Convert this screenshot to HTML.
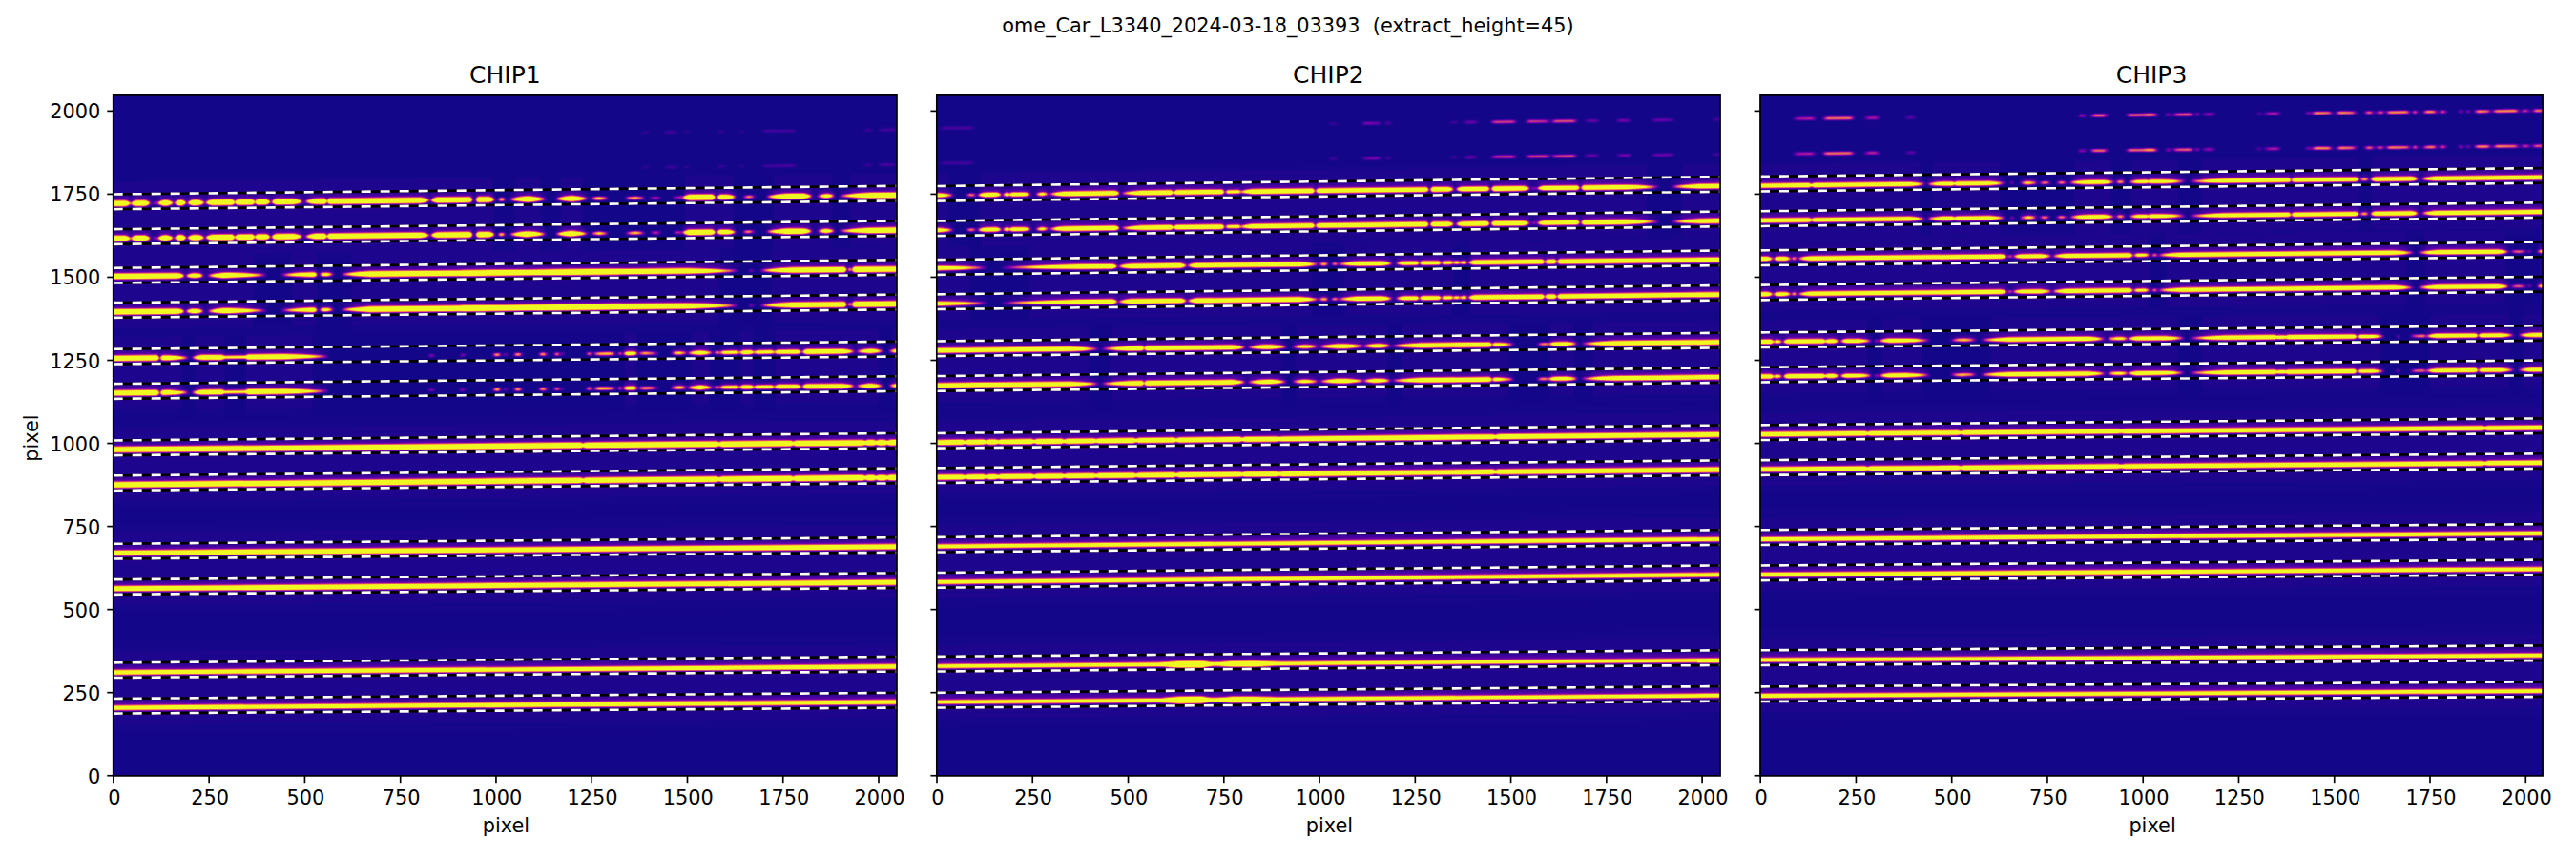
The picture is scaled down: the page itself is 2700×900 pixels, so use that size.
<!DOCTYPE html>
<html lang="en"><head><meta charset="utf-8"><title>ome_Car_L3340_2024-03-18_03393</title>
<style>html,body{margin:0;padding:0;background:#fff}body{width:2700px;height:900px;overflow:hidden}svg{display:block}text{font-family:"DejaVu Sans","Liberation Sans",sans-serif;fill:#000}.t{font-size:20.83px}.h{font-size:25px}.sp{fill:none;stroke:#000;stroke-width:1.67}.tk{stroke:#000;stroke-width:1.67}.dk{stroke:#000;stroke-width:2.6;fill:none}.dw{stroke:#fff;stroke-width:2.6;fill:none;stroke-dasharray:10 10}.i polygon{fill:#fff}</style></head><body>
<svg width="2700" height="900" viewBox="0 0 2700 900">
<defs>
<filter id="cm" filterUnits="userSpaceOnUse" x="0" y="0" width="2700" height="900" color-interpolation-filters="sRGB"><feGaussianBlur stdDeviation="1 1.25"/><feComponentTransfer><feFuncR type="table" tableValues=".075 .086 .106 .115 .132 .141 .156 .164 .179 .186 .200 .207 .221 .228 .241 .248 .261 .268 .281 .287 .300 .306 .319 .325 .338 .344 .356 .363 .375 .381 .393 .399 .412 .418 .430 .442 .448 .460 .466 .477 .483 .495 .501 .512 .518 .529 .535 .546 .552 .563 .568 .579 .584 .595 .600 .611 .616 .626 .631 .641 .646 .656 .660 .670 .675 .684 .688 .697 .702 .711 .715 .723 .728 .736 .740 .748 .752 .760 .764 .772 .776 .783 .787 .795 .798 .805 .809 .816 .820 .827 .830 .837 .840 .847 .850 .857 .860 .866 .869 .875 .878 .884 .887 .893 .896 .902 .905 .910 .913 .918 .921 .926 .928 .933 .936 .940 .943 .947 .949 .953 .957 .959 .963 .965 .969 .970 .973 .975 .978 .979 .982 .983 .985 .986 .988 .989 .991 .991 .993 .993 .994 .994 .994 .995 .994 .994 .994 .993 .993 .992 .990 .990 .988 .987 .984 .983 .980 .978 .974 .973 .968 .966 .962 .959 .954 .952 .947 .944 .940 .940 .940 .940 .940 .940 .940 .940 .940 .940 .940 .940 .940 .940 .940 .940 .940 .940 .940 .940 .940 .940 .940 .940 .940 .940 .940 .940 .940 .940 .940 .940 .940 .940 .940 .940 .940 .940 .940 .940 .940 .940 .940 .940 .940 .940 .940 .940 .940 .940 .940 .940 .940 .940 .940 .940 .940 .940 .940 .940 .940 .940 .940 .940 .940 .940 .940 .940 .940 .940 .940 .940 .940 .940 .940 .940 .940 .940 .940 .940 .940 .940 .940 .940 .940 .940 .940 .940"/><feFuncG type="table" tableValues=".027 .026 .024 .024 .022 .022 .021 .020 .019 .019 .018 .017 .016 .016 .015 .014 .013 .013 .011 .011 .010 .009 .008 .007 .006 .005 .004 .003 .002 .002 .001 .001 .001 .001 .001 .002 .002 .004 .005 .007 .008 .012 .014 .019 .022 .028 .031 .039 .043 .052 .056 .064 .069 .077 .082 .090 .095 .103 .108 .116 .121 .130 .134 .143 .147 .156 .161 .170 .174 .183 .187 .196 .201 .209 .214 .223 .227 .236 .240 .249 .254 .263 .267 .276 .280 .289 .293 .302 .307 .316 .320 .329 .334 .343 .347 .356 .361 .370 .374 .383 .388 .397 .402 .411 .416 .425 .430 .439 .444 .454 .458 .468 .473 .483 .488 .498 .503 .513 .518 .528 .538 .543 .554 .559 .570 .575 .586 .591 .602 .608 .619 .624 .635 .641 .652 .658 .670 .675 .687 .693 .705 .711 .723 .729 .741 .747 .759 .765 .778 .784 .797 .803 .816 .822 .835 .842 .855 .861 .875 .881 .895 .901 .915 .921 .935 .942 .955 .962 .975 .975 .975 .975 .975 .975 .975 .975 .975 .975 .975 .975 .975 .975 .975 .975 .975 .975 .975 .975 .975 .975 .975 .975 .975 .975 .975 .975 .975 .975 .975 .975 .975 .975 .975 .975 .975 .975 .975 .975 .975 .975 .975 .975 .975 .975 .975 .975 .975 .975 .975 .975 .975 .975 .975 .975 .975 .975 .975 .975 .975 .975 .975 .975 .975 .975 .975 .975 .975 .975 .975 .975 .975 .975 .975 .975 .975 .975 .975 .975 .975 .975 .975 .975 .975 .975 .975 .975"/><feFuncB type="table" tableValues=".538 .543 .551 .555 .563 .567 .574 .577 .584 .587 .593 .596 .602 .605 .610 .613 .618 .620 .625 .627 .632 .634 .638 .640 .643 .645 .648 .649 .652 .653 .655 .656 .658 .658 .659 .660 .660 .660 .660 .660 .659 .658 .657 .655 .654 .652 .650 .647 .645 .642 .639 .635 .633 .628 .625 .620 .617 .611 .608 .602 .599 .592 .589 .582 .579 .572 .568 .561 .557 .550 .546 .539 .535 .528 .524 .517 .513 .506 .502 .495 .491 .484 .480 .473 .470 .462 .459 .452 .448 .441 .438 .431 .427 .421 .417 .410 .407 .400 .397 .390 .387 .380 .376 .370 .366 .360 .356 .350 .346 .340 .336 .329 .326 .319 .316 .309 .306 .299 .296 .289 .282 .279 .272 .269 .262 .258 .252 .248 .241 .238 .231 .228 .221 .218 .211 .208 .202 .198 .192 .189 .183 .180 .174 .172 .166 .164 .159 .157 .153 .151 .148 .147 .144 .144 .143 .142 .142 .143 .144 .145 .147 .148 .151 .152 .153 .153 .150 .147 .131 .131 .131 .131 .131 .131 .131 .131 .131 .131 .131 .131 .131 .131 .131 .131 .131 .131 .131 .131 .131 .131 .131 .131 .131 .131 .131 .131 .131 .131 .131 .131 .131 .131 .131 .131 .131 .131 .131 .131 .131 .131 .131 .131 .131 .131 .131 .131 .131 .131 .131 .131 .131 .131 .131 .131 .131 .131 .131 .131 .131 .131 .131 .131 .131 .131 .131 .131 .131 .131 .131 .131 .131 .131 .131 .131 .131 .131 .131 .131 .131 .131 .131 .131 .131 .131 .131 .131"/></feComponentTransfer></filter>
<filter id="cm2" filterUnits="userSpaceOnUse" x="0" y="0" width="2700" height="900" color-interpolation-filters="sRGB"><feGaussianBlur stdDeviation="0.9 0.85"/><feComponentTransfer><feFuncR type="table" tableValues=".075 .086 .106 .115 .132 .141 .156 .164 .179 .186 .200 .207 .221 .228 .241 .248 .261 .268 .281 .287 .300 .306 .319 .325 .338 .344 .356 .363 .375 .381 .393 .399 .412 .418 .430 .442 .448 .460 .466 .477 .483 .495 .501 .512 .518 .529 .535 .546 .552 .563 .568 .579 .584 .595 .600 .611 .616 .626 .631 .641 .646 .656 .660 .670 .675 .684 .688 .697 .702 .711 .715 .723 .728 .736 .740 .748 .752 .760 .764 .772 .776 .783 .787 .795 .798 .805 .809 .816 .820 .827 .830 .837 .840 .847 .850 .857 .860 .866 .869 .875 .878 .884 .887 .893 .896 .902 .905 .910 .913 .918 .921 .926 .928 .933 .936 .940 .943 .947 .949 .953 .957 .959 .963 .965 .969 .970 .973 .975 .978 .979 .982 .983 .985 .986 .988 .989 .991 .991 .993 .993 .994 .994 .994 .995 .994 .994 .994 .993 .993 .992 .990 .990 .988 .987 .984 .983 .980 .978 .974 .973 .968 .966 .962 .959 .954 .952 .947 .944 .940 .940 .940 .940 .940 .940 .940 .940 .940 .940 .940 .940 .940 .940 .940 .940 .940 .940 .940 .940 .940 .940 .940 .940 .940 .940 .940 .940 .940 .940 .940 .940 .940 .940 .940 .940 .940 .940 .940 .940 .940 .940 .940 .940 .940 .940 .940 .940 .940 .940 .940 .940 .940 .940 .940 .940 .940 .940 .940 .940 .940 .940 .940 .940 .940 .940 .940 .940 .940 .940 .940 .940 .940 .940 .940 .940 .940 .940 .940 .940 .940 .940 .940 .940 .940 .940 .940 .940"/><feFuncG type="table" tableValues=".027 .026 .024 .024 .022 .022 .021 .020 .019 .019 .018 .017 .016 .016 .015 .014 .013 .013 .011 .011 .010 .009 .008 .007 .006 .005 .004 .003 .002 .002 .001 .001 .001 .001 .001 .002 .002 .004 .005 .007 .008 .012 .014 .019 .022 .028 .031 .039 .043 .052 .056 .064 .069 .077 .082 .090 .095 .103 .108 .116 .121 .130 .134 .143 .147 .156 .161 .170 .174 .183 .187 .196 .201 .209 .214 .223 .227 .236 .240 .249 .254 .263 .267 .276 .280 .289 .293 .302 .307 .316 .320 .329 .334 .343 .347 .356 .361 .370 .374 .383 .388 .397 .402 .411 .416 .425 .430 .439 .444 .454 .458 .468 .473 .483 .488 .498 .503 .513 .518 .528 .538 .543 .554 .559 .570 .575 .586 .591 .602 .608 .619 .624 .635 .641 .652 .658 .670 .675 .687 .693 .705 .711 .723 .729 .741 .747 .759 .765 .778 .784 .797 .803 .816 .822 .835 .842 .855 .861 .875 .881 .895 .901 .915 .921 .935 .942 .955 .962 .975 .975 .975 .975 .975 .975 .975 .975 .975 .975 .975 .975 .975 .975 .975 .975 .975 .975 .975 .975 .975 .975 .975 .975 .975 .975 .975 .975 .975 .975 .975 .975 .975 .975 .975 .975 .975 .975 .975 .975 .975 .975 .975 .975 .975 .975 .975 .975 .975 .975 .975 .975 .975 .975 .975 .975 .975 .975 .975 .975 .975 .975 .975 .975 .975 .975 .975 .975 .975 .975 .975 .975 .975 .975 .975 .975 .975 .975 .975 .975 .975 .975 .975 .975 .975 .975 .975 .975"/><feFuncB type="table" tableValues=".538 .543 .551 .555 .563 .567 .574 .577 .584 .587 .593 .596 .602 .605 .610 .613 .618 .620 .625 .627 .632 .634 .638 .640 .643 .645 .648 .649 .652 .653 .655 .656 .658 .658 .659 .660 .660 .660 .660 .660 .659 .658 .657 .655 .654 .652 .650 .647 .645 .642 .639 .635 .633 .628 .625 .620 .617 .611 .608 .602 .599 .592 .589 .582 .579 .572 .568 .561 .557 .550 .546 .539 .535 .528 .524 .517 .513 .506 .502 .495 .491 .484 .480 .473 .470 .462 .459 .452 .448 .441 .438 .431 .427 .421 .417 .410 .407 .400 .397 .390 .387 .380 .376 .370 .366 .360 .356 .350 .346 .340 .336 .329 .326 .319 .316 .309 .306 .299 .296 .289 .282 .279 .272 .269 .262 .258 .252 .248 .241 .238 .231 .228 .221 .218 .211 .208 .202 .198 .192 .189 .183 .180 .174 .172 .166 .164 .159 .157 .153 .151 .148 .147 .144 .144 .143 .142 .142 .143 .144 .145 .147 .148 .151 .152 .153 .153 .150 .147 .131 .131 .131 .131 .131 .131 .131 .131 .131 .131 .131 .131 .131 .131 .131 .131 .131 .131 .131 .131 .131 .131 .131 .131 .131 .131 .131 .131 .131 .131 .131 .131 .131 .131 .131 .131 .131 .131 .131 .131 .131 .131 .131 .131 .131 .131 .131 .131 .131 .131 .131 .131 .131 .131 .131 .131 .131 .131 .131 .131 .131 .131 .131 .131 .131 .131 .131 .131 .131 .131 .131 .131 .131 .131 .131 .131 .131 .131 .131 .131 .131 .131 .131 .131 .131 .131 .131 .131"/></feComponentTransfer></filter>
<clipPath id="c0"><rect x="118.7" y="99.85" width="821.3" height="713.05"/></clipPath>
<clipPath id="c1"><rect x="981.8" y="99.85" width="821.25" height="713.05"/></clipPath>
<clipPath id="c2"><rect x="1844.97" y="99.85" width="820.13" height="713.05"/></clipPath>
</defs>
<rect width="2700" height="900" fill="#fff"/>
<g clip-path="url(#c0)">
<g class="i" filter="url(#cm)">
<rect x="98.7" y="79.85" width="861.3" height="753.05" fill="#000"/>
<g opacity="0.009">
<polygon points="116.3,201.78 516.4,197.51 516.4,217.51 116.3,221.78"/>
<polygon points="540.5,197.26 565.7,196.99 565.7,216.99 540.5,217.26"/>
<polygon points="588.4,196.75 610,196.52 610,216.52 588.4,216.75"/>
<polygon points="718,195.37 768.1,194.83 768.1,214.83 718,215.37"/>
<polygon points="810.8,194.38 872.2,193.72 872.2,213.72 810.8,214.38"/>
<polygon points="891.6,193.52 946.7,192.93 946.7,212.93 891.6,213.52"/>
<polygon points="116.3,238.43 516.4,234.19 516.4,254.19 116.3,258.43"/>
<polygon points="540.5,233.93 565.7,233.67 565.7,253.67 540.5,253.93"/>
<polygon points="588.4,233.42 610,233.2 610,253.2 588.4,253.42"/>
<polygon points="718,232.05 768.1,231.52 768.1,251.52 718,252.05"/>
<polygon points="810.8,231.07 872.2,230.42 872.2,250.42 810.8,251.07"/>
<polygon points="891.6,230.21 946.7,229.63 946.7,249.63 891.6,250.21"/>
<polygon points="116.3,278.12 264.9,276.75 264.9,296.75 116.3,298.12"/>
<polygon points="305.8,276.37 331.5,276.13 331.5,296.13 305.8,296.37"/>
<polygon points="368.7,275.79 754,272.22 754,292.22 368.7,295.79"/>
<polygon points="809.4,271.71 946.7,270.44 946.7,290.44 809.4,291.71"/>
<polygon points="116.3,315.42 264.9,313.89 264.9,333.89 116.3,335.42"/>
<polygon points="305.8,313.46 331.5,313.2 331.5,333.2 305.8,333.46"/>
<polygon points="368.7,312.81 754,308.82 754,328.82 368.7,332.81"/>
<polygon points="809.4,308.25 946.7,306.83 946.7,326.83 809.4,328.25"/>
<polygon points="116.3,364.02 190.3,363.31 190.3,383.31 116.3,384.02"/>
<polygon points="205.1,363.17 234.8,362.88 234.8,382.88 205.1,383.17"/>
<polygon points="257.7,362.66 327,362 327,382 257.7,382.66"/>
<polygon points="654.9,358.84 666.7,358.73 666.7,378.73 654.9,378.84"/>
<polygon points="725.1,358.17 742.6,358 742.6,378 725.1,378.17"/>
<polygon points="776.2,357.68 789.3,357.55 789.3,377.55 776.2,377.68"/>
<polygon points="812.9,357.32 921.1,356.28 921.1,376.28 812.9,377.32"/>
<polygon points="935.8,356.14 953.3,355.97 953.3,375.97 935.8,376.14"/>
<polygon points="116.3,400.42 190.3,399.71 190.3,419.71 116.3,420.42"/>
<polygon points="205.1,399.57 234.8,399.28 234.8,419.28 205.1,419.57"/>
<polygon points="257.7,399.06 327,398.4 327,418.4 257.7,419.06"/>
<polygon points="654.9,395.24 666.7,395.13 666.7,415.13 654.9,415.24"/>
<polygon points="725.1,394.57 742.6,394.4 742.6,414.4 725.1,414.57"/>
<polygon points="776.2,394.08 789.3,393.95 789.3,413.95 776.2,414.08"/>
<polygon points="812.9,393.72 921.1,392.68 921.1,412.68 812.9,413.72"/>
<polygon points="935.8,392.54 953.3,392.37 953.3,412.37 935.8,412.54"/>
<polygon points="103.7,459.84 955,452.06 955,472.06 103.7,479.84"/>
<polygon points="103.7,496.64 955,488.76 955,508.76 103.7,516.64"/>
<polygon points="103.7,568.12 955,561.28 955,581.28 103.7,588.12"/>
<polygon points="103.7,605.52 955,598.48 955,618.48 103.7,625.52"/>
<polygon points="103.7,693.21 955,686.79 955,706.79 103.7,713.21"/>
<polygon points="103.7,730.31 955,723.99 955,743.99 103.7,750.31"/>
</g>
<g opacity="0.008">
<polygon points="116.3,191.78 516.4,187.51 516.4,225.51 116.3,229.78"/>
<polygon points="540.5,187.26 565.7,186.99 565.7,224.99 540.5,225.26"/>
<polygon points="588.4,186.75 610,186.52 610,224.52 588.4,224.75"/>
<polygon points="718,185.37 768.1,184.83 768.1,222.83 718,223.37"/>
<polygon points="810.8,184.38 872.2,183.72 872.2,221.72 810.8,222.38"/>
<polygon points="891.6,183.52 946.7,182.93 946.7,220.93 891.6,221.52"/>
<polygon points="116.3,228.43 516.4,224.19 516.4,262.19 116.3,266.43"/>
<polygon points="540.5,223.93 565.7,223.67 565.7,261.67 540.5,261.93"/>
<polygon points="588.4,223.42 610,223.2 610,261.2 588.4,261.42"/>
<polygon points="718,222.05 768.1,221.52 768.1,259.52 718,260.05"/>
<polygon points="810.8,221.07 872.2,220.42 872.2,258.42 810.8,259.07"/>
<polygon points="891.6,220.21 946.7,219.63 946.7,257.63 891.6,258.21"/>
<polygon points="116.3,268.12 264.9,266.75 264.9,304.75 116.3,306.12"/>
<polygon points="305.8,266.37 331.5,266.13 331.5,304.13 305.8,304.37"/>
<polygon points="368.7,265.79 754,262.22 754,300.22 368.7,303.79"/>
<polygon points="809.4,261.71 946.7,260.44 946.7,298.44 809.4,299.71"/>
<polygon points="116.3,305.42 264.9,303.89 264.9,341.89 116.3,343.42"/>
<polygon points="305.8,303.46 331.5,303.2 331.5,341.2 305.8,341.46"/>
<polygon points="368.7,302.81 754,298.82 754,336.82 368.7,340.81"/>
<polygon points="809.4,298.25 946.7,296.83 946.7,334.83 809.4,336.25"/>
<polygon points="116.3,354.02 190.3,353.31 190.3,391.31 116.3,392.02"/>
<polygon points="205.1,353.17 234.8,352.88 234.8,390.88 205.1,391.17"/>
<polygon points="257.7,352.66 327,352 327,390 257.7,390.66"/>
<polygon points="654.9,348.84 666.7,348.73 666.7,386.73 654.9,386.84"/>
<polygon points="725.1,348.17 742.6,348 742.6,386 725.1,386.17"/>
<polygon points="776.2,347.68 789.3,347.55 789.3,385.55 776.2,385.68"/>
<polygon points="812.9,347.32 921.1,346.28 921.1,384.28 812.9,385.32"/>
<polygon points="935.8,346.14 953.3,345.97 953.3,383.97 935.8,384.14"/>
<polygon points="116.3,390.42 190.3,389.71 190.3,427.71 116.3,428.42"/>
<polygon points="205.1,389.57 234.8,389.28 234.8,427.28 205.1,427.57"/>
<polygon points="257.7,389.06 327,388.4 327,426.4 257.7,427.06"/>
<polygon points="654.9,385.24 666.7,385.13 666.7,423.13 654.9,423.24"/>
<polygon points="725.1,384.57 742.6,384.4 742.6,422.4 725.1,422.57"/>
<polygon points="776.2,384.08 789.3,383.95 789.3,421.95 776.2,422.08"/>
<polygon points="812.9,383.72 921.1,382.68 921.1,420.68 812.9,421.72"/>
<polygon points="935.8,382.54 953.3,382.37 953.3,420.37 935.8,420.54"/>
<polygon points="103.7,449.84 955,442.06 955,480.06 103.7,487.84"/>
<polygon points="103.7,486.64 955,478.76 955,516.76 103.7,524.64"/>
<polygon points="103.7,558.12 955,551.28 955,589.28 103.7,596.12"/>
<polygon points="103.7,595.52 955,588.48 955,626.48 103.7,633.52"/>
<polygon points="103.7,683.21 955,676.79 955,714.79 103.7,721.21"/>
<polygon points="103.7,720.31 955,713.99 955,751.99 103.7,758.31"/>
</g>
<g opacity="0.004">
<polygon points="116.3,181.28 516.4,177.01 516.4,235.01 116.3,239.28"/>
<polygon points="540.5,176.76 565.7,176.49 565.7,234.49 540.5,234.76"/>
<polygon points="588.4,176.25 610,176.02 610,234.02 588.4,234.25"/>
<polygon points="718,174.87 768.1,174.33 768.1,232.33 718,232.87"/>
<polygon points="810.8,173.88 872.2,173.22 872.2,231.22 810.8,231.88"/>
<polygon points="891.6,173.02 946.7,172.43 946.7,230.43 891.6,231.02"/>
<polygon points="116.3,217.93 516.4,213.69 516.4,271.69 116.3,275.93"/>
<polygon points="540.5,213.43 565.7,213.17 565.7,271.17 540.5,271.43"/>
<polygon points="588.4,212.92 610,212.7 610,270.7 588.4,270.92"/>
<polygon points="718,211.55 768.1,211.02 768.1,269.02 718,269.55"/>
<polygon points="810.8,210.57 872.2,209.92 872.2,267.92 810.8,268.57"/>
<polygon points="891.6,209.71 946.7,209.13 946.7,267.13 891.6,267.71"/>
<polygon points="116.3,257.62 264.9,256.25 264.9,314.25 116.3,315.62"/>
<polygon points="305.8,255.87 331.5,255.63 331.5,313.63 305.8,313.87"/>
<polygon points="368.7,255.29 754,251.72 754,309.72 368.7,313.29"/>
<polygon points="809.4,251.21 946.7,249.94 946.7,307.94 809.4,309.21"/>
<polygon points="116.3,294.92 264.9,293.39 264.9,351.39 116.3,352.92"/>
<polygon points="305.8,292.96 331.5,292.7 331.5,350.7 305.8,350.96"/>
<polygon points="368.7,292.31 754,288.32 754,346.32 368.7,350.31"/>
<polygon points="809.4,287.75 946.7,286.33 946.7,344.33 809.4,345.75"/>
<polygon points="116.3,343.52 190.3,342.81 190.3,400.81 116.3,401.52"/>
<polygon points="205.1,342.67 234.8,342.38 234.8,400.38 205.1,400.67"/>
<polygon points="257.7,342.16 327,341.5 327,399.5 257.7,400.16"/>
<polygon points="654.9,338.34 666.7,338.23 666.7,396.23 654.9,396.34"/>
<polygon points="725.1,337.67 742.6,337.5 742.6,395.5 725.1,395.67"/>
<polygon points="776.2,337.18 789.3,337.05 789.3,395.05 776.2,395.18"/>
<polygon points="812.9,336.82 921.1,335.78 921.1,393.78 812.9,394.82"/>
<polygon points="935.8,335.64 953.3,335.47 953.3,393.47 935.8,393.64"/>
<polygon points="116.3,379.92 190.3,379.21 190.3,437.21 116.3,437.92"/>
<polygon points="205.1,379.07 234.8,378.78 234.8,436.78 205.1,437.07"/>
<polygon points="257.7,378.56 327,377.9 327,435.9 257.7,436.56"/>
<polygon points="654.9,374.74 666.7,374.63 666.7,432.63 654.9,432.74"/>
<polygon points="725.1,374.07 742.6,373.9 742.6,431.9 725.1,432.07"/>
<polygon points="776.2,373.58 789.3,373.45 789.3,431.45 776.2,431.58"/>
<polygon points="812.9,373.22 921.1,372.18 921.1,430.18 812.9,431.22"/>
<polygon points="935.8,372.04 953.3,371.87 953.3,429.87 935.8,430.04"/>
<polygon points="103.7,439.34 955,431.56 955,489.56 103.7,497.34"/>
<polygon points="103.7,476.14 955,468.26 955,526.26 103.7,534.14"/>
<polygon points="103.7,547.62 955,540.78 955,598.78 103.7,605.62"/>
<polygon points="103.7,585.02 955,577.98 955,635.98 103.7,643.02"/>
<polygon points="103.7,672.71 955,666.29 955,724.29 103.7,730.71"/>
<polygon points="103.7,709.81 955,703.49 955,761.49 103.7,767.81"/>
</g>
<g opacity="0.055">
<polygon points="116.3,207.28 116.3,207.28 131.6,207.11 134.7,207.84 137.9,209.05 134.7,210.32 131.6,211.11 116.3,211.28 116.3,211.28"/>
<polygon points="136.8,209.06 139.4,207.79 141.9,207 151.9,206.9 155.1,207.62 158.2,208.83 155.1,210.1 151.9,210.9 141.9,211 139.4,210.27"/>
<polygon points="164.3,208.76 168.1,207.48 171.8,206.68 175,206.65 178.8,207.37 182.5,208.57 178.8,209.85 175,210.65 171.8,210.68 168.1,209.97"/>
<polygon points="182.5,208.57 185.1,207.3 187.6,206.52 190.7,206.48 193.2,207.21 195.7,208.43 193.2,209.7 190.7,210.48 187.6,210.52 185.1,209.79"/>
<polygon points="196,208.43 199.1,207.15 202.2,206.36 207.5,206.3 211.3,207.02 215,208.22 211.3,209.51 207.5,210.3 202.2,210.36 199.1,209.64"/>
<polygon points="214.6,208.23 218.4,206.95 222.2,206.15 243.8,205.92 245,206.66 246.3,207.89 245,209.15 243.8,209.92 222.2,210.15 218.4,209.43"/>
<polygon points="246.3,207.89 247.5,206.64 248.8,205.86 264.7,205.69 266,206.44 267.2,207.67 266,208.92 264.7,209.69 248.8,209.86 247.5,209.12"/>
<polygon points="267.2,207.67 268.5,206.41 269.7,205.64 278.8,205.54 281.3,206.28 283.8,207.49 281.3,208.76 278.8,209.54 269.7,209.64 268.5,208.9"/>
<polygon points="284.2,207.49 286.7,206.22 289.2,205.43 308.1,205.23 313.1,205.94 318.2,207.12 313.1,208.42 308.1,209.23 289.2,209.43 286.7,208.7"/>
<polygon points="318.6,207.12 324.9,205.81 331.2,204.99 340.6,204.89 341.6,205.63 342.6,206.86 341.6,208.12 340.6,208.89 331.2,208.99 324.9,208.3"/>
<polygon points="342.8,206.86 343.8,205.61 344.8,204.84 441.2,203.81 446.3,204.52 451.3,205.71 446.3,207 441.2,207.81 344.8,208.84 343.8,208.09"/>
<polygon points="450.7,205.71 454.4,204.43 458.2,203.63 492.8,203.26 494.1,204.01 495.3,205.24 494.1,206.49 492.8,207.26 458.2,207.63 454.4,206.92"/>
<polygon points="498.7,205.2 499.9,203.95 501.2,203.17 512.7,203.05 515.9,203.78 519,204.99 515.9,206.26 512.7,207.05 501.2,207.17 499.9,206.43"/>
<polygon points="532.6,204.84 542.1,203.5 551.5,202.64 554.7,202.61 564.1,203.26 573.5,204.4 564.1,205.75 554.7,206.61 551.5,206.64 542.1,205.98"/>
<polygon points="581.1,204.32 589.9,202.99 598.7,202.14 599.7,202.13 608.5,202.79 617.3,203.94 608.5,205.27 599.7,206.13 598.7,206.14 589.9,205.47"/>
<polygon points="714.8,202.9 718.6,201.62 722.4,200.82 746.5,200.56 748.4,201.3 750.3,202.52 748.4,203.78 746.5,204.56 722.4,204.82 718.6,204.1"/>
<polygon points="751.1,202.91 753,201.77 754.9,201.07 762.2,200.99 767.2,201.62 772.3,202.69 767.2,203.86 762.2,204.59 754.9,204.67 753,204.01"/>
<polygon points="801.4,201.98 812.7,200.61 824,199.74 841.9,199.55 846.9,200.25 851.9,201.44 846.9,202.73 841.9,203.55 824,203.74 812.7,203.1"/>
<polygon points="856.1,202.39 860.5,201.42 864.9,200.8 867,200.78 871.4,201.3 875.8,202.18 871.4,203.16 867,203.78 864.9,203.8 860.5,203.28"/>
<polygon points="876.9,201.17 894.5,199.74 912.1,198.8 946.7,198.43 946.7,198.43 946.7,202.43 946.7,202.43 912.1,202.8 894.5,202.23"/>
<polygon points="116.3,243.93 116.3,243.93 131.6,243.76 134.7,244.49 137.9,245.7 134.7,246.97 131.6,247.76 116.3,247.93 116.3,247.93"/>
<polygon points="136.8,245.71 139.4,244.44 141.9,243.65 151.9,243.55 155.1,244.27 158.2,245.48 155.1,246.76 151.9,247.55 141.9,247.65 139.4,246.92"/>
<polygon points="164.3,245.42 168.1,244.13 171.8,243.34 175,243.3 178.8,244.02 182.5,245.22 178.8,246.51 175,247.3 171.8,247.34 168.1,246.62"/>
<polygon points="182.5,245.22 185.1,243.95 187.6,243.17 190.7,243.14 193.2,243.87 195.7,245.08 193.2,246.35 190.7,247.14 187.6,247.17 185.1,246.44"/>
<polygon points="196,245.08 199.1,243.81 202.2,243.02 207.5,242.96 211.3,243.68 215,244.88 211.3,246.16 207.5,246.96 202.2,247.02 199.1,246.29"/>
<polygon points="214.6,244.88 218.4,243.6 222.2,242.8 243.8,242.58 245,243.32 246.3,244.55 245,245.8 243.8,246.58 222.2,246.8 218.4,246.09"/>
<polygon points="246.3,244.55 247.5,243.29 248.8,242.52 264.7,242.35 266,243.1 267.2,244.33 266,245.58 264.7,246.35 248.8,246.52 247.5,245.78"/>
<polygon points="267.2,244.33 268.5,243.07 269.7,242.3 278.8,242.2 281.3,242.94 283.8,244.15 281.3,245.42 278.8,246.2 269.7,246.3 268.5,245.56"/>
<polygon points="284.2,244.15 286.7,242.88 289.2,242.09 308.1,241.89 313.1,242.6 318.2,243.79 313.1,245.08 308.1,245.89 289.2,246.09 286.7,245.36"/>
<polygon points="318.6,243.78 324.9,242.47 331.2,241.65 340.6,241.55 341.6,242.3 342.6,243.53 341.6,244.78 340.6,245.55 331.2,245.65 324.9,244.96"/>
<polygon points="342.8,243.53 343.8,242.27 344.8,241.5 441.2,240.48 446.3,241.19 451.3,242.38 446.3,243.67 441.2,244.48 344.8,245.5 343.8,244.76"/>
<polygon points="450.7,242.38 454.4,241.1 458.2,240.3 492.8,239.94 494.1,240.68 495.3,241.91 494.1,243.17 492.8,243.94 458.2,244.3 454.4,243.59"/>
<polygon points="498.7,241.87 499.9,240.62 501.2,239.85 512.7,239.73 515.9,240.45 519,241.66 515.9,242.93 512.7,243.73 501.2,243.85 499.9,243.1"/>
<polygon points="532.6,241.52 542.1,240.17 551.5,239.32 554.7,239.28 564.1,239.94 573.5,241.08 564.1,242.42 554.7,243.28 551.5,243.32 542.1,242.66"/>
<polygon points="581.1,241 589.9,239.67 598.7,238.82 599.7,238.8 608.5,239.47 617.3,240.62 608.5,241.95 599.7,242.8 598.7,242.82 589.9,242.15"/>
<polygon points="714.8,239.59 718.6,238.3 722.4,237.51 746.5,237.25 748.4,237.99 750.3,239.21 748.4,240.47 746.5,241.25 722.4,241.51 718.6,240.79"/>
<polygon points="751.1,239.6 753,238.46 754.9,237.76 762.2,237.68 767.2,238.31 772.3,239.38 767.2,240.55 762.2,241.28 754.9,241.36 753,240.7"/>
<polygon points="801.4,238.67 812.7,237.31 824,236.43 841.9,236.24 846.9,236.94 851.9,238.13 846.9,239.43 841.9,240.24 824,240.43 812.7,239.79"/>
<polygon points="856.1,239.09 860.5,238.11 864.9,237.5 867,237.47 871.4,237.99 875.8,238.88 871.4,239.86 867,240.47 864.9,240.5 860.5,239.97"/>
<polygon points="876.9,237.87 894.5,236.44 912.1,235.5 946.7,235.13 946.7,235.13 946.7,239.13 946.7,239.13 912.1,239.5 894.5,238.92"/>
<polygon points="116.3,283.62 116.3,283.62 186.5,282.97 190.3,283.7 194.1,284.9 190.3,286.18 186.5,286.97 116.3,287.62 116.3,287.62"/>
<polygon points="194.3,285.5 198.1,284.41 201.8,283.73 206.4,283.69 210.2,284.3 214,285.32 210.2,286.41 206.4,287.09 201.8,287.13 198.1,286.52"/>
<polygon points="216.1,284.9 224.9,283.64 233.7,282.84 240,282.78 261.4,283.3 282.7,284.28 261.4,285.66 240,286.58 233.7,286.64 224.9,286"/>
<polygon points="292.2,284.59 308.5,283.39 324.9,282.59 329.7,282.55 331.2,283.18 332.7,284.22 331.2,285.29 329.7,285.95 324.9,285.99 308.5,285.5"/>
<polygon points="334.7,284.8 336.6,283.91 338.5,283.37 342.7,283.33 346.5,283.82 350.3,284.66 346.5,285.56 342.7,286.13 338.5,286.17 336.6,285.65"/>
<polygon points="355.1,283.41 371.4,282.02 387.8,281.11 650,278.68 650,278.68 650,282.68 650,282.68 387.8,285.11 371.4,284.5"/>
<polygon points="483.4,280.23 483.4,280.23 720.3,278.03 749.2,278.52 778.1,279.5 749.2,281.01 720.3,282.03 483.4,284.23 483.4,284.23"/>
<polygon points="793.6,279.35 812.5,277.94 831.4,277.01 885.3,276.51 886.3,277.26 887.3,278.49 886.3,279.74 885.3,280.51 831.4,281.01 812.5,280.42"/>
<polygon points="888.7,279.87 889.6,279.06 890.5,278.56 890.6,278.56 891.6,279.04 892.5,279.84 891.6,280.66 890.6,281.16 890.5,281.16 889.6,280.67"/>
<polygon points="892.8,278.44 894.1,277.18 895.3,276.41 946.7,275.94 946.7,275.94 946.7,279.94 946.7,279.94 895.3,280.41 894.1,279.67"/>
<polygon points="116.3,320.92 116.3,320.92 186.5,320.2 190.3,320.92 194.1,322.12 190.3,323.4 186.5,324.2 116.3,324.92 116.3,324.92"/>
<polygon points="194.3,322.72 198.1,321.62 201.8,320.94 206.4,320.89 210.2,321.5 214,322.51 210.2,323.61 206.4,324.29 201.8,324.34 198.1,323.73"/>
<polygon points="216.1,322.09 224.9,320.82 233.7,320.01 240,319.94 261.4,320.44 282.7,321.4 261.4,322.8 240,323.74 233.7,323.81 224.9,323.18"/>
<polygon points="292.2,321.7 308.5,320.48 324.9,319.67 329.7,319.62 331.2,320.24 332.7,321.28 331.2,322.36 329.7,323.02 324.9,323.07 308.5,322.59"/>
<polygon points="334.7,321.86 336.6,320.98 338.5,320.43 342.7,320.38 346.5,320.87 350.3,321.7 346.5,322.61 342.7,323.18 338.5,323.23 336.6,322.71"/>
<polygon points="355.1,320.45 371.4,319.04 387.8,318.12 650,315.4 650,315.4 650,319.4 650,319.4 387.8,322.12 371.4,321.53"/>
<polygon points="483.4,317.13 483.4,317.13 720.3,314.67 749.2,315.13 778.1,316.08 749.2,317.62 720.3,318.67 483.4,321.13 483.4,321.13"/>
<polygon points="793.6,315.91 812.5,314.48 831.4,313.52 885.3,312.97 886.3,313.71 887.3,314.95 886.3,316.2 885.3,316.97 831.4,317.52 812.5,316.96"/>
<polygon points="888.7,316.33 889.6,315.51 890.5,315.01 890.6,315.01 891.6,315.49 892.5,316.29 891.6,317.11 890.6,317.61 890.5,317.61 889.6,317.13"/>
<polygon points="892.8,314.89 894.1,313.63 895.3,312.86 946.7,312.33 946.7,312.33 946.7,316.33 946.7,316.33 895.3,316.86 894.1,316.12"/>
<polygon points="116.3,369.52 116.3,369.52 164.9,369.06 165.9,369.8 166.9,371.04 165.9,372.29 164.9,373.06 116.3,373.52 116.3,373.52"/>
<polygon points="167.9,371.23 169,370.04 170,369.31 177.1,369.24 188.4,369.85 199.7,370.92 188.4,372.21 177.1,373.04 170,373.11 169,372.4"/>
<polygon points="200.4,370.91 206,369.68 211.7,368.91 232.6,368.7 234.5,369.41 236.4,370.57 234.5,371.77 232.6,372.5 211.7,372.71 206,372.04"/>
<polygon points="234.6,371.79 235.1,370.97 235.6,370.48 257,370.27 257.5,370.76 258,371.56 257.5,372.37 257,372.87 235.6,373.08 235.1,372.59"/>
<polygon points="256.1,370.18 258,368.92 259.9,368.14 297.6,367.78 322.8,368.29 347.9,369.29 322.8,370.78 297.6,371.78 259.9,372.14 258,371.4"/>
<polygon points="652.9,367.36 655.3,366.41 657.7,365.82 663.9,365.76 666.3,366.3 668.7,367.21 666.3,368.16 663.9,368.76 657.7,368.82 655.3,368.27"/>
<polygon points="702.5,367.28 706.9,366.43 711.4,365.9 712.1,365.89 716.6,366.34 721,367.11 716.6,367.96 712.1,368.49 711.4,368.5 706.9,368.05"/>
<polygon points="719.3,366.32 726.2,365.2 733.2,364.49 734.4,364.48 741.4,365.05 748.4,366.04 741.4,367.17 734.4,367.88 733.2,367.89 726.2,367.31"/>
<polygon points="753.8,366.59 756.2,365.7 758.6,365.14 771.5,365.02 773.9,365.53 776.3,366.37 773.9,367.27 771.5,367.82 758.6,367.94 756.2,367.44"/>
<polygon points="774.2,365.99 776.6,364.98 779,364.35 786.5,364.28 788.9,364.86 791.3,365.83 788.9,366.85 786.5,367.48 779,367.55 776.6,366.97"/>
<polygon points="789.1,366.15 791.5,365.23 793.9,364.65 808.2,364.52 810.6,365.04 813,365.92 810.6,366.84 808.2,367.42 793.9,367.55 791.5,367.03"/>
<polygon points="810.9,365.54 813.3,364.49 815.7,363.85 835.8,363.65 838.2,364.25 840.6,365.26 838.2,366.3 835.8,366.95 815.7,367.15 813.3,366.54"/>
<polygon points="840.4,364.86 842.8,363.69 845.2,362.96 882.8,362.6 890,363.23 897.2,364.31 890,365.53 882.8,366.3 845.2,366.66 842.8,365.98"/>
<polygon points="896.5,364.52 903.7,363.36 910.9,362.63 912.7,362.61 919.9,363.21 927.1,364.22 919.9,365.38 912.7,366.11 910.9,366.13 903.7,365.54"/>
<polygon points="930.9,364.29 936.8,363.18 942.6,362.48 953.3,362.37 953.3,362.37 953.3,365.77 953.3,365.77 942.6,365.88 936.8,365.29"/>
<polygon points="116.3,405.92 116.3,405.92 164.9,405.46 165.9,406.2 166.9,407.44 165.9,408.69 164.9,409.46 116.3,409.92 116.3,409.92"/>
<polygon points="167.9,407.63 169,406.44 170,405.71 177.1,405.64 188.4,406.25 199.7,407.32 188.4,408.61 177.1,409.44 170,409.51 169,408.8"/>
<polygon points="200.4,407.31 206,406.08 211.7,405.31 232.6,405.1 234.5,405.81 236.4,406.97 234.5,408.17 232.6,408.9 211.7,409.11 206,408.44"/>
<polygon points="234.6,408.19 235.1,407.37 235.6,406.88 257,406.67 257.5,407.16 258,407.96 257.5,408.77 257,409.27 235.6,409.48 235.1,408.99"/>
<polygon points="256.1,406.58 258,405.32 259.9,404.54 297.6,404.18 322.8,404.69 347.9,405.69 322.8,407.18 297.6,408.18 259.9,408.54 258,407.8"/>
<polygon points="652.9,403.76 655.3,402.81 657.7,402.22 663.9,402.16 666.3,402.7 668.7,403.61 666.3,404.56 663.9,405.16 657.7,405.22 655.3,404.67"/>
<polygon points="702.5,403.68 706.9,402.83 711.4,402.3 712.1,402.29 716.6,402.74 721,403.51 716.6,404.36 712.1,404.89 711.4,404.9 706.9,404.45"/>
<polygon points="719.3,402.72 726.2,401.6 733.2,400.89 734.4,400.88 741.4,401.45 748.4,402.44 741.4,403.57 734.4,404.28 733.2,404.29 726.2,403.71"/>
<polygon points="753.8,402.99 756.2,402.1 758.6,401.54 771.5,401.42 773.9,401.93 776.3,402.77 773.9,403.67 771.5,404.22 758.6,404.34 756.2,403.84"/>
<polygon points="774.2,402.39 776.6,401.38 779,400.75 786.5,400.68 788.9,401.26 791.3,402.23 788.9,403.25 786.5,403.88 779,403.95 776.6,403.37"/>
<polygon points="789.1,402.55 791.5,401.63 793.9,401.05 808.2,400.92 810.6,401.44 813,402.32 810.6,403.24 808.2,403.82 793.9,403.95 791.5,403.43"/>
<polygon points="810.9,401.94 813.3,400.89 815.7,400.25 835.8,400.05 838.2,400.65 840.6,401.66 838.2,402.7 835.8,403.35 815.7,403.55 813.3,402.94"/>
<polygon points="840.4,401.26 842.8,400.09 845.2,399.36 882.8,399 890,399.63 897.2,400.71 890,401.93 882.8,402.7 845.2,403.06 842.8,402.38"/>
<polygon points="896.5,400.92 903.7,399.76 910.9,399.03 912.7,399.01 919.9,399.61 927.1,400.62 919.9,401.78 912.7,402.51 910.9,402.53 903.7,401.94"/>
<polygon points="930.9,400.69 936.8,399.58 942.6,398.88 953.3,398.77 953.3,398.77 953.3,402.17 953.3,402.17 942.6,402.28 936.8,401.69"/>
<polygon points="103.7,465.34 103.7,465.34 608.6,460.73 611,461.46 613.4,462.68 611,463.95 608.6,464.73 103.7,469.34 103.7,469.34"/>
<polygon points="609.2,462.72 611.6,461.46 613.9,460.68 751.1,459.42 753.5,460.16 755.9,461.38 753.5,462.65 751.1,463.42 613.9,464.68 611.6,463.94"/>
<polygon points="751.7,461.42 754.1,460.16 756.5,459.38 828.7,458.72 831.1,459.45 833.5,460.67 831.1,461.94 828.7,462.72 756.5,463.38 754.1,462.64"/>
<polygon points="829.3,460.71 831.7,459.45 834.1,458.67 904.2,458.03 906.6,458.76 909,459.98 906.6,461.25 904.2,462.03 834.1,462.67 831.7,461.93"/>
<polygon points="904.8,460.02 907.1,458.76 909.5,457.98 915.7,457.92 918.1,458.66 920.5,459.88 918.1,461.14 915.7,461.92 909.5,461.98 907.1,461.24"/>
<polygon points="916.3,459.92 918.7,458.65 921.1,457.87 927.2,457.82 929.6,458.55 932,459.77 929.6,461.04 927.2,461.82 921.1,461.87 918.7,461.14"/>
<polygon points="927.8,459.81 930.2,458.55 932.6,457.77 955,457.56 955,457.56 955,461.56 955,461.56 932.6,461.77 930.2,461.03"/>
<polygon points="103.7,502.14 103.7,502.14 608.6,497.47 611,498.2 613.4,499.42 611,500.69 608.6,501.47 103.7,506.14 103.7,506.14"/>
<polygon points="609.2,499.46 611.6,498.2 613.9,497.42 751.1,496.15 753.5,496.88 755.9,498.1 753.5,499.37 751.1,500.15 613.9,501.42 611.6,500.68"/>
<polygon points="751.7,498.14 754.1,496.88 756.5,496.1 828.7,495.43 831.1,496.17 833.5,497.39 831.1,498.65 828.7,499.43 756.5,500.1 754.1,499.36"/>
<polygon points="829.3,497.42 831.7,496.16 834.1,495.38 904.2,494.73 906.6,495.47 909,496.69 906.6,497.95 904.2,498.73 834.1,499.38 831.7,498.64"/>
<polygon points="904.8,496.73 907.1,495.46 909.5,494.68 915.7,494.62 918.1,495.36 920.5,496.58 918.1,497.84 915.7,498.62 909.5,498.68 907.1,497.95"/>
<polygon points="916.3,496.62 918.7,495.36 921.1,494.58 927.2,494.52 929.6,495.25 932,496.47 929.6,497.74 927.2,498.52 921.1,498.58 918.7,497.84"/>
<polygon points="927.8,496.51 930.2,495.25 932.6,494.47 955,494.26 955,494.26 955,498.26 955,498.26 932.6,498.47 930.2,497.73"/>
<polygon points="103.7,573.62 103.7,573.62 955,566.78 955,566.78 955,570.78 955,570.78 103.7,577.62 103.7,577.62"/>
<polygon points="103.7,611.02 103.7,611.02 955,603.98 955,603.98 955,607.98 955,607.98 103.7,615.02 103.7,615.02"/>
<polygon points="103.7,698.71 103.7,698.71 955,692.29 955,692.29 955,696.29 955,696.29 103.7,702.71 103.7,702.71"/>
<polygon points="103.7,735.81 103.7,735.81 955,729.49 955,729.49 955,733.49 955,733.49 103.7,739.81 103.7,739.81"/>
</g>
<g opacity="0.02">
<polygon points="116.3,203.78 116.3,203.78 131.6,203.61 134.7,205.09 137.9,207.55 134.7,210.06 131.6,211.61 116.3,211.78 116.3,211.78"/>
<polygon points="136.8,207.56 139.4,205.05 141.9,203.5 151.9,203.4 155.1,204.88 158.2,207.33 155.1,209.85 151.9,211.4 141.9,211.5 139.4,210.01"/>
<polygon points="164.3,207.26 168.1,204.74 171.8,203.18 175,203.15 178.8,204.63 182.5,207.07 178.8,209.59 175,211.15 171.8,211.18 168.1,209.71"/>
<polygon points="182.5,207.07 185.1,204.56 187.6,203.02 190.7,202.98 193.2,204.47 195.7,206.93 193.2,209.44 190.7,210.98 187.6,211.02 185.1,209.53"/>
<polygon points="196,206.93 199.1,204.41 202.2,202.86 207.5,202.8 211.3,204.28 215,206.72 211.3,209.25 207.5,210.8 202.2,210.86 199.1,209.38"/>
<polygon points="214.6,206.73 218.4,204.2 222.2,202.65 243.8,202.42 245,203.92 246.3,206.39 245,208.89 243.8,210.42 222.2,210.65 218.4,209.17"/>
<polygon points="246.3,206.39 247.5,203.89 248.8,202.36 264.7,202.19 266,203.7 267.2,206.17 266,208.67 264.7,210.19 248.8,210.36 247.5,208.86"/>
<polygon points="267.2,206.17 268.5,203.67 269.7,202.14 278.8,202.04 281.3,203.53 283.8,205.99 281.3,208.5 278.8,210.04 269.7,210.14 268.5,208.64"/>
<polygon points="284.2,205.99 286.7,203.48 289.2,201.93 308.1,201.73 313.1,203.19 318.2,205.62 313.1,208.16 308.1,209.73 289.2,209.93 286.7,208.44"/>
<polygon points="318.6,205.62 324.9,203.07 331.2,201.49 340.6,201.39 341.6,202.89 342.6,205.36 341.6,207.86 340.6,209.39 331.2,209.49 324.9,208.04"/>
<polygon points="342.8,205.36 343.8,202.87 344.8,201.34 441.2,200.31 446.3,201.78 451.3,204.21 446.3,206.74 441.2,208.31 344.8,209.34 343.8,207.84"/>
<polygon points="450.7,204.21 454.4,201.69 458.2,200.13 492.8,199.76 494.1,201.27 495.3,203.74 494.1,206.24 492.8,207.76 458.2,208.13 454.4,206.66"/>
<polygon points="498.7,203.7 499.9,201.2 501.2,199.67 512.7,199.55 515.9,201.03 519,203.49 515.9,206 512.7,207.55 501.2,207.67 499.9,206.17"/>
<polygon points="532.6,203.34 542.1,200.76 551.5,199.14 554.7,199.11 564.1,200.52 573.5,202.9 564.1,205.49 554.7,207.11 551.5,207.14 542.1,205.72"/>
<polygon points="581.1,202.82 589.9,200.25 598.7,198.64 599.7,198.63 608.5,200.05 617.3,202.44 608.5,205.02 599.7,206.63 598.7,206.64 589.9,205.21"/>
<polygon points="714.8,201.4 718.6,198.87 722.4,197.32 746.5,197.06 748.4,198.56 750.3,201.02 748.4,203.53 746.5,205.06 722.4,205.32 718.6,203.84"/>
<polygon points="751.1,201.56 753,199.31 754.9,197.92 762.2,197.84 767.2,199.15 772.3,201.34 767.2,203.63 762.2,205.04 754.9,205.12 753,203.78"/>
<polygon points="801.4,200.48 812.7,197.87 824,196.24 841.9,196.05 846.9,197.51 851.9,199.94 846.9,202.48 841.9,204.05 824,204.24 812.7,202.84"/>
<polygon points="856.1,201.27 860.5,199.36 864.9,198.17 867,198.15 871.4,199.24 875.8,201.06 871.4,202.97 867,204.15 864.9,204.17 860.5,203.08"/>
<polygon points="876.9,199.67 894.5,197 912.1,195.3 946.7,194.93 946.7,194.93 946.7,202.93 946.7,202.93 912.1,203.3 894.5,201.97"/>
<polygon points="116.3,240.43 116.3,240.43 131.6,240.26 134.7,241.75 137.9,244.2 134.7,246.71 131.6,248.26 116.3,248.43 116.3,248.43"/>
<polygon points="136.8,244.21 139.4,241.7 141.9,240.15 151.9,240.05 155.1,241.53 158.2,243.98 155.1,246.5 151.9,248.05 141.9,248.15 139.4,246.67"/>
<polygon points="164.3,243.92 168.1,241.39 171.8,239.84 175,239.8 178.8,241.28 182.5,243.72 178.8,246.25 175,247.8 171.8,247.84 168.1,246.36"/>
<polygon points="182.5,243.72 185.1,241.21 187.6,239.67 190.7,239.64 193.2,241.13 195.7,243.58 193.2,246.09 190.7,247.64 187.6,247.67 185.1,246.18"/>
<polygon points="196,243.58 199.1,241.06 202.2,239.52 207.5,239.46 211.3,240.94 215,243.38 211.3,245.9 207.5,247.46 202.2,247.52 199.1,246.03"/>
<polygon points="214.6,243.38 218.4,240.86 222.2,239.3 243.8,239.08 245,240.58 246.3,243.05 245,245.55 243.8,247.08 222.2,247.3 218.4,245.83"/>
<polygon points="246.3,243.05 247.5,240.55 248.8,239.02 264.7,238.85 266,240.36 267.2,242.83 266,245.32 264.7,246.85 248.8,247.02 247.5,245.52"/>
<polygon points="267.2,242.83 268.5,240.33 269.7,238.8 278.8,238.7 281.3,240.19 283.8,242.65 281.3,245.16 278.8,246.7 269.7,246.8 268.5,245.3"/>
<polygon points="284.2,242.65 286.7,240.14 289.2,238.59 308.1,238.39 313.1,239.86 318.2,242.29 313.1,244.82 308.1,246.39 289.2,246.59 286.7,245.1"/>
<polygon points="318.6,242.28 324.9,239.73 331.2,238.15 340.6,238.05 341.6,239.55 342.6,242.03 341.6,244.52 340.6,246.05 331.2,246.15 324.9,244.7"/>
<polygon points="342.8,242.03 343.8,239.53 344.8,238 441.2,236.98 446.3,238.45 451.3,240.88 446.3,243.41 441.2,244.98 344.8,246 343.8,244.5"/>
<polygon points="450.7,240.88 454.4,238.36 458.2,236.8 492.8,236.44 494.1,237.94 495.3,240.41 494.1,242.91 492.8,244.44 458.2,244.8 454.4,243.33"/>
<polygon points="498.7,240.37 499.9,237.88 501.2,236.35 512.7,236.23 515.9,237.71 519,240.16 515.9,242.68 512.7,244.23 501.2,244.35 499.9,242.85"/>
<polygon points="532.6,240.02 542.1,237.43 551.5,235.82 554.7,235.78 564.1,237.2 573.5,239.58 564.1,242.17 554.7,243.78 551.5,243.82 542.1,242.4"/>
<polygon points="581.1,239.5 589.9,236.92 598.7,235.32 599.7,235.3 608.5,236.73 617.3,239.12 608.5,241.7 599.7,243.3 598.7,243.32 589.9,241.89"/>
<polygon points="714.8,238.09 718.6,235.56 722.4,234.01 746.5,233.75 748.4,235.25 750.3,237.71 748.4,240.21 746.5,241.75 722.4,242.01 718.6,240.53"/>
<polygon points="751.1,238.25 753,236 754.9,234.61 762.2,234.53 767.2,235.84 772.3,238.03 767.2,240.32 762.2,241.73 754.9,241.81 753,240.47"/>
<polygon points="801.4,237.17 812.7,234.56 824,232.93 841.9,232.74 846.9,234.2 851.9,236.63 846.9,239.17 841.9,240.74 824,240.93 812.7,239.53"/>
<polygon points="856.1,237.96 860.5,236.05 864.9,234.87 867,234.85 871.4,235.94 875.8,237.75 871.4,239.66 867,240.85 864.9,240.87 860.5,239.78"/>
<polygon points="876.9,236.37 894.5,233.7 912.1,232 946.7,231.63 946.7,231.63 946.7,239.63 946.7,239.63 912.1,240 894.5,238.67"/>
<polygon points="116.3,280.12 116.3,280.12 186.5,279.47 190.3,280.95 194.1,283.4 190.3,285.92 186.5,287.47 116.3,288.12 116.3,288.12"/>
<polygon points="194.3,284.23 198.1,282.08 201.8,280.76 206.4,280.71 210.2,281.97 214,284.04 210.2,286.19 206.4,287.51 201.8,287.56 198.1,286.3"/>
<polygon points="216.1,283.47 224.9,281.03 233.7,279.51 240,279.45 261.4,280.69 282.7,282.86 261.4,285.41 240,287.05 233.7,287.11 224.9,285.75"/>
<polygon points="292.2,283.32 308.5,281.06 324.9,279.62 329.7,279.57 331.2,280.85 332.7,282.94 331.2,285.07 329.7,286.37 324.9,286.42 308.5,285.28"/>
<polygon points="334.7,283.75 336.6,281.99 338.5,280.92 342.7,280.88 346.5,281.9 350.3,283.61 346.5,285.38 342.7,286.48 338.5,286.52 336.6,285.47"/>
<polygon points="355.1,281.91 371.4,279.28 387.8,277.61 650,275.18 650,275.18 650,283.18 650,283.18 387.8,285.61 371.4,284.25"/>
<polygon points="483.4,276.73 483.4,276.73 720.3,274.53 749.2,275.78 778.1,278 749.2,280.75 720.3,282.53 483.4,284.73 483.4,284.73"/>
<polygon points="793.6,277.85 812.5,275.2 831.4,273.51 885.3,273.01 886.3,274.51 887.3,276.99 886.3,279.48 885.3,281.01 831.4,281.51 812.5,280.16"/>
<polygon points="888.7,278.9 889.6,277.28 890.5,276.28 890.6,276.28 891.6,277.26 892.5,278.86 891.6,280.49 890.6,281.48 890.5,281.48 889.6,280.51"/>
<polygon points="892.8,276.94 894.1,274.44 895.3,272.91 946.7,272.44 946.7,272.44 946.7,280.44 946.7,280.44 895.3,280.91 894.1,279.41"/>
<polygon points="116.3,317.42 116.3,317.42 186.5,316.7 190.3,318.17 194.1,320.62 190.3,323.14 186.5,324.7 116.3,325.42 116.3,325.42"/>
<polygon points="194.3,321.44 198.1,319.29 201.8,317.96 206.4,317.92 210.2,319.17 214,321.24 210.2,323.39 206.4,324.72 201.8,324.76 198.1,323.52"/>
<polygon points="216.1,320.67 224.9,318.22 233.7,316.68 240,316.62 261.4,317.84 282.7,319.98 261.4,322.56 240,324.22 233.7,324.28 224.9,322.94"/>
<polygon points="292.2,320.43 308.5,318.15 324.9,316.69 329.7,316.64 331.2,317.91 332.7,320.01 331.2,322.14 329.7,323.44 324.9,323.49 308.5,322.37"/>
<polygon points="334.7,320.81 336.6,319.06 338.5,317.98 342.7,317.93 346.5,318.95 350.3,320.65 346.5,322.43 342.7,323.53 338.5,323.58 336.6,322.53"/>
<polygon points="355.1,318.95 371.4,316.3 387.8,314.62 650,311.9 650,311.9 650,319.9 650,319.9 387.8,322.62 371.4,321.27"/>
<polygon points="483.4,313.63 483.4,313.63 720.3,311.17 749.2,312.39 778.1,314.58 749.2,317.36 720.3,319.17 483.4,321.63 483.4,321.63"/>
<polygon points="793.6,314.41 812.5,311.74 831.4,310.02 885.3,309.47 886.3,310.97 887.3,313.45 886.3,315.94 885.3,317.47 831.4,318.02 812.5,316.7"/>
<polygon points="888.7,315.36 889.6,313.73 890.5,312.74 890.6,312.74 891.6,313.71 892.5,315.32 891.6,316.94 890.6,317.94 890.5,317.94 889.6,316.96"/>
<polygon points="892.8,313.39 894.1,310.89 895.3,309.36 946.7,308.83 946.7,308.83 946.7,316.83 946.7,316.83 895.3,317.36 894.1,315.86"/>
<polygon points="116.3,366.02 116.3,366.02 164.9,365.56 165.9,367.06 166.9,369.54 165.9,372.03 164.9,373.56 116.3,374.02 116.3,374.02"/>
<polygon points="167.9,369.8 169,367.43 170,365.98 177.1,365.91 188.4,367.24 199.7,369.5 188.4,371.96 177.1,373.51 170,373.58 169,372.15"/>
<polygon points="200.4,369.49 206,367.08 211.7,365.58 232.6,365.38 234.5,366.8 236.4,369.14 234.5,371.52 232.6,372.98 211.7,373.18 206,371.8"/>
<polygon points="234.6,370.81 235.1,369.19 235.6,368.2 257,368 257.5,368.98 258,370.59 257.5,372.21 257,373.2 235.6,373.4 235.1,372.42"/>
<polygon points="256.1,368.68 258,366.18 259.9,364.64 297.6,364.28 322.8,365.55 347.9,367.79 322.8,370.52 297.6,372.28 259.9,372.64 258,371.14"/>
<polygon points="652.9,366.24 655.3,364.35 657.7,363.19 663.9,363.13 666.3,364.24 668.7,366.08 666.3,367.97 663.9,369.13 657.7,369.19 655.3,368.08"/>
<polygon points="702.5,366.31 706.9,364.65 711.4,363.62 712.1,363.62 716.6,364.56 721,366.13 716.6,367.79 712.1,368.82 711.4,368.82 706.9,367.88"/>
<polygon points="719.3,365.05 726.2,362.87 733.2,361.51 734.4,361.5 741.4,362.72 748.4,364.77 741.4,366.95 734.4,368.3 733.2,368.31 726.2,367.09"/>
<polygon points="753.8,365.54 756.2,363.78 758.6,362.69 771.5,362.57 773.9,363.61 776.3,365.32 773.9,367.09 771.5,368.17 758.6,368.29 756.2,367.26"/>
<polygon points="774.2,364.79 776.6,362.78 779,361.55 786.5,361.48 788.9,362.67 791.3,364.63 788.9,366.64 786.5,367.88 779,367.95 776.6,366.76"/>
<polygon points="789.1,365.06 791.5,363.24 793.9,362.12 808.2,361.98 810.6,363.06 813,364.83 810.6,366.66 808.2,367.78 793.9,367.92 791.5,366.84"/>
<polygon points="810.9,364.3 813.3,362.23 815.7,360.96 835.8,360.76 838.2,361.99 840.6,364.02 838.2,366.09 835.8,367.36 815.7,367.56 813.3,366.33"/>
<polygon points="840.4,363.47 842.8,361.15 845.2,359.72 882.8,359.36 890,360.7 897.2,362.92 890,365.29 882.8,366.76 845.2,367.12 842.8,365.75"/>
<polygon points="896.5,363.21 903.7,360.96 910.9,359.57 912.7,359.55 919.9,360.81 927.1,362.91 919.9,365.15 912.7,366.55 910.9,366.57 903.7,365.31"/>
<polygon points="930.9,363.01 936.8,360.84 942.6,359.5 953.3,359.4 953.3,359.4 953.3,366.2 953.3,366.2 942.6,366.3 936.8,365.07"/>
<polygon points="116.3,402.42 116.3,402.42 164.9,401.96 165.9,403.46 166.9,405.94 165.9,408.43 164.9,409.96 116.3,410.42 116.3,410.42"/>
<polygon points="167.9,406.2 169,403.83 170,402.38 177.1,402.31 188.4,403.64 199.7,405.9 188.4,408.36 177.1,409.91 170,409.98 169,408.55"/>
<polygon points="200.4,405.89 206,403.48 211.7,401.98 232.6,401.78 234.5,403.2 236.4,405.54 234.5,407.92 232.6,409.38 211.7,409.58 206,408.2"/>
<polygon points="234.6,407.21 235.1,405.59 235.6,404.6 257,404.4 257.5,405.38 258,406.99 257.5,408.61 257,409.6 235.6,409.8 235.1,408.82"/>
<polygon points="256.1,405.08 258,402.58 259.9,401.04 297.6,400.68 322.8,401.95 347.9,404.19 322.8,406.92 297.6,408.68 259.9,409.04 258,407.54"/>
<polygon points="652.9,402.64 655.3,400.75 657.7,399.59 663.9,399.53 666.3,400.64 668.7,402.48 666.3,404.37 663.9,405.53 657.7,405.59 655.3,404.48"/>
<polygon points="702.5,402.71 706.9,401.05 711.4,400.02 712.1,400.02 716.6,400.96 721,402.53 716.6,404.19 712.1,405.22 711.4,405.22 706.9,404.28"/>
<polygon points="719.3,401.45 726.2,399.27 733.2,397.91 734.4,397.9 741.4,399.12 748.4,401.17 741.4,403.35 734.4,404.7 733.2,404.71 726.2,403.49"/>
<polygon points="753.8,401.94 756.2,400.18 758.6,399.09 771.5,398.97 773.9,400.01 776.3,401.72 773.9,403.49 771.5,404.57 758.6,404.69 756.2,403.66"/>
<polygon points="774.2,401.19 776.6,399.18 779,397.95 786.5,397.88 788.9,399.07 791.3,401.03 788.9,403.04 786.5,404.28 779,404.35 776.6,403.16"/>
<polygon points="789.1,401.46 791.5,399.64 793.9,398.52 808.2,398.38 810.6,399.46 813,401.23 810.6,403.06 808.2,404.18 793.9,404.32 791.5,403.24"/>
<polygon points="810.9,400.7 813.3,398.63 815.7,397.36 835.8,397.16 838.2,398.39 840.6,400.42 838.2,402.49 835.8,403.76 815.7,403.96 813.3,402.73"/>
<polygon points="840.4,399.87 842.8,397.55 845.2,396.12 882.8,395.76 890,397.1 897.2,399.32 890,401.69 882.8,403.16 845.2,403.52 842.8,402.15"/>
<polygon points="896.5,399.61 903.7,397.36 910.9,395.97 912.7,395.95 919.9,397.21 927.1,399.31 919.9,401.55 912.7,402.95 910.9,402.97 903.7,401.71"/>
<polygon points="930.9,399.41 936.8,397.24 942.6,395.9 953.3,395.8 953.3,395.8 953.3,402.6 953.3,402.6 942.6,402.7 936.8,401.47"/>
<polygon points="103.7,461.84 103.7,461.84 608.6,457.23 611,458.72 613.4,461.18 611,463.69 608.6,465.23 103.7,469.84 103.7,469.84"/>
<polygon points="609.2,461.22 611.6,458.72 613.9,457.18 751.1,455.92 753.5,457.42 755.9,459.88 753.5,462.39 751.1,463.92 613.9,465.18 611.6,463.68"/>
<polygon points="751.7,459.92 754.1,457.41 756.5,455.88 828.7,455.22 831.1,456.71 833.5,459.17 831.1,461.68 828.7,463.22 756.5,463.88 754.1,462.38"/>
<polygon points="829.3,459.21 831.7,456.7 834.1,455.17 904.2,454.53 906.6,456.02 909,458.48 906.6,460.99 904.2,462.53 834.1,463.17 831.7,461.67"/>
<polygon points="904.8,458.52 907.1,456.02 909.5,454.48 915.7,454.42 918.1,455.92 920.5,458.38 918.1,460.88 915.7,462.42 909.5,462.48 907.1,460.98"/>
<polygon points="916.3,458.42 918.7,455.91 921.1,454.37 927.2,454.32 929.6,455.81 932,458.27 929.6,460.78 927.2,462.32 921.1,462.37 918.7,460.88"/>
<polygon points="927.8,458.31 930.2,455.81 932.6,454.27 955,454.06 955,454.06 955,462.06 955,462.06 932.6,462.27 930.2,460.77"/>
<polygon points="103.7,498.64 103.7,498.64 608.6,493.97 611,495.46 613.4,497.92 611,500.43 608.6,501.97 103.7,506.64 103.7,506.64"/>
<polygon points="609.2,497.96 611.6,495.46 613.9,493.92 751.1,492.65 753.5,494.14 755.9,496.6 753.5,499.11 751.1,500.65 613.9,501.92 611.6,500.42"/>
<polygon points="751.7,496.64 754.1,494.14 756.5,492.6 828.7,491.93 831.1,493.42 833.5,495.89 831.1,498.39 828.7,499.93 756.5,500.6 754.1,499.1"/>
<polygon points="829.3,495.92 831.7,493.42 834.1,491.88 904.2,491.23 906.6,492.73 909,495.19 906.6,497.69 904.2,499.23 834.1,499.88 831.7,498.39"/>
<polygon points="904.8,495.23 907.1,492.72 909.5,491.18 915.7,491.12 918.1,492.62 920.5,495.08 918.1,497.59 915.7,499.12 909.5,499.18 907.1,497.69"/>
<polygon points="916.3,495.12 918.7,492.61 921.1,491.08 927.2,491.02 929.6,492.51 932,494.97 929.6,497.48 927.2,499.02 921.1,499.08 918.7,497.58"/>
<polygon points="927.8,495.01 930.2,492.51 932.6,490.97 955,490.76 955,490.76 955,498.76 955,498.76 932.6,498.97 930.2,497.47"/>
<polygon points="103.7,570.12 103.7,570.12 955,563.28 955,563.28 955,571.28 955,571.28 103.7,578.12 103.7,578.12"/>
<polygon points="103.7,607.52 103.7,607.52 955,600.48 955,600.48 955,608.48 955,608.48 103.7,615.52 103.7,615.52"/>
<polygon points="103.7,695.21 103.7,695.21 955,688.79 955,688.79 955,696.79 955,696.79 103.7,703.21 103.7,703.21"/>
<polygon points="103.7,732.31 103.7,732.31 955,725.99 955,725.99 955,733.99 955,733.99 103.7,740.31 103.7,740.31"/>
</g>
<polygon points="116.3,210.71 116.3,210.71 131.6,210.55 133.9,211.23 135.7,212.06 137.5,213.05 135.7,214.08 133.9,214.94 131.6,215.68 116.3,215.84 116.3,215.84"/>
<polygon points="137.2,213.05 138.6,212.03 140,211.17 141.9,210.44 151.9,210.33 154.3,211.02 156,211.84 157.8,212.83 156,213.86 154.3,214.73 151.9,215.46 141.9,215.57 140,214.88 138.6,214.05"/>
<polygon points="159.6,212.81 160.5,212.67 161.4,212.54 162.6,212.43 163.8,212.52 164.7,212.62 165.6,212.75 164.7,212.9 163.8,213.02 162.6,213.13 161.4,213.05 160.5,212.94"/>
<polygon points="164.8,212.76 166.9,211.73 169,210.86 171.8,210.12 175,210.08 177.8,210.76 179.9,211.59 182,212.58 179.9,213.61 177.8,214.48 175,215.22 171.8,215.25 169,214.57 166.9,213.75"/>
<polygon points="182.9,212.57 184.3,211.54 185.7,210.68 187.6,209.95 190.7,209.92 192.6,210.61 194,211.44 195.4,212.43 194,213.46 192.6,214.32 190.7,215.05 187.6,215.08 185.7,214.39 184.3,213.56"/>
<polygon points="196.4,212.42 198.1,211.39 199.9,210.53 202.2,209.79 207.5,209.74 210.3,210.42 212.4,211.24 214.5,212.23 212.4,213.26 210.3,214.13 207.5,214.87 202.2,214.93 199.9,214.24 198.1,213.41"/>
<polygon points="215.1,212.22 217.2,211.19 219.3,210.32 222.2,209.58 243.8,209.35 244.7,210.05 245.4,210.89 246.1,211.89 245.4,212.91 244.7,213.76 243.8,214.49 222.2,214.72 219.3,214.03 217.2,213.21"/>
<polygon points="246.4,211.89 247.1,210.87 247.8,210.02 248.8,209.3 264.7,209.13 265.7,209.83 266.4,210.67 267.1,211.67 266.4,212.69 265.7,213.54 264.7,214.26 248.8,214.43 247.8,213.73 247.1,212.89"/>
<polygon points="267.4,211.67 268.1,210.65 268.8,209.8 269.7,209.07 278.8,208.98 280.6,209.67 282.1,210.5 283.5,211.49 282.1,212.52 280.6,213.38 278.8,214.11 269.7,214.21 268.8,213.51 268.1,212.67"/>
<polygon points="284.5,211.48 286,210.46 287.4,209.6 289.2,208.87 308.1,208.66 311.9,209.34 314.7,210.15 317.5,211.13 314.7,212.17 311.9,213.05 308.1,213.8 289.2,214 287.4,213.31 286,212.48"/>
<polygon points="319.4,211.11 323,210.06 326.5,209.18 331.2,208.42 340.6,208.32 341.4,209.02 341.9,209.86 342.5,210.87 341.9,211.88 341.4,212.73 340.6,213.45 331.2,213.55 326.5,212.89 323,212.08"/>
<polygon points="342.9,210.86 343.5,209.85 344,208.99 344.8,208.27 441.2,207.25 445,207.92 447.8,208.73 450.6,209.71 447.8,210.75 445,211.63 441.2,212.38 344.8,213.41 344,212.7 343.5,211.86"/>
<polygon points="451.2,209.71 453.3,208.68 455.4,207.81 458.2,207.07 492.8,206.7 493.7,207.4 494.5,208.24 495.2,209.24 494.5,210.26 493.7,211.11 492.8,211.83 458.2,212.2 455.4,211.52 453.3,210.69"/>
<polygon points="498.8,209.2 499.6,208.18 500.3,207.33 501.2,206.61 512.7,206.48 515.1,207.17 516.8,208 518.6,208.99 516.8,210.02 515.1,210.88 512.7,211.62 501.2,211.74 500.3,211.04 499.6,210.2"/>
<polygon points="521.7,208.96 522.9,208.52 524.1,208.15 525.6,207.84 526,207.84 527.6,208.12 528.7,208.46 529.9,208.87 528.7,209.3 527.6,209.67 526,209.98 525.6,209.99 524.1,209.71 522.9,209.37"/>
<polygon points="533.9,208.83 539.2,207.76 544.5,206.86 551.5,206.07 554.7,206.04 561.7,206.67 567,207.46 572.3,208.42 567,209.48 561.7,210.39 554.7,211.17 551.5,211.21 544.5,210.57 539.2,209.78"/>
<polygon points="582.2,208.31 587.2,207.25 592.1,206.35 598.7,205.57 599.7,205.56 606.3,206.2 611.2,206.99 616.2,207.95 611.2,209.01 606.3,209.91 599.7,210.69 598.7,210.7 592.1,210.06 587.2,209.27"/>
<polygon points="618.6,207.92 621.5,207.44 624.3,207.04 628,206.68 631.8,206.96 634.6,207.3 637.4,207.72 634.6,208.2 631.8,208.61 628,208.97 624.3,208.69 621.5,208.34"/>
<polygon points="655.2,207.53 658.4,207.1 661.5,206.73 665.8,206.41 670,206.64 673.2,206.94 676.3,207.31 673.2,207.74 670,208.11 665.8,208.44 661.5,208.2 658.4,207.9"/>
<polygon points="681.1,207.26 683,207.08 684.8,206.93 687.3,206.8 689.7,206.88 691.5,206.99 693.4,207.13 691.5,207.3 689.7,207.45 687.3,207.59 684.8,207.5 683,207.39"/>
<polygon points="705.1,207 707.1,206.83 709.2,206.67 711.9,206.54 714.6,206.62 716.7,206.72 718.7,206.86 716.7,207.03 714.6,207.19 711.9,207.33 709.2,207.24 707.1,207.14"/>
<polygon points="715.3,206.89 717.4,205.86 719.6,204.99 722.4,204.25 746.5,203.99 747.9,204.69 748.9,205.53 750,206.52 748.9,207.54 747.9,208.4 746.5,209.13 722.4,209.39 719.6,208.7 717.4,207.88"/>
<polygon points="751.3,206.51 752.4,205.64 753.5,204.9 754.9,204.28 762.2,204.2 766,204.77 768.8,205.46 771.6,206.29 768.8,207.19 766,207.94 762.2,208.59 754.9,208.66 753.5,208.07 752.4,207.36"/>
<polygon points="778.3,206.22 780.2,205.91 782,205.65 784.4,205.42 785,205.42 787.5,205.6 789.3,205.82 791.2,206.09 789.3,206.39 787.5,206.65 785,206.88 784.4,206.89 782,206.71 780.2,206.49"/>
<polygon points="802.9,205.96 809.3,204.88 815.6,203.97 824,203.17 841.9,202.98 845.6,203.65 848.4,204.47 851.3,205.45 848.4,206.48 845.6,207.36 841.9,208.11 824,208.3 815.6,207.68 809.3,206.9"/>
<polygon points="856.7,205.39 859.2,204.71 861.6,204.13 864.9,203.63 867,203.61 870.3,204.04 872.8,204.56 875.2,205.19 872.8,205.87 870.3,206.45 867,206.95 864.9,206.97 861.6,206.54 859.2,206.02"/>
<polygon points="879.2,205.15 889.1,204.03 898.9,203.08 912.1,202.23 946.7,201.86 946.7,201.86 946.7,207 946.7,207 912.1,207.36 898.9,206.79 889.1,206.05"/>
<polygon points="116.3,247.36 116.3,247.36 131.6,247.2 133.9,247.88 135.7,248.71 137.5,249.7 135.7,250.73 133.9,251.59 131.6,252.33 116.3,252.49 116.3,252.49"/>
<polygon points="137.2,249.7 138.6,248.68 140,247.82 141.9,247.09 151.9,246.98 154.3,247.67 156,248.5 157.8,249.49 156,250.51 154.3,251.38 151.9,252.12 141.9,252.22 140,251.53 138.6,250.7"/>
<polygon points="159.6,249.47 160.5,249.32 161.4,249.19 162.6,249.08 163.8,249.17 164.7,249.27 165.6,249.4 164.7,249.55 163.8,249.68 162.6,249.78 161.4,249.7 160.5,249.59"/>
<polygon points="164.8,249.41 166.9,248.38 169,247.51 171.8,246.77 175,246.74 177.8,247.42 179.9,248.24 182,249.23 179.9,250.26 177.8,251.13 175,251.87 171.8,251.9 169,251.22 166.9,250.4"/>
<polygon points="182.9,249.22 184.3,248.2 185.7,247.33 187.6,246.6 190.7,246.57 192.6,247.26 194,248.09 195.4,249.09 194,250.11 192.6,250.97 190.7,251.7 187.6,251.74 185.7,251.05 184.3,250.21"/>
<polygon points="196.4,249.08 198.1,248.05 199.9,247.18 202.2,246.45 207.5,246.39 210.3,247.07 212.4,247.9 214.5,248.88 212.4,249.92 210.3,250.79 207.5,251.53 202.2,251.58 199.9,250.9 198.1,250.07"/>
<polygon points="215.1,248.88 217.2,247.85 219.3,246.98 222.2,246.24 243.8,246.01 244.7,246.71 245.4,247.55 246.1,248.55 245.4,249.57 244.7,250.42 243.8,251.14 222.2,251.37 219.3,250.69 217.2,249.87"/>
<polygon points="246.4,248.55 247.1,247.53 247.8,246.68 248.8,245.95 264.7,245.79 265.7,246.49 266.4,247.33 267.1,248.33 266.4,249.35 265.7,250.2 264.7,250.92 248.8,251.09 247.8,250.39 247.1,249.55"/>
<polygon points="267.4,248.32 268.1,247.31 268.8,246.45 269.7,245.73 278.8,245.64 280.6,246.33 282.1,247.16 283.5,248.15 282.1,249.18 280.6,250.04 278.8,250.77 269.7,250.87 268.8,250.17 268.1,249.33"/>
<polygon points="284.5,248.14 286,247.12 287.4,246.26 289.2,245.53 308.1,245.33 311.9,246 314.7,246.81 317.5,247.79 314.7,248.83 311.9,249.71 308.1,250.46 289.2,250.66 287.4,249.97 286,249.14"/>
<polygon points="319.4,247.77 323,246.73 326.5,245.84 331.2,245.08 340.6,244.98 341.4,245.69 341.9,246.53 342.5,247.53 341.9,248.54 341.4,249.4 340.6,250.12 331.2,250.22 326.5,249.55 323,248.75"/>
<polygon points="342.9,247.52 343.5,246.51 344,245.66 344.8,244.94 441.2,243.92 445,244.59 447.8,245.4 450.6,246.38 447.8,247.42 445,248.3 441.2,249.05 344.8,250.07 344,249.37 343.5,248.53"/>
<polygon points="451.2,246.38 453.3,245.35 455.4,244.48 458.2,243.74 492.8,243.37 493.7,244.07 494.5,244.91 495.2,245.91 494.5,246.93 493.7,247.78 492.8,248.5 458.2,248.87 455.4,248.19 453.3,247.36"/>
<polygon points="498.8,245.87 499.6,244.86 500.3,244 501.2,243.28 512.7,243.16 515.1,243.85 516.8,244.67 518.6,245.66 516.8,246.69 515.1,247.56 512.7,248.29 501.2,248.42 500.3,247.71 499.6,246.87"/>
<polygon points="521.7,245.63 522.9,245.2 524.1,244.83 525.6,244.52 526,244.51 527.6,244.79 528.7,245.13 529.9,245.54 528.7,245.98 527.6,246.35 526,246.66 525.6,246.66 524.1,246.38 522.9,246.04"/>
<polygon points="533.9,245.5 539.2,244.44 544.5,243.53 551.5,242.75 554.7,242.71 561.7,243.35 567,244.14 572.3,245.1 567,246.16 561.7,247.06 554.7,247.85 551.5,247.88 544.5,247.25 539.2,246.46"/>
<polygon points="582.2,244.99 587.2,243.93 592.1,243.03 598.7,242.25 599.7,242.24 606.3,242.88 611.2,243.67 616.2,244.63 611.2,245.69 606.3,246.59 599.7,247.37 598.7,247.38 592.1,246.74 587.2,245.95"/>
<polygon points="618.6,244.6 621.5,244.13 624.3,243.72 628,243.36 631.8,243.64 634.6,243.99 637.4,244.41 634.6,244.88 631.8,245.29 628,245.65 624.3,245.37 621.5,245.02"/>
<polygon points="655.2,244.22 658.4,243.78 661.5,243.42 665.8,243.09 670,243.33 673.2,243.63 676.3,243.99 673.2,244.43 670,244.79 665.8,245.12 661.5,244.88 658.4,244.58"/>
<polygon points="681.1,243.94 683,243.77 684.8,243.62 687.3,243.48 689.7,243.57 691.5,243.68 693.4,243.81 691.5,243.99 689.7,244.14 687.3,244.27 684.8,244.19 683,244.08"/>
<polygon points="705.1,243.69 707.1,243.51 709.2,243.36 711.9,243.22 714.6,243.3 716.7,243.41 718.7,243.54 716.7,243.72 714.6,243.87 711.9,244.01 709.2,243.93 707.1,243.82"/>
<polygon points="715.3,243.58 717.4,242.55 719.6,241.68 722.4,240.94 746.5,240.68 747.9,241.38 748.9,242.21 750,243.21 748.9,244.23 747.9,245.09 746.5,245.82 722.4,246.07 719.6,245.39 717.4,244.57"/>
<polygon points="751.3,243.2 752.4,242.33 753.5,241.59 754.9,240.97 762.2,240.89 766,241.46 768.8,242.15 771.6,242.98 768.8,243.88 766,244.63 762.2,245.28 754.9,245.35 753.5,244.76 752.4,244.05"/>
<polygon points="778.3,242.91 780.2,242.61 782,242.34 784.4,242.11 785,242.11 787.5,242.29 789.3,242.51 791.2,242.78 789.3,243.08 787.5,243.35 785,243.57 784.4,243.58 782,243.4 780.2,243.18"/>
<polygon points="802.9,242.65 809.3,241.58 815.6,240.66 824,239.86 841.9,239.67 845.6,240.34 848.4,241.16 851.3,242.14 848.4,243.18 845.6,244.06 841.9,244.81 824,245 815.6,244.37 809.3,243.59"/>
<polygon points="856.7,242.08 859.2,241.4 861.6,240.82 864.9,240.33 867,240.31 870.3,240.73 872.8,241.26 875.2,241.89 872.8,242.57 870.3,243.14 867,243.64 864.9,243.66 861.6,243.24 859.2,242.71"/>
<polygon points="879.2,241.84 889.1,240.73 898.9,239.78 912.1,238.93 946.7,238.56 946.7,238.56 946.7,243.7 946.7,243.7 912.1,244.06 898.9,243.49 889.1,242.75"/>
<polygon points="116.3,287.05 116.3,287.05 186.5,286.4 189.3,287.09 191.5,287.92 193.6,288.91 191.5,289.94 189.3,290.8 186.5,291.54 116.3,292.19 116.3,292.19"/>
<polygon points="194.8,288.9 196.9,288.09 199,287.4 201.8,286.82 206.4,286.78 209.3,287.31 211.4,287.95 213.5,288.72 211.4,289.53 209.3,290.22 206.4,290.8 201.8,290.84 199,290.31 196.9,289.67"/>
<polygon points="217.3,288.69 222.2,287.71 227.1,286.88 233.7,286.16 240,286.1 255.9,286.61 267.9,287.28 279.9,288.11 267.9,289.15 255.9,290.05 240,290.86 233.7,290.91 227.1,290.32 222.2,289.58"/>
<polygon points="294.4,287.97 303.5,287.1 312.7,286.35 324.9,285.68 329.7,285.64 330.8,286.18 331.7,286.84 332.5,287.62 331.7,288.42 330.8,289.09 329.7,289.66 324.9,289.7 312.7,289.26 303.5,288.68"/>
<polygon points="335,287.6 336,287.06 337.1,286.6 338.5,286.21 342.7,286.17 345.5,286.52 347.6,286.95 349.7,287.46 347.6,288.01 345.5,288.48 342.7,288.88 338.5,288.92 337.1,288.56 336,288.12"/>
<polygon points="357.3,287.39 366.4,286.3 375.6,285.37 387.8,284.54 650,282.12 650,282.12 650,287.25 650,287.25 387.8,289.68 375.6,289.08 366.4,288.32"/>
<polygon points="483.4,283.66 483.4,283.66 720.3,281.47 741.9,281.98 758.1,282.67 774.3,283.53 758.1,284.69 741.9,285.69 720.3,286.6 483.4,288.79 483.4,288.79"/>
<polygon points="784.6,283.44 785.5,283.34 786.3,283.25 787.4,283.17 788.4,283.23 789.3,283.3 790.1,283.39 789.3,283.49 788.4,283.57 787.4,283.65 786.3,283.59 785.5,283.52"/>
<polygon points="796.2,283.33 806.7,282.22 817.3,281.28 831.4,280.44 885.3,279.94 886,280.64 886.6,281.49 887.1,282.49 886.6,283.5 886,284.36 885.3,285.07 831.4,285.57 817.3,284.99 806.7,284.24"/>
<polygon points="888.9,282.47 889.4,281.99 889.9,281.59 890.5,281.25 890.6,281.25 891.3,281.58 891.8,281.97 892.4,282.44 891.8,282.92 891.3,283.33 890.6,283.67 890.5,283.67 889.9,283.34 889.4,282.94"/>
<polygon points="893,282.44 893.7,281.42 894.4,280.57 895.3,279.85 946.7,279.37 946.7,279.37 946.7,284.51 946.7,284.51 895.3,284.98 894.4,284.28 893.7,283.44"/>
<polygon points="116.3,324.36 116.3,324.36 186.5,323.63 189.3,324.31 191.5,325.14 193.6,326.13 191.5,327.16 189.3,328.02 186.5,328.77 116.3,329.49 116.3,329.49"/>
<polygon points="194.8,326.11 196.9,325.3 199,324.61 201.8,324.03 206.4,323.98 209.3,324.51 211.4,325.15 213.5,325.92 211.4,326.73 209.3,327.42 206.4,328 201.8,328.05 199,327.52 196.9,326.88"/>
<polygon points="217.3,325.88 222.2,324.89 227.1,324.06 233.7,323.33 240,323.27 255.9,323.76 267.9,324.42 279.9,325.23 267.9,326.29 255.9,327.2 240,328.02 233.7,328.09 227.1,327.5 222.2,326.76"/>
<polygon points="294.4,325.08 303.5,324.2 312.7,323.44 324.9,322.75 329.7,322.7 330.8,323.25 331.7,323.9 332.5,324.69 331.7,325.49 330.8,326.16 329.7,326.73 324.9,326.78 312.7,326.35 303.5,325.78"/>
<polygon points="335,324.66 336,324.12 337.1,323.66 338.5,323.27 342.7,323.23 345.5,323.57 347.6,324 349.7,324.51 347.6,325.06 345.5,325.53 342.7,325.94 338.5,325.98 337.1,325.62 336,325.18"/>
<polygon points="357.3,324.43 366.4,323.33 375.6,322.39 387.8,321.55 650,318.83 650,318.83 650,323.97 650,323.97 387.8,326.68 375.6,326.1 366.4,325.35"/>
<polygon points="483.4,320.56 483.4,320.56 720.3,318.11 741.9,318.59 758.1,319.27 774.3,320.12 758.1,321.29 741.9,322.31 720.3,323.24 483.4,325.69 483.4,325.69"/>
<polygon points="784.6,320.01 785.5,319.91 786.3,319.82 787.4,319.74 788.4,319.8 789.3,319.87 790.1,319.95 789.3,320.05 788.4,320.14 787.4,320.22 786.3,320.16 785.5,320.09"/>
<polygon points="796.2,319.89 806.7,318.77 817.3,317.81 831.4,316.96 885.3,316.4 886,317.1 886.6,317.94 887.1,318.95 886.6,319.96 886,320.81 885.3,321.53 831.4,322.09 817.3,321.53 806.7,320.79"/>
<polygon points="888.9,318.93 889.4,318.45 889.9,318.04 890.5,317.7 890.6,317.7 891.3,318.03 891.8,318.42 892.4,318.89 891.8,319.37 891.3,319.78 890.6,320.12 890.5,320.12 889.9,319.79 889.4,319.4"/>
<polygon points="893,318.89 893.7,317.87 894.4,317.02 895.3,316.29 946.7,315.76 946.7,315.76 946.7,320.9 946.7,320.9 895.3,321.43 894.4,320.73 893.7,319.89"/>
<polygon points="116.3,373.09 116.3,373.09 164.9,372.62 165.7,373.29 166.2,374.08 166.8,375.04 166.2,376 165.7,376.81 164.9,377.49 116.3,377.96 116.3,377.96"/>
<polygon points="168.1,375.03 168.6,374.13 169.2,373.38 170,372.75 177.1,372.68 185.5,373.23 191.9,373.91 198.2,374.74 191.9,375.68 185.5,376.49 177.1,377.19 170,377.26 169.2,376.64 168.6,375.91"/>
<polygon points="201.1,374.71 204.3,373.79 207.5,373.02 211.7,372.35 232.6,372.15 234.1,372.76 235.1,373.49 236.2,374.37 235.1,375.27 234.1,376.02 232.6,376.66 211.7,376.86 207.5,376.28 204.3,375.56"/>
<polygon points="234.6,374.38 234.9,373.93 235.2,373.55 235.6,373.23 257,373.02 257.3,373.34 257.6,373.71 257.9,374.16 257.6,374.62 257.3,375 257,375.32 235.6,375.52 235.2,375.21 234.9,374.83"/>
<polygon points="256.4,374.18 257.4,373.21 258.5,372.39 259.9,371.71 297.6,371.34 316.4,371.84 330.5,372.5 344.6,373.33 330.5,374.42 316.4,375.36 297.6,376.22 259.9,376.58 258.5,375.92 257.4,375.12"/>
<polygon points="448.8,372.32 449.9,372.2 450.9,372.1 452.2,372.01 453.6,372.07 454.6,372.16 455.6,372.26 454.6,372.38 453.6,372.48 452.2,372.57 450.9,372.51 449.9,372.43"/>
<polygon points="481.3,372.01 482.4,371.89 483.4,371.79 484.7,371.7 486.1,371.76 487.1,371.85 488.1,371.95 487.1,372.07 486.1,372.17 484.7,372.26 483.4,372.2 482.4,372.11"/>
<polygon points="516.2,371.68 517.6,371.31 518.9,371 520.7,370.73 521.1,370.72 522.9,370.96 524.2,371.24 525.6,371.59 524.2,371.96 522.9,372.27 521.1,372.54 520.7,372.54 518.9,372.31 517.6,372.02"/>
<polygon points="527.8,371.57 528.4,371.46 529,371.37 529.8,371.29 530.6,371.35 531.2,371.43 531.9,371.53 531.2,371.63 530.6,371.73 529.8,371.81 529,371.74 528.4,371.66"/>
<polygon points="538.2,371.46 539.6,371.1 540.9,370.78 542.7,370.52 543.1,370.51 544.9,370.75 546.2,371.03 547.6,371.37 546.2,371.74 544.9,372.06 543.1,372.32 542.7,372.33 540.9,372.09 539.6,371.81"/>
<polygon points="564.4,371.21 565.8,370.84 567.1,370.53 568.9,370.26 569.3,370.26 571.1,370.49 572.5,370.78 573.8,371.12 572.5,371.49 571.1,371.8 569.3,372.07 568.9,372.08 567.1,371.84 565.8,371.56"/>
<polygon points="580.3,371.06 581.3,370.78 582.3,370.54 583.6,370.33 583.8,370.33 585.2,370.51 586.3,370.73 587.3,370.99 586.3,371.28 585.2,371.52 583.8,371.72 583.6,371.72 582.3,371.54 581.3,371.32"/>
<polygon points="586.3,371 587.1,370.91 587.9,370.83 589,370.76 590.1,370.81 590.9,370.87 591.8,370.95 590.9,371.04 590.1,371.12 589,371.19 587.9,371.14 587.1,371.08"/>
<polygon points="614.6,370.73 615.5,370.47 616.4,370.24 617.5,370.05 617.7,370.05 618.9,370.22 619.8,370.43 620.7,370.67 619.8,370.94 618.9,371.16 617.7,371.35 617.5,371.35 616.4,371.18 615.5,370.98"/>
<polygon points="614.6,370.73 615.4,370.58 616.2,370.46 617.3,370.35 618.4,370.44 619.2,370.55 620.1,370.68 619.2,370.82 618.4,370.95 617.3,371.05 616.2,370.97 615.4,370.86"/>
<polygon points="621.7,370.66 623.8,370.29 625.9,369.97 628.7,369.69 638.5,369.6 641.4,369.82 643.5,370.1 645.6,370.43 643.5,370.81 641.4,371.13 638.5,371.4 628.7,371.5 625.9,371.27 623.8,371"/>
<polygon points="647.3,370.42 648,370.15 648.8,369.93 649.8,369.74 649.9,369.74 651,369.91 651.8,370.12 652.6,370.36 651.8,370.63 651,370.85 649.9,371.04 649.8,371.04 648.8,370.87 648,370.66"/>
<polygon points="653.2,370.36 654.5,369.72 655.9,369.19 657.7,368.73 663.9,368.67 665.7,369.09 667.1,369.6 668.4,370.21 667.1,370.85 665.7,371.38 663.9,371.84 657.7,371.9 655.9,371.48 654.5,370.97"/>
<polygon points="668.5,370.21 670.7,369.84 672.8,369.52 675.6,369.24 676.4,369.23 682.1,369.43 686.3,369.69 690.5,370 686.3,370.4 682.1,370.73 676.4,371.04 675.6,371.05 672.8,370.82 670.7,370.55"/>
<polygon points="703,369.88 705.5,369.4 708,369 711.4,368.65 712.1,368.64 715.5,368.93 718,369.28 720.5,369.71 718,370.19 715.5,370.59 712.1,370.94 711.4,370.95 708,370.66 705.5,370.31"/>
<polygon points="720.2,369.71 724.1,368.93 728,368.26 733.2,367.68 734.4,367.67 739.6,368.15 743.6,368.74 747.5,369.45 743.6,370.24 739.6,370.91 734.4,371.49 733.2,371.5 728,371.02 724.1,370.43"/>
<polygon points="748.4,369.44 749.4,369.12 750.4,368.85 751.7,368.62 751.8,368.61 753.2,368.82 754.2,369.07 755.3,369.38 754.2,369.7 753.2,369.97 751.8,370.21 751.7,370.21 750.4,370 749.4,369.75"/>
<polygon points="754.1,369.39 755.5,368.84 756.8,368.38 758.6,367.99 771.5,367.86 773.3,368.22 774.7,368.66 776,369.18 774.7,369.72 773.3,370.18 771.5,370.58 758.6,370.7 756.8,370.34 755.5,369.91"/>
<polygon points="774.5,369.19 775.9,368.49 777.2,367.91 779,367.41 786.5,367.33 788.3,367.8 789.6,368.36 791,369.03 789.6,369.73 788.3,370.32 786.5,370.82 779,370.89 777.2,370.43 775.9,369.86"/>
<polygon points="789.5,369.05 790.8,368.44 792.2,367.94 793.9,367.5 808.2,367.36 810,367.76 811.4,368.25 812.7,368.82 811.4,369.43 810,369.94 808.2,370.37 793.9,370.51 792.2,370.11 790.8,369.63"/>
<polygon points="811.2,368.84 812.5,368.11 813.9,367.49 815.7,366.97 835.8,366.78 837.6,367.27 838.9,367.85 840.3,368.56 838.9,369.29 837.6,369.9 835.8,370.43 815.7,370.62 813.9,370.13 812.5,369.54"/>
<polygon points="840.7,368.56 842,367.69 843.4,366.96 845.2,366.34 882.8,365.98 888.2,366.53 892.2,367.21 896.3,368.02 892.2,368.91 888.2,369.66 882.8,370.32 845.2,370.68 843.4,370.1 842,369.39"/>
<polygon points="897.5,368.01 901.5,367.19 905.5,366.49 910.9,365.89 912.7,365.87 918.1,366.37 922.1,366.99 926.2,367.73 922.1,368.56 918.1,369.25 912.7,369.86 910.9,369.87 905.5,369.37 901.5,368.75"/>
<polygon points="931.7,367.68 935,366.9 938.2,366.24 942.6,365.67 953.3,365.56 953.3,365.56 953.3,369.38 953.3,369.38 942.6,369.48 938.2,369 935,368.4"/>
<polygon points="116.3,409.49 116.3,409.49 164.9,409.02 165.7,409.69 166.2,410.48 166.8,411.44 166.2,412.4 165.7,413.21 164.9,413.89 116.3,414.36 116.3,414.36"/>
<polygon points="168.1,411.43 168.6,410.53 169.2,409.78 170,409.15 177.1,409.08 185.5,409.63 191.9,410.31 198.2,411.14 191.9,412.08 185.5,412.89 177.1,413.59 170,413.66 169.2,413.04 168.6,412.31"/>
<polygon points="201.1,411.11 204.3,410.19 207.5,409.42 211.7,408.75 232.6,408.55 234.1,409.16 235.1,409.89 236.2,410.77 235.1,411.67 234.1,412.42 232.6,413.06 211.7,413.26 207.5,412.68 204.3,411.96"/>
<polygon points="234.6,410.78 234.9,410.33 235.2,409.95 235.6,409.63 257,409.42 257.3,409.74 257.6,410.11 257.9,410.56 257.6,411.02 257.3,411.4 257,411.72 235.6,411.92 235.2,411.61 234.9,411.23"/>
<polygon points="256.4,410.58 257.4,409.61 258.5,408.79 259.9,408.11 297.6,407.74 316.4,408.24 330.5,408.9 344.6,409.73 330.5,410.82 316.4,411.76 297.6,412.62 259.9,412.98 258.5,412.32 257.4,411.52"/>
<polygon points="448.8,408.72 449.9,408.6 450.9,408.5 452.2,408.41 453.6,408.47 454.6,408.56 455.6,408.66 454.6,408.78 453.6,408.88 452.2,408.97 450.9,408.91 449.9,408.83"/>
<polygon points="481.3,408.41 482.4,408.29 483.4,408.19 484.7,408.1 486.1,408.16 487.1,408.25 488.1,408.35 487.1,408.47 486.1,408.57 484.7,408.66 483.4,408.6 482.4,408.51"/>
<polygon points="516.2,408.08 517.6,407.71 518.9,407.4 520.7,407.13 521.1,407.12 522.9,407.36 524.2,407.64 525.6,407.99 524.2,408.36 522.9,408.67 521.1,408.94 520.7,408.94 518.9,408.71 517.6,408.42"/>
<polygon points="527.8,407.97 528.4,407.86 529,407.77 529.8,407.69 530.6,407.75 531.2,407.83 531.9,407.93 531.2,408.03 530.6,408.13 529.8,408.21 529,408.14 528.4,408.06"/>
<polygon points="538.2,407.86 539.6,407.5 540.9,407.18 542.7,406.92 543.1,406.91 544.9,407.15 546.2,407.43 547.6,407.77 546.2,408.14 544.9,408.46 543.1,408.72 542.7,408.73 540.9,408.49 539.6,408.21"/>
<polygon points="564.4,407.61 565.8,407.24 567.1,406.93 568.9,406.66 569.3,406.66 571.1,406.89 572.5,407.18 573.8,407.52 572.5,407.89 571.1,408.2 569.3,408.47 568.9,408.48 567.1,408.24 565.8,407.96"/>
<polygon points="580.3,407.46 581.3,407.18 582.3,406.94 583.6,406.73 583.8,406.73 585.2,406.91 586.3,407.13 587.3,407.39 586.3,407.68 585.2,407.92 583.8,408.12 583.6,408.12 582.3,407.94 581.3,407.72"/>
<polygon points="586.3,407.4 587.1,407.31 587.9,407.23 589,407.16 590.1,407.21 590.9,407.27 591.8,407.35 590.9,407.44 590.1,407.52 589,407.59 587.9,407.54 587.1,407.48"/>
<polygon points="614.6,407.13 615.5,406.87 616.4,406.64 617.5,406.45 617.7,406.45 618.9,406.62 619.8,406.83 620.7,407.07 619.8,407.34 618.9,407.56 617.7,407.75 617.5,407.75 616.4,407.58 615.5,407.38"/>
<polygon points="614.6,407.13 615.4,406.98 616.2,406.86 617.3,406.75 618.4,406.84 619.2,406.95 620.1,407.08 619.2,407.22 618.4,407.35 617.3,407.45 616.2,407.37 615.4,407.26"/>
<polygon points="621.7,407.06 623.8,406.69 625.9,406.37 628.7,406.09 638.5,406 641.4,406.22 643.5,406.5 645.6,406.83 643.5,407.21 641.4,407.53 638.5,407.8 628.7,407.9 625.9,407.67 623.8,407.4"/>
<polygon points="647.3,406.82 648,406.55 648.8,406.33 649.8,406.14 649.9,406.14 651,406.31 651.8,406.52 652.6,406.76 651.8,407.03 651,407.25 649.9,407.44 649.8,407.44 648.8,407.27 648,407.06"/>
<polygon points="653.2,406.76 654.5,406.12 655.9,405.59 657.7,405.13 663.9,405.07 665.7,405.49 667.1,406 668.4,406.61 667.1,407.25 665.7,407.78 663.9,408.24 657.7,408.3 655.9,407.88 654.5,407.37"/>
<polygon points="668.5,406.61 670.7,406.24 672.8,405.92 675.6,405.64 676.4,405.63 682.1,405.83 686.3,406.09 690.5,406.4 686.3,406.8 682.1,407.13 676.4,407.44 675.6,407.45 672.8,407.22 670.7,406.95"/>
<polygon points="703,406.28 705.5,405.8 708,405.4 711.4,405.05 712.1,405.04 715.5,405.33 718,405.68 720.5,406.11 718,406.59 715.5,406.99 712.1,407.34 711.4,407.35 708,407.06 705.5,406.71"/>
<polygon points="720.2,406.11 724.1,405.33 728,404.66 733.2,404.08 734.4,404.07 739.6,404.55 743.6,405.14 747.5,405.85 743.6,406.64 739.6,407.31 734.4,407.89 733.2,407.9 728,407.42 724.1,406.83"/>
<polygon points="748.4,405.84 749.4,405.52 750.4,405.25 751.7,405.02 751.8,405.01 753.2,405.22 754.2,405.47 755.3,405.78 754.2,406.1 753.2,406.37 751.8,406.61 751.7,406.61 750.4,406.4 749.4,406.15"/>
<polygon points="754.1,405.79 755.5,405.24 756.8,404.78 758.6,404.39 771.5,404.26 773.3,404.62 774.7,405.06 776,405.58 774.7,406.12 773.3,406.58 771.5,406.98 758.6,407.1 756.8,406.74 755.5,406.31"/>
<polygon points="774.5,405.59 775.9,404.89 777.2,404.31 779,403.81 786.5,403.73 788.3,404.2 789.6,404.76 791,405.43 789.6,406.13 788.3,406.72 786.5,407.22 779,407.29 777.2,406.83 775.9,406.26"/>
<polygon points="789.5,405.45 790.8,404.84 792.2,404.34 793.9,403.9 808.2,403.76 810,404.16 811.4,404.65 812.7,405.22 811.4,405.83 810,406.34 808.2,406.77 793.9,406.91 792.2,406.51 790.8,406.03"/>
<polygon points="811.2,405.24 812.5,404.51 813.9,403.89 815.7,403.37 835.8,403.18 837.6,403.67 838.9,404.25 840.3,404.96 838.9,405.69 837.6,406.3 835.8,406.83 815.7,407.02 813.9,406.53 812.5,405.94"/>
<polygon points="840.7,404.96 842,404.09 843.4,403.36 845.2,402.74 882.8,402.38 888.2,402.93 892.2,403.61 896.3,404.42 892.2,405.31 888.2,406.06 882.8,406.72 845.2,407.08 843.4,406.5 842,405.79"/>
<polygon points="897.5,404.41 901.5,403.59 905.5,402.89 910.9,402.29 912.7,402.27 918.1,402.77 922.1,403.39 926.2,404.13 922.1,404.96 918.1,405.65 912.7,406.26 910.9,406.27 905.5,405.77 901.5,405.15"/>
<polygon points="931.7,404.08 935,403.3 938.2,402.64 942.6,402.07 953.3,401.96 953.3,401.96 953.3,405.78 953.3,405.78 942.6,405.88 938.2,405.4 935,404.8"/>
<polygon points="103.7,468.72 103.7,468.72 608.6,464.11 610.4,464.82 611.7,465.67 613,466.69 611.7,467.73 610.4,468.6 608.6,469.35 103.7,473.96 103.7,473.96"/>
<polygon points="609.5,466.72 610.8,465.68 612.2,464.8 613.9,464.06 751.1,462.8 752.9,463.51 754.3,464.37 755.6,465.38 754.3,466.43 752.9,467.3 751.1,468.04 613.9,469.3 612.2,468.59 610.8,467.74"/>
<polygon points="752,465.42 753.4,464.37 754.7,463.5 756.5,462.76 828.7,462.1 830.5,462.81 831.8,463.66 833.2,464.68 831.8,465.72 830.5,466.59 828.7,467.34 756.5,468 754.7,467.29 753.4,466.43"/>
<polygon points="829.6,464.71 830.9,463.67 832.3,462.79 834.1,462.05 904.2,461.41 906,462.12 907.3,462.97 908.6,463.99 907.3,465.03 906,465.9 904.2,466.65 834.1,467.29 832.3,466.58 830.9,465.73"/>
<polygon points="905.1,464.02 906.4,462.98 907.8,462.1 909.5,461.36 915.7,461.3 917.5,462.01 918.8,462.86 920.2,463.88 918.8,464.92 917.5,465.8 915.7,466.54 909.5,466.6 907.8,465.89 906.4,465.04"/>
<polygon points="916.6,463.91 917.9,462.87 919.3,462 921.1,461.25 927.2,461.2 929,461.91 930.4,462.76 931.7,463.78 930.4,464.82 929,465.69 927.2,466.44 921.1,466.49 919.3,465.78 917.9,464.93"/>
<polygon points="928.1,463.81 929.5,462.77 930.8,461.89 932.6,461.15 955,460.94 955,460.94 955,466.18 955,466.18 932.6,466.39 930.8,465.68 929.5,464.83"/>
<polygon points="103.7,505.52 103.7,505.52 608.6,500.85 610.4,501.56 611.7,502.41 613,503.43 611.7,504.47 610.4,505.34 608.6,506.09 103.7,510.76 103.7,510.76"/>
<polygon points="609.5,503.46 610.8,502.42 612.2,501.54 613.9,500.8 751.1,499.53 752.9,500.24 754.3,501.09 755.6,502.11 754.3,503.15 752.9,504.02 751.1,504.77 613.9,506.04 612.2,505.33 610.8,504.48"/>
<polygon points="752,502.14 753.4,501.1 754.7,500.22 756.5,499.48 828.7,498.81 830.5,499.52 831.8,500.37 833.2,501.39 831.8,502.43 830.5,503.31 828.7,504.05 756.5,504.72 754.7,504.01 753.4,503.16"/>
<polygon points="829.6,501.42 830.9,500.38 832.3,499.5 834.1,498.76 904.2,498.11 906,498.82 907.3,499.67 908.6,500.69 907.3,501.73 906,502.61 904.2,503.35 834.1,504 832.3,503.29 830.9,502.44"/>
<polygon points="905.1,500.72 906.4,499.68 907.8,498.8 909.5,498.06 915.7,498 917.5,498.71 918.8,499.57 920.2,500.58 918.8,501.63 917.5,502.5 915.7,503.24 909.5,503.3 907.8,502.59 906.4,501.74"/>
<polygon points="916.6,500.62 917.9,499.57 919.3,498.7 921.1,497.96 927.2,497.9 929,498.61 930.4,499.46 931.7,500.48 930.4,501.52 929,502.4 927.2,503.14 921.1,503.2 919.3,502.49 917.9,501.63"/>
<polygon points="928.1,500.51 929.5,499.47 930.8,498.59 932.6,497.85 955,497.64 955,497.64 955,502.88 955,502.88 932.6,503.09 930.8,502.38 929.5,501.53"/>
<polygon points="103.7,577.29 103.7,577.29 955,570.45 955,570.45 955,575.11 955,575.11 103.7,581.95 103.7,581.95"/>
<polygon points="103.7,614.69 103.7,614.69 955,607.64 955,607.64 955,612.31 955,612.31 103.7,619.36 103.7,619.36"/>
<polygon points="103.7,702.67 103.7,702.67 955,696.24 955,696.24 955,700.33 955,700.33 103.7,706.76 103.7,706.76"/>
<polygon points="103.7,739.77 103.7,739.77 955,733.44 955,733.44 955,737.53 955,737.53 103.7,743.86 103.7,743.86"/>
</g>
<g class="i" filter="url(#cm2)">
<polygon style="fill:#000" points="98.7,79.85 960,79.85 960,179.19 98.7,188.21"/>
<polygon fill-opacity="0.081" points="671.1,138.75 673.8,138.29 676.5,138 679.1,138.23 681.8,138.64 679.1,139.1 676.5,139.4 673.8,139.16"/>
<polygon fill-opacity="0.13" points="695.9,138.5 698.8,138.03 701.6,137.74 705.6,137.7 708.5,137.93 711.4,138.34 708.5,138.8 705.6,139.1 701.6,139.14 698.8,138.9"/>
<polygon fill-opacity="0.081" points="716.4,138.29 718.2,137.83 719.9,137.55 721.7,137.8 723.5,138.21 721.7,138.67 719.9,138.95 718.2,138.7"/>
<polygon fill-opacity="0.114" points="750.3,137.94 753,137.48 755.7,137.19 758.3,137.42 761,137.83 758.3,138.29 755.7,138.59 753,138.35"/>
<polygon fill-opacity="0.081" points="774.7,137.69 776.2,137.24 777.8,136.96 779.3,137.21 780.9,137.63 779.3,138.08 777.8,138.36 776.2,138.11"/>
<polygon fill-opacity="0.146" points="797.6,137.46 800.5,136.99 803.4,136.7 829.8,136.43 832.7,136.66 835.6,137.07 832.7,137.53 829.8,137.83 803.4,138.1 800.5,137.86"/>
<polygon fill-opacity="0.098" points="904,136.37 906.8,135.9 909.7,135.61 910.6,135.6 913.5,135.84 916.3,136.24 913.5,136.71 910.6,137 909.7,137.01 906.8,136.77"/>
<polygon fill-opacity="0.146" points="919.5,136.21 922.4,135.75 925.2,135.45 934.7,135.35 937.5,135.59 940.4,136 937.5,136.46 934.7,136.75 925.2,136.85 922.4,136.62"/>
<polygon fill-opacity="0.081" points="671.1,175.22 673.8,174.75 676.5,174.46 679.1,174.7 681.8,175.1 679.1,175.57 676.5,175.86 673.8,175.62"/>
<polygon fill-opacity="0.13" points="695.9,174.96 698.8,174.49 701.6,174.2 705.6,174.15 708.5,174.39 711.4,174.79 708.5,175.26 705.6,175.55 701.6,175.6 698.8,175.36"/>
<polygon fill-opacity="0.081" points="716.4,174.74 718.2,174.29 719.9,174 721.7,174.25 723.5,174.67 721.7,175.12 719.9,175.4 718.2,175.16"/>
<polygon fill-opacity="0.114" points="750.3,174.39 753,173.92 755.7,173.63 758.3,173.87 761,174.27 758.3,174.74 755.7,175.03 753,174.79"/>
<polygon fill-opacity="0.081" points="774.7,174.13 776.2,173.68 777.8,173.4 779.3,173.65 780.9,174.07 779.3,174.52 777.8,174.8 776.2,174.55"/>
<polygon fill-opacity="0.146" points="797.6,173.89 800.5,173.43 803.4,173.13 829.8,172.85 832.7,173.09 835.6,173.49 832.7,173.96 829.8,174.25 803.4,174.53 800.5,174.3"/>
<polygon fill-opacity="0.098" points="904,172.78 906.8,172.31 909.7,172.02 910.6,172.01 913.5,172.24 916.3,172.65 913.5,173.11 910.6,173.41 909.7,173.42 906.8,173.18"/>
<polygon fill-opacity="0.146" points="919.5,172.61 922.4,172.15 925.2,171.85 934.7,171.76 937.5,171.99 940.4,172.4 937.5,172.86 934.7,173.16 925.2,173.25 922.4,173.02"/>
</g>
<path class="dk" d="M118.7,203.52 L940,194.77"/><path class="dw" d="M118.7,203.52 L940,194.77"/>
<path class="dk" d="M118.7,219.18 L940,210.43"/><path class="dw" d="M118.7,219.18 L940,210.43"/>
<path class="dk" d="M118.7,240.17 L940,231.47"/><path class="dw" d="M118.7,240.17 L940,231.47"/>
<path class="dk" d="M118.7,255.83 L940,247.13"/><path class="dw" d="M118.7,255.83 L940,247.13"/>
<path class="dk" d="M118.7,280.77 L940,272.27"/><path class="dw" d="M118.7,280.77 L940,272.27"/>
<path class="dk" d="M118.7,296.43 L940,287.93"/><path class="dw" d="M118.7,296.43 L940,287.93"/>
<path class="dk" d="M118.7,317.17 L940,308.67"/><path class="dw" d="M118.7,317.17 L940,308.67"/>
<path class="dk" d="M118.7,332.83 L940,324.33"/><path class="dw" d="M118.7,332.83 L940,324.33"/>
<path class="dk" d="M118.7,365.77 L940,357.87"/><path class="dw" d="M118.7,365.77 L940,357.87"/>
<path class="dk" d="M118.7,381.43 L940,373.53"/><path class="dw" d="M118.7,381.43 L940,373.53"/>
<path class="dk" d="M118.7,402.17 L940,394.27"/><path class="dw" d="M118.7,402.17 L940,394.27"/>
<path class="dk" d="M118.7,417.83 L940,409.93"/><path class="dw" d="M118.7,417.83 L940,409.93"/>
<path class="dk" d="M118.7,461.47 L940,453.97"/><path class="dw" d="M118.7,461.47 L940,453.97"/>
<path class="dk" d="M118.7,477.13 L940,469.63"/><path class="dw" d="M118.7,477.13 L940,469.63"/>
<path class="dk" d="M118.7,498.27 L940,490.67"/><path class="dw" d="M118.7,498.27 L940,490.67"/>
<path class="dk" d="M118.7,513.93 L940,506.33"/><path class="dw" d="M118.7,513.93 L940,506.33"/>
<path class="dk" d="M118.7,569.77 L940,563.17"/><path class="dw" d="M118.7,569.77 L940,563.17"/>
<path class="dk" d="M118.7,585.43 L940,578.83"/><path class="dw" d="M118.7,585.43 L940,578.83"/>
<path class="dk" d="M118.7,607.17 L940,600.37"/><path class="dw" d="M118.7,607.17 L940,600.37"/>
<path class="dk" d="M118.7,622.83 L940,616.03"/><path class="dw" d="M118.7,622.83 L940,616.03"/>
<path class="dk" d="M118.7,694.37 L940,687.97"/><path class="dw" d="M118.7,694.37 L940,687.97"/>
<path class="dk" d="M118.7,710.03 L940,703.63"/><path class="dw" d="M118.7,710.03 L940,703.63"/>
<path class="dk" d="M118.7,731.97 L940,725.87"/><path class="dw" d="M118.7,731.97 L940,725.87"/>
<path class="dk" d="M118.7,747.63 L940,741.53"/><path class="dw" d="M118.7,747.63 L940,741.53"/>
</g>
<rect class="sp" x="118.7" y="99.85" width="821.3" height="713.05"/>
<line class="tk" x1="118.9" y1="812.9" x2="118.9" y2="820.2"/>
<text class="t" x="119.8" y="843.4" text-anchor="middle">0</text>
<line class="tk" x1="219.16" y1="812.9" x2="219.16" y2="820.2"/>
<text class="t" x="220.06" y="843.4" text-anchor="middle">250</text>
<line class="tk" x1="319.43" y1="812.9" x2="319.43" y2="820.2"/>
<text class="t" x="320.32" y="843.4" text-anchor="middle">500</text>
<line class="tk" x1="419.69" y1="812.9" x2="419.69" y2="820.2"/>
<text class="t" x="420.59" y="843.4" text-anchor="middle">750</text>
<line class="tk" x1="519.95" y1="812.9" x2="519.95" y2="820.2"/>
<text class="t" x="520.85" y="843.4" text-anchor="middle">1000</text>
<line class="tk" x1="620.21" y1="812.9" x2="620.21" y2="820.2"/>
<text class="t" x="621.11" y="843.4" text-anchor="middle">1250</text>
<line class="tk" x1="720.48" y1="812.9" x2="720.48" y2="820.2"/>
<text class="t" x="721.38" y="843.4" text-anchor="middle">1500</text>
<line class="tk" x1="820.74" y1="812.9" x2="820.74" y2="820.2"/>
<text class="t" x="821.64" y="843.4" text-anchor="middle">1750</text>
<line class="tk" x1="921" y1="812.9" x2="921" y2="820.2"/>
<text class="t" x="921.9" y="843.4" text-anchor="middle">2000</text>
<line class="tk" x1="112.3" y1="812.73" x2="118.7" y2="812.73"/>
<text class="t" x="105.3" y="820.73" text-anchor="end">0</text>
<line class="tk" x1="112.3" y1="725.68" x2="118.7" y2="725.68"/>
<text class="t" x="105.3" y="733.68" text-anchor="end">250</text>
<line class="tk" x1="112.3" y1="638.64" x2="118.7" y2="638.64"/>
<text class="t" x="105.3" y="646.64" text-anchor="end">500</text>
<line class="tk" x1="112.3" y1="551.6" x2="118.7" y2="551.6"/>
<text class="t" x="105.3" y="559.6" text-anchor="end">750</text>
<line class="tk" x1="112.3" y1="464.56" x2="118.7" y2="464.56"/>
<text class="t" x="105.3" y="472.56" text-anchor="end">1000</text>
<line class="tk" x1="112.3" y1="377.51" x2="118.7" y2="377.51"/>
<text class="t" x="105.3" y="385.51" text-anchor="end">1250</text>
<line class="tk" x1="112.3" y1="290.47" x2="118.7" y2="290.47"/>
<text class="t" x="105.3" y="298.47" text-anchor="end">1500</text>
<line class="tk" x1="112.3" y1="203.43" x2="118.7" y2="203.43"/>
<text class="t" x="105.3" y="211.43" text-anchor="end">1750</text>
<line class="tk" x1="112.3" y1="116.39" x2="118.7" y2="116.39"/>
<text class="t" x="105.3" y="124.39" text-anchor="end">2000</text>
<text class="h" x="529.35" y="87" text-anchor="middle">CHIP1</text>
<text class="t" x="530.35" y="871.7" text-anchor="middle">pixel</text>
<g clip-path="url(#c1)">
<g class="i" filter="url(#cm)">
<rect x="961.8" y="79.85" width="861.25" height="753.05" fill="#000"/>
<g opacity="0.009">
<polygon points="979.2,193.23 993.7,193.06 993.7,213.06 979.2,213.23"/>
<polygon points="1027.5,192.65 1725.7,184.32 1725.7,204.32 1027.5,212.65"/>
<polygon points="1763.3,183.87 1811.7,183.3 1811.7,203.3 1763.3,203.87"/>
<polygon points="979.2,229.73 993.7,229.56 993.7,249.56 979.2,249.73"/>
<polygon points="1027.5,229.15 1725.7,220.73 1725.7,240.73 1027.5,249.15"/>
<polygon points="1763.3,220.28 1811.7,219.7 1811.7,239.7 1763.3,240.28"/>
<polygon points="979.2,269.53 1016.3,269.13 1016.3,289.13 979.2,289.53"/>
<polygon points="1079.2,268.46 1375,265.29 1375,285.29 1079.2,288.46"/>
<polygon points="1409.6,264.92 1522.4,263.71 1522.4,283.71 1409.6,284.92"/>
<polygon points="1541,263.51 1811.7,260.61 1811.7,280.61 1541,283.51"/>
<polygon points="979.2,306.63 1016.3,306.21 1016.3,326.21 979.2,326.63"/>
<polygon points="1079.2,305.49 1375,302.1 1375,322.1 1079.2,325.49"/>
<polygon points="1409.6,301.7 1522.4,300.41 1522.4,320.41 1409.6,321.7"/>
<polygon points="1541,300.2 1811.7,297.1 1811.7,317.1 1541,320.2"/>
<polygon points="979.2,355.73 1140.8,354.02 1140.8,374.02 979.2,375.73"/>
<polygon points="1165.6,353.75 1342.7,351.88 1342.7,371.88 1165.6,373.75"/>
<polygon points="1358.6,351.71 1454,350.7 1454,370.7 1358.6,371.71"/>
<polygon points="1469.8,350.53 1580.9,349.35 1580.9,369.35 1469.8,370.53"/>
<polygon points="1624.9,348.89 1649.2,348.63 1649.2,368.63 1624.9,368.89"/>
<polygon points="1670.2,348.41 1811.7,346.91 1811.7,366.91 1670.2,368.41"/>
<polygon points="979.2,392.33 1140.8,390.62 1140.8,410.62 979.2,412.33"/>
<polygon points="1165.6,390.35 1342.7,388.48 1342.7,408.48 1165.6,410.35"/>
<polygon points="1358.6,388.31 1454,387.3 1454,407.3 1358.6,408.31"/>
<polygon points="1469.8,387.13 1580.9,385.95 1580.9,405.95 1469.8,407.13"/>
<polygon points="1624.9,385.49 1649.2,385.23 1649.2,405.23 1624.9,405.49"/>
<polygon points="1670.2,385.01 1811.7,383.51 1811.7,403.51 1670.2,405.01"/>
<polygon points="966.8,452.35 1818,443.65 1818,463.65 966.8,472.35"/>
<polygon points="966.8,488.75 1818,480.45 1818,500.45 966.8,508.75"/>
<polygon points="966.8,561.24 1818,553.36 1818,573.36 966.8,581.24"/>
<polygon points="966.8,598.44 1818,590.56 1818,610.56 966.8,618.44"/>
<polygon points="966.8,686.72 1818,680.08 1818,700.08 966.8,706.72"/>
<polygon points="966.8,724.22 1818,717.18 1818,737.18 966.8,744.22"/>
</g>
<g opacity="0.008">
<polygon points="979.2,183.23 993.7,183.06 993.7,221.06 979.2,221.23"/>
<polygon points="1027.5,182.65 1725.7,174.32 1725.7,212.32 1027.5,220.65"/>
<polygon points="1763.3,173.87 1811.7,173.3 1811.7,211.3 1763.3,211.87"/>
<polygon points="979.2,219.73 993.7,219.56 993.7,257.56 979.2,257.73"/>
<polygon points="1027.5,219.15 1725.7,210.73 1725.7,248.73 1027.5,257.15"/>
<polygon points="1763.3,210.28 1811.7,209.7 1811.7,247.7 1763.3,248.28"/>
<polygon points="979.2,259.53 1016.3,259.13 1016.3,297.13 979.2,297.53"/>
<polygon points="1079.2,258.46 1375,255.29 1375,293.29 1079.2,296.46"/>
<polygon points="1409.6,254.92 1522.4,253.71 1522.4,291.71 1409.6,292.92"/>
<polygon points="1541,253.51 1811.7,250.61 1811.7,288.61 1541,291.51"/>
<polygon points="979.2,296.63 1016.3,296.21 1016.3,334.21 979.2,334.63"/>
<polygon points="1079.2,295.49 1375,292.1 1375,330.1 1079.2,333.49"/>
<polygon points="1409.6,291.7 1522.4,290.41 1522.4,328.41 1409.6,329.7"/>
<polygon points="1541,290.2 1811.7,287.1 1811.7,325.1 1541,328.2"/>
<polygon points="979.2,345.73 1140.8,344.02 1140.8,382.02 979.2,383.73"/>
<polygon points="1165.6,343.75 1342.7,341.88 1342.7,379.88 1165.6,381.75"/>
<polygon points="1358.6,341.71 1454,340.7 1454,378.7 1358.6,379.71"/>
<polygon points="1469.8,340.53 1580.9,339.35 1580.9,377.35 1469.8,378.53"/>
<polygon points="1624.9,338.89 1649.2,338.63 1649.2,376.63 1624.9,376.89"/>
<polygon points="1670.2,338.41 1811.7,336.91 1811.7,374.91 1670.2,376.41"/>
<polygon points="979.2,382.33 1140.8,380.62 1140.8,418.62 979.2,420.33"/>
<polygon points="1165.6,380.35 1342.7,378.48 1342.7,416.48 1165.6,418.35"/>
<polygon points="1358.6,378.31 1454,377.3 1454,415.3 1358.6,416.31"/>
<polygon points="1469.8,377.13 1580.9,375.95 1580.9,413.95 1469.8,415.13"/>
<polygon points="1624.9,375.49 1649.2,375.23 1649.2,413.23 1624.9,413.49"/>
<polygon points="1670.2,375.01 1811.7,373.51 1811.7,411.51 1670.2,413.01"/>
<polygon points="966.8,442.35 1818,433.65 1818,471.65 966.8,480.35"/>
<polygon points="966.8,478.75 1818,470.45 1818,508.45 966.8,516.75"/>
<polygon points="966.8,551.24 1818,543.36 1818,581.36 966.8,589.24"/>
<polygon points="966.8,588.44 1818,580.56 1818,618.56 966.8,626.44"/>
<polygon points="966.8,676.72 1818,670.08 1818,708.08 966.8,714.72"/>
<polygon points="966.8,714.22 1818,707.18 1818,745.18 966.8,752.22"/>
</g>
<g opacity="0.004">
<polygon points="979.2,172.73 993.7,172.56 993.7,230.56 979.2,230.73"/>
<polygon points="1027.5,172.15 1725.7,163.82 1725.7,221.82 1027.5,230.15"/>
<polygon points="1763.3,163.37 1811.7,162.8 1811.7,220.8 1763.3,221.37"/>
<polygon points="979.2,209.23 993.7,209.06 993.7,267.06 979.2,267.23"/>
<polygon points="1027.5,208.65 1725.7,200.23 1725.7,258.23 1027.5,266.65"/>
<polygon points="1763.3,199.78 1811.7,199.2 1811.7,257.2 1763.3,257.78"/>
<polygon points="979.2,249.03 1016.3,248.63 1016.3,306.63 979.2,307.03"/>
<polygon points="1079.2,247.96 1375,244.79 1375,302.79 1079.2,305.96"/>
<polygon points="1409.6,244.42 1522.4,243.21 1522.4,301.21 1409.6,302.42"/>
<polygon points="1541,243.01 1811.7,240.11 1811.7,298.11 1541,301.01"/>
<polygon points="979.2,286.13 1016.3,285.71 1016.3,343.71 979.2,344.13"/>
<polygon points="1079.2,284.99 1375,281.6 1375,339.6 1079.2,342.99"/>
<polygon points="1409.6,281.2 1522.4,279.91 1522.4,337.91 1409.6,339.2"/>
<polygon points="1541,279.7 1811.7,276.6 1811.7,334.6 1541,337.7"/>
<polygon points="979.2,335.23 1140.8,333.52 1140.8,391.52 979.2,393.23"/>
<polygon points="1165.6,333.25 1342.7,331.38 1342.7,389.38 1165.6,391.25"/>
<polygon points="1358.6,331.21 1454,330.2 1454,388.2 1358.6,389.21"/>
<polygon points="1469.8,330.03 1580.9,328.85 1580.9,386.85 1469.8,388.03"/>
<polygon points="1624.9,328.39 1649.2,328.13 1649.2,386.13 1624.9,386.39"/>
<polygon points="1670.2,327.91 1811.7,326.41 1811.7,384.41 1670.2,385.91"/>
<polygon points="979.2,371.83 1140.8,370.12 1140.8,428.12 979.2,429.83"/>
<polygon points="1165.6,369.85 1342.7,367.98 1342.7,425.98 1165.6,427.85"/>
<polygon points="1358.6,367.81 1454,366.8 1454,424.8 1358.6,425.81"/>
<polygon points="1469.8,366.63 1580.9,365.45 1580.9,423.45 1469.8,424.63"/>
<polygon points="1624.9,364.99 1649.2,364.73 1649.2,422.73 1624.9,422.99"/>
<polygon points="1670.2,364.51 1811.7,363.01 1811.7,421.01 1670.2,422.51"/>
<polygon points="966.8,431.85 1818,423.15 1818,481.15 966.8,489.85"/>
<polygon points="966.8,468.25 1818,459.95 1818,517.95 966.8,526.25"/>
<polygon points="966.8,540.74 1818,532.86 1818,590.86 966.8,598.74"/>
<polygon points="966.8,577.94 1818,570.06 1818,628.06 966.8,635.94"/>
<polygon points="966.8,666.22 1818,659.58 1818,717.58 966.8,724.22"/>
<polygon points="966.8,703.72 1818,696.68 1818,754.68 966.8,761.72"/>
</g>
<g opacity="0.055">
<polygon points="979.2,199.33 979.2,199.33 983.4,199.28 992.2,199.86 1001,200.87 992.2,202.09 983.4,202.88 979.2,202.93 979.2,202.93"/>
<polygon points="1023.8,200.5 1028.2,199.3 1032.7,198.54 1044.2,198.41 1047.3,199.07 1050.5,200.18 1047.3,201.37 1044.2,202.11 1032.7,202.24 1028.2,201.59"/>
<polygon points="1050.8,200.68 1053,199.66 1055.2,199.02 1055.4,199.02 1057.7,199.6 1060.1,200.57 1057.7,201.59 1055.4,202.22 1055.2,202.22 1053,201.64"/>
<polygon points="1058,200.39 1059.3,199.32 1060.5,198.66 1073.5,198.51 1077.3,199.1 1081.1,200.12 1077.3,201.22 1073.5,201.91 1060.5,202.06 1059.3,201.43"/>
<polygon points="1084.9,200.47 1088.5,199.5 1092.1,198.88 1092.7,198.88 1096.3,199.4 1099.9,200.29 1096.3,201.27 1092.7,201.88 1092.1,201.88 1088.5,201.36"/>
<polygon points="1097.9,199.32 1106.7,197.97 1115.5,197.11 1168.9,196.47 1171.4,197.19 1174,198.41 1171.4,199.68 1168.9,200.47 1115.5,201.11 1106.7,200.45"/>
<polygon points="1173.5,198.41 1184.9,197.03 1196.2,196.14 1227.6,195.77 1228.9,196.51 1230.1,197.74 1228.9,198.99 1227.6,199.77 1196.2,200.14 1184.9,199.52"/>
<polygon points="1229.9,197.74 1231.2,196.48 1232.4,195.71 1280.7,195.13 1282.2,195.87 1283.7,197.1 1282.2,198.36 1280.7,199.13 1232.4,199.71 1231.2,198.97"/>
<polygon points="1284.5,198.09 1285.5,197.14 1286.5,196.56 1298.7,196.42 1299.7,196.97 1300.7,197.89 1299.7,198.84 1298.7,199.42 1286.5,199.56 1285.5,199.01"/>
<polygon points="1297.4,196.93 1305,195.6 1312.5,194.75 1375.8,194 1377.1,194.74 1378.4,195.97 1377.1,197.23 1375.8,198 1312.5,198.75 1305,198.09"/>
<polygon points="1379,195.96 1380.2,194.7 1381.5,193.93 1495.1,192.57 1496.4,193.32 1497.6,194.54 1496.4,195.8 1495.1,196.57 1381.5,197.93 1380.2,197.19"/>
<polygon points="1498.9,194.53 1500.2,193.27 1501.4,192.5 1518.2,192.3 1521.3,193.02 1524.5,194.22 1521.3,195.5 1518.2,196.3 1501.4,196.5 1500.2,195.76"/>
<polygon points="1525.3,194.21 1529.1,192.93 1532.9,192.12 1558.6,191.82 1560.2,192.56 1561.7,193.78 1560.2,195.04 1558.6,195.82 1532.9,196.12 1529.1,195.41"/>
<polygon points="1562.8,193.77 1564.3,192.51 1565.8,191.73 1596.8,191.36 1600.6,192.07 1604.4,193.27 1600.6,194.56 1596.8,195.36 1565.8,195.73 1564.3,194.99"/>
<polygon points="1610.2,193.4 1614,192.18 1617.8,191.41 1653.4,190.99 1654.7,191.69 1655.9,192.86 1654.7,194.05 1653.4,194.79 1617.8,195.21 1614,194.54"/>
<polygon points="1657.2,192.64 1658.4,191.38 1659.7,190.61 1703.7,190.09 1722.6,190.62 1741.5,191.63 1722.6,193.1 1703.7,194.09 1659.7,194.61 1658.4,193.87"/>
<polygon points="1749.6,191.54 1766,190.1 1782.3,189.15 1811.7,188.8 1811.7,188.8 1811.7,192.8 1811.7,192.8 1782.3,193.15 1766,192.58"/>
<polygon points="979.2,235.83 979.2,235.83 983.4,235.78 992.2,236.36 1001,237.37 992.2,238.59 983.4,239.38 979.2,239.43 979.2,239.43"/>
<polygon points="1023.8,236.99 1028.2,235.79 1032.7,235.04 1044.2,234.9 1047.3,235.56 1050.5,236.67 1047.3,237.86 1044.2,238.6 1032.7,238.74 1028.2,238.09"/>
<polygon points="1050.8,237.17 1053,236.15 1055.2,235.52 1055.4,235.51 1057.7,236.09 1060.1,237.06 1057.7,238.08 1055.4,238.71 1055.2,238.72 1053,238.14"/>
<polygon points="1058,236.88 1059.3,235.81 1060.5,235.15 1073.5,234.99 1077.3,235.59 1081.1,236.6 1077.3,237.7 1073.5,238.39 1060.5,238.55 1059.3,237.92"/>
<polygon points="1084.9,236.96 1088.5,235.98 1092.1,235.37 1092.7,235.36 1096.3,235.89 1099.9,236.78 1096.3,237.75 1092.7,238.36 1092.1,238.37 1088.5,237.85"/>
<polygon points="1097.9,235.8 1106.7,234.45 1115.5,233.59 1168.9,232.94 1171.4,233.67 1174,234.88 1171.4,236.16 1168.9,236.94 1115.5,237.59 1106.7,236.94"/>
<polygon points="1173.5,234.89 1184.9,233.51 1196.2,232.62 1227.6,232.24 1228.9,232.98 1230.1,234.21 1228.9,235.46 1227.6,236.24 1196.2,236.62 1184.9,235.99"/>
<polygon points="1229.9,234.21 1231.2,232.95 1232.4,232.18 1280.7,231.6 1282.2,232.34 1283.7,233.56 1282.2,234.82 1280.7,235.6 1232.4,236.18 1231.2,235.44"/>
<polygon points="1284.5,234.55 1285.5,233.61 1286.5,233.03 1298.7,232.88 1299.7,233.44 1300.7,234.36 1299.7,235.3 1298.7,235.88 1286.5,236.03 1285.5,235.47"/>
<polygon points="1297.4,233.4 1305,232.06 1312.5,231.21 1375.8,230.45 1377.1,231.19 1378.4,232.42 1377.1,233.68 1375.8,234.45 1312.5,235.21 1305,234.55"/>
<polygon points="1379,232.41 1380.2,231.15 1381.5,230.38 1495.1,229.01 1496.4,229.75 1497.6,230.98 1496.4,232.24 1495.1,233.01 1381.5,234.38 1380.2,233.64"/>
<polygon points="1498.9,230.97 1500.2,229.71 1501.4,228.94 1518.2,228.73 1521.3,229.45 1524.5,230.66 1521.3,231.94 1518.2,232.73 1501.4,232.94 1500.2,232.19"/>
<polygon points="1525.3,230.65 1529.1,229.36 1532.9,228.56 1558.6,228.25 1560.2,228.99 1561.7,230.21 1560.2,231.47 1558.6,232.25 1532.9,232.56 1529.1,231.84"/>
<polygon points="1562.8,230.2 1564.3,228.94 1565.8,228.16 1596.8,227.79 1600.6,228.5 1604.4,229.7 1600.6,230.98 1596.8,231.79 1565.8,232.16 1564.3,231.42"/>
<polygon points="1610.2,229.82 1614,228.6 1617.8,227.83 1653.4,227.4 1654.7,228.11 1655.9,229.27 1654.7,230.47 1653.4,231.2 1617.8,231.63 1614,230.96"/>
<polygon points="1657.2,229.06 1658.4,227.8 1659.7,227.03 1703.7,226.5 1722.6,227.03 1741.5,228.04 1722.6,229.51 1703.7,230.5 1659.7,231.03 1658.4,230.29"/>
<polygon points="1749.6,227.94 1766,226.5 1782.3,225.55 1811.7,225.2 1811.7,225.2 1811.7,229.2 1811.7,229.2 1782.3,229.55 1766,228.99"/>
<polygon points="979.2,275.48 979.2,275.48 985.5,275.41 1011.9,275.83 1038.3,276.69 1011.9,278.13 985.5,279.11 979.2,279.18 979.2,279.18"/>
<polygon points="1043.6,276.34 1086.3,274.64 1129.1,273.42 1165.8,273.03 1168.9,273.75 1172.1,274.96 1168.9,276.24 1165.8,277.03 1129.1,277.42 1086.3,277.12"/>
<polygon points="1170.6,274.98 1178.1,273.65 1185.7,272.82 1237.1,272.26 1240.8,272.98 1244.6,274.18 1240.8,275.47 1237.1,276.26 1185.7,276.82 1178.1,276.14"/>
<polygon points="1243.8,274.19 1248.8,272.9 1253.8,272.09 1361.8,270.93 1373.1,271.56 1384.4,272.69 1373.1,274.05 1361.8,274.93 1253.8,276.09 1248.8,275.38"/>
<polygon points="1382.1,274.11 1384.8,273.27 1387.4,272.75 1387.9,272.75 1390.6,273.21 1393.3,273.99 1390.6,274.83 1387.9,275.35 1387.4,275.35 1384.8,274.89"/>
<polygon points="1400.2,272.72 1411.5,271.42 1422.8,270.57 1448,270.3 1454.2,270.96 1460.5,272.07 1454.2,273.32 1448,274.1 1422.8,274.37 1411.5,273.78"/>
<polygon points="1462,272.45 1467,271.34 1472.1,270.65 1485.5,270.5 1486.5,271.14 1487.5,272.18 1486.5,273.25 1485.5,273.9 1472.1,274.05 1467,273.46"/>
<polygon points="1488.1,272.18 1489.1,271.11 1490.1,270.45 1508.5,270.26 1509.5,270.89 1510.6,271.93 1509.5,273 1508.5,273.66 1490.1,273.85 1489.1,273.22"/>
<polygon points="1511.2,272.33 1512,271.39 1512.7,270.81 1521.5,270.72 1522.3,271.28 1523.1,272.2 1522.3,273.14 1521.5,273.72 1512.7,273.81 1512,273.25"/>
<polygon points="1523,272.4 1523.6,271.52 1524.3,270.99 1529.1,270.94 1529.7,271.46 1530.3,272.32 1529.7,273.2 1529.1,273.74 1524.3,273.79 1523.6,273.26"/>
<polygon points="1530.3,272.32 1531,271.45 1531.6,270.91 1536.4,270.86 1537.1,271.38 1537.7,272.24 1537.1,273.12 1536.4,273.66 1531.6,273.71 1531,273.18"/>
<polygon points="1537.9,271.04 1541.7,269.76 1545.4,268.96 1616.7,268.2 1618,268.94 1619.2,270.17 1618,271.43 1616.7,272.2 1545.4,272.96 1541.7,272.24"/>
<polygon points="1619.5,270.37 1620.5,269.18 1621.5,268.44 1629.7,268.36 1630.7,269.07 1631.7,270.24 1630.7,271.43 1629.7,272.16 1621.5,272.24 1620.5,271.54"/>
<polygon points="1632,270.03 1633.3,268.78 1634.5,268.01 1811.7,266.11 1811.7,266.11 1811.7,270.11 1811.7,270.11 1634.5,272.01 1633.3,271.26"/>
<polygon points="979.2,312.58 979.2,312.58 985.5,312.51 1011.9,312.91 1038.3,313.75 1011.9,315.2 985.5,316.21 979.2,316.28 979.2,316.28"/>
<polygon points="1043.6,313.39 1086.3,311.66 1129.1,310.41 1165.8,309.99 1168.9,310.72 1172.1,311.92 1168.9,313.2 1165.8,313.99 1129.1,314.41 1086.3,314.15"/>
<polygon points="1170.6,311.94 1178.1,310.61 1185.7,309.77 1237.1,309.18 1240.8,309.89 1244.6,311.09 1240.8,312.38 1237.1,313.18 1185.7,313.77 1178.1,313.09"/>
<polygon points="1243.8,311.1 1248.8,309.8 1253.8,308.99 1361.8,307.75 1373.1,308.38 1384.4,309.49 1373.1,310.86 1361.8,311.75 1253.8,312.99 1248.8,312.29"/>
<polygon points="1382.1,310.92 1384.8,310.08 1387.4,309.56 1387.9,309.55 1390.6,310.01 1393.3,310.79 1390.6,311.63 1387.9,312.15 1387.4,312.16 1384.8,311.7"/>
<polygon points="1400.2,309.51 1411.5,308.2 1422.8,307.35 1448,307.06 1454.2,307.71 1460.5,308.82 1454.2,310.07 1448,310.86 1422.8,311.15 1411.5,310.56"/>
<polygon points="1462,309.2 1467,308.09 1472.1,307.39 1485.5,307.23 1486.5,307.87 1487.5,308.91 1486.5,309.98 1485.5,310.63 1472.1,310.79 1467,310.2"/>
<polygon points="1488.1,308.91 1489.1,307.84 1490.1,307.18 1508.5,306.97 1509.5,307.6 1510.6,308.65 1509.5,309.72 1508.5,310.37 1490.1,310.58 1489.1,309.95"/>
<polygon points="1511.2,309.04 1512,308.1 1512.7,307.52 1521.5,307.42 1522.3,307.98 1523.1,308.9 1522.3,309.85 1521.5,310.42 1512.7,310.52 1512,309.96"/>
<polygon points="1523,309.11 1523.6,308.23 1524.3,307.69 1529.1,307.64 1529.7,308.16 1530.3,309.02 1529.7,309.9 1529.1,310.44 1524.3,310.49 1523.6,309.97"/>
<polygon points="1530.3,309.02 1531,308.14 1531.6,307.61 1536.4,307.55 1537.1,308.08 1537.7,308.94 1537.1,309.81 1536.4,310.35 1531.6,310.41 1531,309.88"/>
<polygon points="1537.9,307.73 1541.7,306.45 1545.4,305.65 1616.7,304.83 1618,305.58 1619.2,306.8 1618,308.06 1616.7,308.83 1545.4,309.65 1541.7,308.93"/>
<polygon points="1619.5,307 1620.5,305.81 1621.5,305.08 1629.7,304.98 1630.7,305.69 1631.7,306.86 1630.7,308.05 1629.7,308.78 1621.5,308.88 1620.5,308.17"/>
<polygon points="1632,306.66 1633.3,305.4 1634.5,304.63 1811.7,302.6 1811.7,302.6 1811.7,306.6 1811.7,306.6 1634.5,308.63 1633.3,307.89"/>
<polygon points="979.2,361.23 979.2,361.23 1121.8,359.72 1138.1,360.3 1154.5,361.37 1138.1,362.79 1121.8,363.72 979.2,365.23 979.2,365.23"/>
<polygon points="1151.9,361.4 1168.3,359.98 1184.6,359.05 1197.6,358.91 1198.4,359.66 1199.2,360.9 1198.4,362.15 1197.6,362.91 1184.6,363.05 1168.3,362.47"/>
<polygon points="1199.5,360.89 1200.2,359.64 1201,358.88 1291.6,357.92 1299.1,358.6 1306.7,359.76 1299.1,361.08 1291.6,361.92 1201,362.88 1200.2,362.13"/>
<polygon points="1306.4,359.96 1315.3,358.69 1324.1,357.87 1332.4,357.79 1341.2,358.41 1350.1,359.5 1341.2,360.77 1332.4,361.59 1324.1,361.67 1315.3,361.05"/>
<polygon points="1353.4,360.26 1359.7,359.27 1366,358.63 1370.2,358.59 1376.5,359.09 1382.8,359.95 1376.5,360.95 1370.2,361.59 1366,361.63 1359.7,361.13"/>
<polygon points="1381.5,359.17 1391.6,357.88 1401.6,357.05 1411.1,356.95 1421.1,357.57 1431.2,358.64 1421.1,359.93 1411.1,360.75 1401.6,360.85 1391.6,360.24"/>
<polygon points="1427.8,359.07 1434.1,357.95 1440.4,357.24 1446.7,357.18 1453,357.75 1459.3,358.74 1453,359.86 1446.7,360.58 1440.4,360.64 1434.1,360.06"/>
<polygon points="1456.1,358.18 1472.5,356.76 1488.8,355.83 1562,355.05 1562.8,355.8 1563.5,357.04 1562.8,358.29 1562,359.05 1488.8,359.83 1472.5,359.24"/>
<polygon points="1564.1,357.83 1564.8,356.83 1565.6,356.22 1570.6,356.16 1579.4,356.68 1588.2,357.58 1579.4,358.66 1570.6,359.36 1565.6,359.42 1564.8,358.82"/>
<polygon points="1621.8,357.02 1625.5,355.92 1629.3,355.24 1641.9,355.11 1648.2,355.68 1654.5,356.67 1648.2,357.8 1641.9,358.51 1629.3,358.64 1625.5,358.04"/>
<polygon points="1654.5,356.07 1673.3,354.63 1692.2,353.67 1811.7,352.41 1811.7,352.41 1811.7,356.41 1811.7,356.41 1692.2,357.67 1673.3,357.12"/>
<polygon points="979.2,397.83 979.2,397.83 1121.8,396.32 1138.1,396.9 1154.5,397.97 1138.1,399.39 1121.8,400.32 979.2,401.83 979.2,401.83"/>
<polygon points="1151.9,398 1168.3,396.58 1184.6,395.65 1197.6,395.51 1198.4,396.26 1199.2,397.5 1198.4,398.75 1197.6,399.51 1184.6,399.65 1168.3,399.07"/>
<polygon points="1199.5,397.49 1200.2,396.24 1201,395.48 1291.6,394.52 1299.1,395.2 1306.7,396.36 1299.1,397.68 1291.6,398.52 1201,399.48 1200.2,398.73"/>
<polygon points="1306.4,396.56 1315.3,395.29 1324.1,394.47 1332.4,394.39 1341.2,395.01 1350.1,396.1 1341.2,397.37 1332.4,398.19 1324.1,398.27 1315.3,397.65"/>
<polygon points="1353.4,396.86 1359.7,395.87 1366,395.23 1370.2,395.19 1376.5,395.69 1382.8,396.55 1376.5,397.55 1370.2,398.19 1366,398.23 1359.7,397.73"/>
<polygon points="1381.5,395.77 1391.6,394.48 1401.6,393.65 1411.1,393.55 1421.1,394.17 1431.2,395.24 1421.1,396.53 1411.1,397.35 1401.6,397.45 1391.6,396.84"/>
<polygon points="1427.8,395.67 1434.1,394.55 1440.4,393.84 1446.7,393.78 1453,394.35 1459.3,395.34 1453,396.46 1446.7,397.18 1440.4,397.24 1434.1,396.66"/>
<polygon points="1456.1,394.78 1472.5,393.36 1488.8,392.43 1562,391.65 1562.8,392.4 1563.5,393.64 1562.8,394.89 1562,395.65 1488.8,396.43 1472.5,395.84"/>
<polygon points="1564.1,394.43 1564.8,393.43 1565.6,392.82 1570.6,392.76 1579.4,393.28 1588.2,394.18 1579.4,395.26 1570.6,395.96 1565.6,396.02 1564.8,395.42"/>
<polygon points="1621.8,393.62 1625.5,392.52 1629.3,391.84 1641.9,391.71 1648.2,392.28 1654.5,393.27 1648.2,394.4 1641.9,395.11 1629.3,395.24 1625.5,394.64"/>
<polygon points="1654.5,392.67 1673.3,391.23 1692.2,390.27 1811.7,389.01 1811.7,389.01 1811.7,393.01 1811.7,393.01 1692.2,394.27 1673.3,393.72"/>
<polygon points="966.8,457.85 966.8,457.85 1009,457.42 1011.4,458.16 1013.8,459.37 1011.4,460.64 1009,461.42 966.8,461.85 966.8,461.85"/>
<polygon points="1009.6,459.42 1012,458.15 1014.4,457.37 1031,457.2 1033.4,457.93 1035.8,459.15 1033.4,460.41 1031,461.2 1014.4,461.37 1012,460.63"/>
<polygon points="1031.6,459.19 1034,457.92 1036.4,457.14 1043.6,457.07 1046,457.8 1048.4,459.02 1046,460.29 1043.6,461.07 1036.4,461.14 1034,460.41"/>
<polygon points="1044.2,459.06 1046.6,457.8 1049,457.01 1081.3,456.68 1083.7,457.42 1086.1,458.63 1083.7,459.9 1081.3,460.68 1049,461.01 1046.6,460.28"/>
<polygon points="1081.9,458.68 1084.3,457.41 1086.7,456.63 1112.8,456.36 1115.2,457.09 1117.6,458.31 1115.2,459.58 1112.8,460.36 1086.7,460.63 1084.3,459.89"/>
<polygon points="1113.4,458.35 1115.8,457.09 1118.1,456.31 1146.3,456.02 1148.7,456.75 1151.1,457.97 1148.7,459.23 1146.3,460.02 1118.1,460.31 1115.8,459.57"/>
<polygon points="1146.9,458.01 1149.3,456.74 1151.7,455.96 1188.2,455.59 1190.6,456.32 1193,457.54 1190.6,458.81 1188.2,459.59 1151.7,459.96 1149.3,459.23"/>
<polygon points="1188.8,457.58 1191.2,456.32 1193.6,455.53 1230.2,455.16 1232.6,455.89 1235,457.11 1232.6,458.38 1230.2,459.16 1193.6,459.53 1191.2,458.8"/>
<polygon points="1230.8,457.15 1233.2,455.89 1235.5,455.1 1299.4,454.45 1301.8,455.19 1304.1,456.4 1301.8,457.67 1299.4,458.45 1235.5,459.1 1233.2,458.37"/>
<polygon points="1299.9,456.45 1302.3,455.18 1304.7,454.4 1338.1,454.06 1340.5,454.79 1342.9,456.01 1340.5,457.27 1338.1,458.06 1304.7,458.4 1302.3,457.66"/>
<polygon points="1339.2,456.04 1340.1,454.79 1340.9,454.03 1341.8,454.78 1342.6,456.01 1341.8,457.26 1340.9,458.03 1340.1,457.28"/>
<polygon points="1338.9,456.05 1341.3,454.78 1343.7,454 1564.8,451.74 1567.2,452.47 1569.5,453.69 1567.2,454.95 1564.8,455.74 1343.7,458 1341.3,457.26"/>
<polygon points="1565.4,453.73 1567.7,452.46 1570.1,451.68 1818,449.15 1818,449.15 1818,453.15 1818,453.15 1570.1,455.68 1567.7,454.95"/>
<polygon points="966.8,494.25 966.8,494.25 1009,493.83 1011.4,494.57 1013.8,495.79 1011.4,497.05 1009,497.83 966.8,498.25 966.8,498.25"/>
<polygon points="1009.6,495.83 1012,494.56 1014.4,493.78 1031,493.62 1033.4,494.36 1035.8,495.57 1033.4,496.84 1031,497.62 1014.4,497.78 1012,497.05"/>
<polygon points="1031.6,495.61 1034,494.35 1036.4,493.57 1043.6,493.5 1046,494.23 1048.4,495.45 1046,496.72 1043.6,497.5 1036.4,497.57 1034,496.83"/>
<polygon points="1044.2,495.49 1046.6,494.23 1049,493.45 1081.3,493.13 1083.7,493.87 1086.1,495.08 1083.7,496.35 1081.3,497.13 1049,497.45 1046.6,496.71"/>
<polygon points="1081.9,495.12 1084.3,493.86 1086.7,493.08 1112.8,492.82 1115.2,493.56 1117.6,494.78 1115.2,496.04 1112.8,496.82 1086.7,497.08 1084.3,496.34"/>
<polygon points="1113.4,494.82 1115.8,493.55 1118.1,492.77 1146.3,492.5 1148.7,493.23 1151.1,494.45 1148.7,495.72 1146.3,496.5 1118.1,496.77 1115.8,496.04"/>
<polygon points="1146.9,494.49 1149.3,493.23 1151.7,492.45 1188.2,492.09 1190.6,492.82 1193,494.04 1190.6,495.31 1188.2,496.09 1151.7,496.45 1149.3,495.71"/>
<polygon points="1188.8,494.08 1191.2,492.82 1193.6,492.04 1230.2,491.68 1232.6,492.42 1235,493.63 1232.6,494.9 1230.2,495.68 1193.6,496.04 1191.2,495.3"/>
<polygon points="1230.8,493.67 1233.2,492.41 1235.5,491.63 1299.4,491.01 1301.8,491.74 1304.1,492.96 1301.8,494.23 1299.4,495.01 1235.5,495.63 1233.2,494.89"/>
<polygon points="1299.9,493 1302.3,491.74 1304.7,490.95 1338.1,490.63 1340.5,491.36 1342.9,492.58 1340.5,493.85 1338.1,494.63 1304.7,494.95 1302.3,494.22"/>
<polygon points="1339.2,492.62 1340.1,491.37 1340.9,490.6 1341.8,491.35 1342.6,492.59 1341.8,493.84 1340.9,494.6 1340.1,493.85"/>
<polygon points="1338.9,492.62 1341.3,491.36 1343.7,490.57 1564.8,488.42 1567.2,489.16 1569.5,490.37 1567.2,491.64 1564.8,492.42 1343.7,494.57 1341.3,493.84"/>
<polygon points="1565.4,490.42 1567.7,489.15 1570.1,488.37 1818,485.95 1818,485.95 1818,489.95 1818,489.95 1570.1,492.37 1567.7,491.63"/>
<polygon points="966.8,566.74 966.8,566.74 1818,558.86 1818,558.86 1818,562.86 1818,562.86 966.8,570.74 966.8,570.74"/>
<polygon points="966.8,603.94 966.8,603.94 1818,596.06 1818,596.06 1818,600.06 1818,600.06 966.8,607.94 966.8,607.94"/>
<polygon points="966.8,692.22 966.8,692.22 1818,685.58 1818,685.58 1818,689.58 1818,689.58 966.8,696.22 966.8,696.22"/>
<polygon points="1202.4,692.38 1219.2,691.01 1236.1,690.12 1259.2,689.94 1267.6,690.63 1276,691.81 1267.6,693.12 1259.2,693.94 1236.1,694.12 1219.2,693.49"/>
<polygon points="1265.1,691.89 1278.3,690.55 1291.5,689.69 1315.1,689.5 1340.2,690.06 1365.4,691.11 1340.2,692.55 1315.1,693.5 1291.5,693.69 1278.3,693.03"/>
<polygon points="966.8,729.72 966.8,729.72 1818,722.68 1818,722.68 1818,726.68 1818,726.68 966.8,733.72 966.8,733.72"/>
<polygon points="1202.4,729.77 1219.2,728.39 1236.1,727.49 1259.2,727.3 1267.6,727.99 1276,729.16 1267.6,730.48 1259.2,731.3 1236.1,731.49 1219.2,730.88"/>
<polygon points="1265.1,729.25 1278.3,727.9 1291.5,727.04 1315.1,726.84 1340.2,727.39 1365.4,728.42 1340.2,729.87 1315.1,730.84 1291.5,731.04 1278.3,730.39"/>
</g>
<g opacity="0.02">
<polygon points="979.2,196.18 979.2,196.18 983.4,196.13 992.2,197.39 1001,199.52 992.2,201.86 983.4,203.33 979.2,203.38 979.2,203.38"/>
<polygon points="1023.8,199.11 1028.2,196.76 1032.7,195.31 1044.2,195.17 1047.3,196.53 1050.5,198.79 1047.3,201.13 1044.2,202.57 1032.7,202.71 1028.2,201.36"/>
<polygon points="1050.8,199.48 1053,197.46 1055.2,196.22 1055.4,196.22 1057.7,197.41 1060.1,199.37 1057.7,201.38 1055.4,202.62 1055.2,202.62 1053,201.44"/>
<polygon points="1058,199.12 1059.3,196.99 1060.5,195.69 1073.5,195.53 1077.3,196.77 1081.1,198.84 1077.3,201 1073.5,202.33 1060.5,202.49 1059.3,201.21"/>
<polygon points="1084.9,199.34 1088.5,197.44 1092.1,196.26 1092.7,196.25 1096.3,197.35 1099.9,199.17 1096.3,201.07 1092.7,202.25 1092.1,202.26 1088.5,201.16"/>
<polygon points="1097.9,197.82 1106.7,195.23 1115.5,193.61 1168.9,192.97 1171.4,194.45 1174,196.91 1171.4,199.42 1168.9,200.97 1115.5,201.61 1106.7,200.19"/>
<polygon points="1173.5,196.91 1184.9,194.29 1196.2,192.64 1227.6,192.27 1228.9,193.77 1230.1,196.24 1228.9,198.74 1227.6,200.27 1196.2,200.64 1184.9,199.26"/>
<polygon points="1229.9,196.24 1231.2,193.74 1232.4,192.21 1280.7,191.63 1282.2,193.13 1283.7,195.6 1282.2,198.1 1280.7,199.63 1232.4,200.21 1231.2,198.71"/>
<polygon points="1284.5,196.96 1285.5,195.09 1286.5,193.94 1298.7,193.79 1299.7,194.92 1300.7,196.77 1299.7,198.64 1298.7,199.79 1286.5,199.94 1285.5,198.81"/>
<polygon points="1297.4,195.43 1305,192.86 1312.5,191.25 1375.8,190.5 1377.1,192 1378.4,194.47 1377.1,196.97 1375.8,198.5 1312.5,199.25 1305,197.83"/>
<polygon points="1379,194.46 1380.2,191.96 1381.5,190.43 1495.1,189.07 1496.4,190.58 1497.6,193.04 1496.4,195.54 1495.1,197.07 1381.5,198.43 1380.2,196.93"/>
<polygon points="1498.9,193.03 1500.2,190.53 1501.4,189 1518.2,188.8 1521.3,190.28 1524.5,192.72 1521.3,195.25 1518.2,196.8 1501.4,197 1500.2,195.5"/>
<polygon points="1525.3,192.71 1529.1,190.18 1532.9,188.62 1558.6,188.32 1560.2,189.81 1561.7,192.28 1560.2,194.78 1558.6,196.32 1532.9,196.62 1529.1,195.15"/>
<polygon points="1562.8,192.27 1564.3,189.77 1565.8,188.23 1596.8,187.86 1600.6,189.33 1604.4,191.77 1600.6,194.3 1596.8,195.86 1565.8,196.23 1564.3,194.73"/>
<polygon points="1610.2,191.98 1614,189.57 1617.8,188.09 1653.4,187.66 1654.7,189.09 1655.9,191.43 1654.7,193.81 1653.4,195.26 1617.8,195.69 1614,194.29"/>
<polygon points="1657.2,191.14 1658.4,188.64 1659.7,187.11 1703.7,186.59 1722.6,187.88 1741.5,190.13 1722.6,192.84 1703.7,194.59 1659.7,195.11 1658.4,193.61"/>
<polygon points="1749.6,190.04 1766,187.36 1782.3,185.65 1811.7,185.3 1811.7,185.3 1811.7,193.3 1811.7,193.3 1782.3,193.65 1766,192.33"/>
<polygon points="979.2,232.68 979.2,232.68 983.4,232.63 992.2,233.89 1001,236.02 992.2,238.36 983.4,239.83 979.2,239.88 979.2,239.88"/>
<polygon points="1023.8,235.61 1028.2,233.25 1032.7,231.8 1044.2,231.66 1047.3,233.02 1050.5,235.28 1047.3,237.62 1044.2,239.06 1032.7,239.2 1028.2,237.85"/>
<polygon points="1050.8,235.97 1053,233.95 1055.2,232.72 1055.4,232.71 1057.7,233.9 1060.1,235.86 1057.7,237.87 1055.4,239.11 1055.2,239.12 1053,237.93"/>
<polygon points="1058,235.61 1059.3,233.48 1060.5,232.18 1073.5,232.02 1077.3,233.26 1081.1,235.33 1077.3,237.49 1073.5,238.82 1060.5,238.98 1059.3,237.7"/>
<polygon points="1084.9,235.83 1088.5,233.93 1092.1,232.75 1092.7,232.74 1096.3,233.83 1099.9,235.65 1096.3,237.56 1092.7,238.74 1092.1,238.75 1088.5,237.65"/>
<polygon points="1097.9,234.3 1106.7,231.71 1115.5,230.09 1168.9,229.44 1171.4,230.93 1174,233.38 1171.4,235.9 1168.9,237.44 1115.5,238.09 1106.7,236.68"/>
<polygon points="1173.5,233.39 1184.9,230.77 1196.2,229.12 1227.6,228.74 1228.9,230.24 1230.1,232.71 1228.9,235.21 1227.6,236.74 1196.2,237.12 1184.9,235.74"/>
<polygon points="1229.9,232.71 1231.2,230.21 1232.4,228.68 1280.7,228.1 1282.2,229.59 1283.7,232.06 1282.2,234.56 1280.7,236.1 1232.4,236.68 1231.2,235.18"/>
<polygon points="1284.5,233.43 1285.5,231.55 1286.5,230.4 1298.7,230.25 1299.7,231.38 1300.7,233.23 1299.7,235.11 1298.7,236.25 1286.5,236.4 1285.5,235.28"/>
<polygon points="1297.4,231.9 1305,229.32 1312.5,227.71 1375.8,226.95 1377.1,228.45 1378.4,230.92 1377.1,233.42 1375.8,234.95 1312.5,235.71 1305,234.29"/>
<polygon points="1379,230.91 1380.2,228.41 1381.5,226.88 1495.1,225.51 1496.4,227.01 1497.6,229.48 1496.4,231.98 1495.1,233.51 1381.5,234.88 1380.2,233.38"/>
<polygon points="1498.9,229.47 1500.2,226.97 1501.4,225.44 1518.2,225.23 1521.3,226.71 1524.5,229.16 1521.3,231.68 1518.2,233.23 1501.4,233.44 1500.2,231.94"/>
<polygon points="1525.3,229.15 1529.1,226.62 1532.9,225.06 1558.6,224.75 1560.2,226.24 1561.7,228.71 1560.2,231.21 1558.6,232.75 1532.9,233.06 1529.1,231.59"/>
<polygon points="1562.8,228.7 1564.3,226.19 1565.8,224.66 1596.8,224.29 1600.6,225.76 1604.4,228.2 1600.6,230.73 1596.8,232.29 1565.8,232.66 1564.3,231.16"/>
<polygon points="1610.2,228.4 1614,225.99 1617.8,224.51 1653.4,224.08 1654.7,225.5 1655.9,227.85 1654.7,230.22 1653.4,231.68 1617.8,232.11 1614,230.71"/>
<polygon points="1657.2,227.56 1658.4,225.06 1659.7,223.53 1703.7,223 1722.6,224.29 1741.5,226.54 1722.6,229.25 1703.7,231 1659.7,231.53 1658.4,230.03"/>
<polygon points="1749.6,226.44 1766,223.76 1782.3,222.05 1811.7,221.7 1811.7,221.7 1811.7,229.7 1811.7,229.7 1782.3,230.05 1766,228.73"/>
<polygon points="979.2,272.24 979.2,272.24 985.5,272.17 1011.9,273.29 1038.3,275.31 1011.9,277.89 985.5,279.57 979.2,279.64 979.2,279.64"/>
<polygon points="1043.6,274.84 1086.3,271.9 1129.1,269.92 1165.8,269.53 1168.9,271.01 1172.1,273.46 1168.9,275.98 1165.8,277.53 1129.1,277.92 1086.3,276.86"/>
<polygon points="1170.6,273.48 1178.1,270.91 1185.7,269.32 1237.1,268.76 1240.8,270.24 1244.6,272.68 1240.8,275.21 1237.1,276.76 1185.7,277.32 1178.1,275.88"/>
<polygon points="1243.8,272.69 1248.8,270.15 1253.8,268.59 1361.8,267.43 1373.1,268.82 1384.4,271.19 1373.1,273.79 1361.8,275.43 1253.8,276.59 1248.8,275.12"/>
<polygon points="1382.1,273.14 1384.8,271.49 1387.4,270.48 1387.9,270.47 1390.6,271.43 1393.3,273.02 1390.6,274.66 1387.9,275.67 1387.4,275.68 1384.8,274.72"/>
<polygon points="1400.2,271.29 1411.5,268.81 1422.8,267.25 1448,266.98 1454.2,268.35 1460.5,270.65 1454.2,273.07 1448,274.58 1422.8,274.85 1411.5,273.53"/>
<polygon points="1462,271.18 1467,269.01 1472.1,267.67 1485.5,267.53 1486.5,268.81 1487.5,270.91 1486.5,273.03 1485.5,274.33 1472.1,274.47 1467,273.24"/>
<polygon points="1488.1,270.9 1489.1,268.78 1490.1,267.48 1508.5,267.28 1509.5,268.56 1510.6,270.66 1509.5,272.78 1508.5,274.08 1490.1,274.28 1489.1,273"/>
<polygon points="1511.2,271.2 1512,269.33 1512.7,268.19 1521.5,268.09 1522.3,269.22 1523.1,271.08 1522.3,272.95 1521.5,274.09 1512.7,274.19 1512,273.06"/>
<polygon points="1523,271.35 1523.6,269.61 1524.3,268.54 1529.1,268.49 1529.7,269.54 1530.3,271.27 1529.7,273.02 1529.1,274.09 1524.3,274.14 1523.6,273.08"/>
<polygon points="1530.3,271.27 1531,269.53 1531.6,268.46 1536.4,268.41 1537.1,269.46 1537.7,271.19 1537.1,272.94 1536.4,274.01 1531.6,274.06 1531,273"/>
<polygon points="1537.9,269.54 1541.7,267.02 1545.4,265.46 1616.7,264.7 1618,266.2 1619.2,268.67 1618,271.17 1616.7,272.7 1545.4,273.46 1541.7,271.99"/>
<polygon points="1619.5,268.94 1620.5,266.57 1621.5,265.12 1629.7,265.03 1630.7,266.46 1631.7,268.81 1630.7,271.18 1629.7,272.63 1621.5,272.72 1620.5,271.29"/>
<polygon points="1632,268.53 1633.3,266.03 1634.5,264.51 1811.7,262.61 1811.7,262.61 1811.7,270.61 1811.7,270.61 1634.5,272.51 1633.3,271"/>
<polygon points="979.2,309.34 979.2,309.34 985.5,309.27 1011.9,310.37 1038.3,312.37 1011.9,314.97 985.5,316.67 979.2,316.74 979.2,316.74"/>
<polygon points="1043.6,311.89 1086.3,308.92 1129.1,306.91 1165.8,306.49 1168.9,307.97 1172.1,310.42 1168.9,312.94 1165.8,314.49 1129.1,314.91 1086.3,313.89"/>
<polygon points="1170.6,310.44 1178.1,307.87 1185.7,306.27 1237.1,305.68 1240.8,307.15 1244.6,309.59 1240.8,312.12 1237.1,313.68 1185.7,314.27 1178.1,312.84"/>
<polygon points="1243.8,309.6 1248.8,307.06 1253.8,305.49 1361.8,304.25 1373.1,305.64 1384.4,307.99 1373.1,310.61 1361.8,312.25 1253.8,313.49 1248.8,312.03"/>
<polygon points="1382.1,309.94 1384.8,308.3 1387.4,307.28 1387.9,307.28 1390.6,308.23 1393.3,309.82 1390.6,311.46 1387.9,312.48 1387.4,312.48 1384.8,311.53"/>
<polygon points="1400.2,308.09 1411.5,305.6 1422.8,304.03 1448,303.74 1454.2,305.11 1460.5,307.4 1454.2,309.83 1448,311.34 1422.8,311.63 1411.5,310.32"/>
<polygon points="1462,307.93 1467,305.76 1472.1,304.41 1485.5,304.26 1486.5,305.54 1487.5,307.64 1486.5,309.76 1485.5,311.06 1472.1,311.21 1467,309.98"/>
<polygon points="1488.1,307.63 1489.1,305.51 1490.1,304.21 1508.5,304 1509.5,305.27 1510.6,307.37 1509.5,309.5 1508.5,310.8 1490.1,311.01 1489.1,309.73"/>
<polygon points="1511.2,307.92 1512,306.04 1512.7,304.9 1521.5,304.8 1522.3,305.93 1523.1,307.78 1522.3,309.65 1521.5,310.8 1512.7,310.9 1512,309.77"/>
<polygon points="1523,308.06 1523.6,306.31 1524.3,305.24 1529.1,305.19 1529.7,306.24 1530.3,307.97 1529.7,309.72 1529.1,310.79 1524.3,310.84 1523.6,309.79"/>
<polygon points="1530.3,307.97 1531,306.23 1531.6,305.16 1536.4,305.1 1537.1,306.16 1537.7,307.89 1537.1,309.63 1536.4,310.7 1531.6,310.76 1531,309.7"/>
<polygon points="1537.9,306.23 1541.7,303.71 1545.4,302.15 1616.7,301.33 1618,302.83 1619.2,305.3 1618,307.8 1616.7,309.33 1545.4,310.15 1541.7,308.68"/>
<polygon points="1619.5,305.58 1620.5,303.2 1621.5,301.75 1629.7,301.66 1630.7,303.09 1631.7,305.44 1630.7,307.81 1629.7,309.26 1621.5,309.35 1620.5,307.92"/>
<polygon points="1632,305.16 1633.3,302.66 1634.5,301.13 1811.7,299.1 1811.7,299.1 1811.7,307.1 1811.7,307.1 1634.5,309.13 1633.3,307.63"/>
<polygon points="979.2,357.73 979.2,357.73 1121.8,356.22 1138.1,357.56 1154.5,359.87 1138.1,362.53 1121.8,364.22 979.2,365.73 979.2,365.73"/>
<polygon points="1151.9,359.9 1168.3,357.24 1184.6,355.55 1197.6,355.41 1198.4,356.92 1199.2,359.4 1198.4,361.89 1197.6,363.41 1184.6,363.55 1168.3,362.21"/>
<polygon points="1199.5,359.39 1200.2,356.9 1201,355.38 1291.6,354.42 1299.1,355.85 1306.7,358.26 1299.1,360.82 1291.6,362.42 1201,363.38 1200.2,361.87"/>
<polygon points="1306.4,358.54 1315.3,356.08 1324.1,354.55 1332.4,354.46 1341.2,355.81 1350.1,358.07 1341.2,360.53 1332.4,362.06 1324.1,362.15 1315.3,360.8"/>
<polygon points="1353.4,359.14 1359.7,357.21 1366,356.01 1370.2,355.96 1376.5,357.03 1382.8,358.83 1376.5,360.76 1370.2,361.96 1366,362.01 1359.7,360.93"/>
<polygon points="1381.5,357.74 1391.6,355.27 1401.6,353.73 1411.1,353.63 1421.1,354.96 1431.2,357.21 1421.1,359.68 1411.1,361.23 1401.6,361.33 1391.6,359.99"/>
<polygon points="1427.8,357.8 1434.1,355.62 1440.4,354.27 1446.7,354.2 1453,355.42 1459.3,357.47 1453,359.65 1446.7,361 1440.4,361.07 1434.1,359.84"/>
<polygon points="1456.1,356.68 1472.5,354.02 1488.8,352.33 1562,351.55 1562.8,353.06 1563.5,355.54 1562.8,358.03 1562,359.55 1488.8,360.33 1472.5,358.99"/>
<polygon points="1564.1,356.63 1564.8,354.64 1565.6,353.42 1570.6,353.36 1579.4,354.48 1588.2,356.38 1579.4,358.46 1570.6,359.76 1565.6,359.82 1564.8,358.61"/>
<polygon points="1621.8,355.75 1625.5,353.59 1629.3,352.27 1641.9,352.13 1648.2,353.35 1654.5,355.4 1648.2,357.58 1641.9,358.93 1629.3,359.07 1625.5,357.82"/>
<polygon points="1654.5,354.57 1673.3,351.89 1692.2,350.17 1811.7,348.91 1811.7,348.91 1811.7,356.91 1811.7,356.91 1692.2,358.17 1673.3,356.86"/>
<polygon points="979.2,394.33 979.2,394.33 1121.8,392.82 1138.1,394.16 1154.5,396.47 1138.1,399.13 1121.8,400.82 979.2,402.33 979.2,402.33"/>
<polygon points="1151.9,396.5 1168.3,393.84 1184.6,392.15 1197.6,392.01 1198.4,393.52 1199.2,396 1198.4,398.49 1197.6,400.01 1184.6,400.15 1168.3,398.81"/>
<polygon points="1199.5,395.99 1200.2,393.5 1201,391.98 1291.6,391.02 1299.1,392.45 1306.7,394.86 1299.1,397.42 1291.6,399.02 1201,399.98 1200.2,398.47"/>
<polygon points="1306.4,395.14 1315.3,392.68 1324.1,391.15 1332.4,391.06 1341.2,392.41 1350.1,394.67 1341.2,397.13 1332.4,398.66 1324.1,398.75 1315.3,397.4"/>
<polygon points="1353.4,395.74 1359.7,393.81 1366,392.61 1370.2,392.56 1376.5,393.63 1382.8,395.43 1376.5,397.36 1370.2,398.56 1366,398.61 1359.7,397.53"/>
<polygon points="1381.5,394.34 1391.6,391.87 1401.6,390.33 1411.1,390.23 1421.1,391.56 1431.2,393.81 1421.1,396.28 1411.1,397.83 1401.6,397.93 1391.6,396.59"/>
<polygon points="1427.8,394.4 1434.1,392.22 1440.4,390.87 1446.7,390.8 1453,392.02 1459.3,394.07 1453,396.25 1446.7,397.6 1440.4,397.67 1434.1,396.44"/>
<polygon points="1456.1,393.28 1472.5,390.62 1488.8,388.93 1562,388.15 1562.8,389.66 1563.5,392.14 1562.8,394.63 1562,396.15 1488.8,396.93 1472.5,395.59"/>
<polygon points="1564.1,393.23 1564.8,391.24 1565.6,390.02 1570.6,389.96 1579.4,391.08 1588.2,392.98 1579.4,395.06 1570.6,396.36 1565.6,396.42 1564.8,395.21"/>
<polygon points="1621.8,392.35 1625.5,390.19 1629.3,388.87 1641.9,388.73 1648.2,389.95 1654.5,392 1648.2,394.18 1641.9,395.53 1629.3,395.67 1625.5,394.42"/>
<polygon points="1654.5,391.17 1673.3,388.49 1692.2,386.77 1811.7,385.51 1811.7,385.51 1811.7,393.51 1811.7,393.51 1692.2,394.77 1673.3,393.46"/>
<polygon points="966.8,454.35 966.8,454.35 1009,453.92 1011.4,455.41 1013.8,457.87 1011.4,460.38 1009,461.92 966.8,462.35 966.8,462.35"/>
<polygon points="1009.6,457.92 1012,455.41 1014.4,453.87 1031,453.7 1033.4,455.19 1035.8,457.65 1033.4,460.16 1031,461.7 1014.4,461.87 1012,460.38"/>
<polygon points="1031.6,457.69 1034,455.18 1036.4,453.64 1043.6,453.57 1046,455.06 1048.4,457.52 1046,460.03 1043.6,461.57 1036.4,461.64 1034,460.15"/>
<polygon points="1044.2,457.56 1046.6,455.05 1049,453.51 1081.3,453.18 1083.7,454.67 1086.1,457.13 1083.7,459.64 1081.3,461.18 1049,461.51 1046.6,460.02"/>
<polygon points="1081.9,457.18 1084.3,454.67 1086.7,453.13 1112.8,452.86 1115.2,454.35 1117.6,456.81 1115.2,459.32 1112.8,460.86 1086.7,461.13 1084.3,459.64"/>
<polygon points="1113.4,456.85 1115.8,454.35 1118.1,452.81 1146.3,452.52 1148.7,454.01 1151.1,456.47 1148.7,458.98 1146.3,460.52 1118.1,460.81 1115.8,459.31"/>
<polygon points="1146.9,456.51 1149.3,454 1151.7,452.46 1188.2,452.09 1190.6,453.58 1193,456.04 1190.6,458.55 1188.2,460.09 1151.7,460.46 1149.3,458.97"/>
<polygon points="1188.8,456.08 1191.2,453.57 1193.6,452.03 1230.2,451.66 1232.6,453.15 1235,455.61 1232.6,458.12 1230.2,459.66 1193.6,460.03 1191.2,458.54"/>
<polygon points="1230.8,455.65 1233.2,453.14 1235.5,451.6 1299.4,450.95 1301.8,452.44 1304.1,454.9 1301.8,457.41 1299.4,458.95 1235.5,459.6 1233.2,458.11"/>
<polygon points="1299.9,454.95 1302.3,452.44 1304.7,450.9 1338.1,450.56 1340.5,452.05 1342.9,454.51 1340.5,457.02 1338.1,458.56 1304.7,458.9 1302.3,457.41"/>
<polygon points="1339.2,454.54 1340.1,452.05 1340.9,450.53 1341.8,452.03 1342.6,454.51 1341.8,457 1340.9,458.53 1340.1,457.02"/>
<polygon points="1338.9,454.55 1341.3,452.04 1343.7,450.5 1564.8,448.24 1567.2,449.73 1569.5,452.19 1567.2,454.7 1564.8,456.24 1343.7,458.5 1341.3,457.01"/>
<polygon points="1565.4,452.23 1567.7,449.72 1570.1,448.18 1818,445.65 1818,445.65 1818,453.65 1818,453.65 1570.1,456.18 1567.7,454.69"/>
<polygon points="966.8,490.75 966.8,490.75 1009,490.33 1011.4,491.83 1013.8,494.29 1011.4,496.8 1009,498.33 966.8,498.75 966.8,498.75"/>
<polygon points="1009.6,494.33 1012,491.82 1014.4,490.28 1031,490.12 1033.4,491.61 1035.8,494.07 1033.4,496.58 1031,498.12 1014.4,498.28 1012,496.79"/>
<polygon points="1031.6,494.11 1034,491.61 1036.4,490.07 1043.6,490 1046,491.49 1048.4,493.95 1046,496.46 1043.6,498 1036.4,498.07 1034,496.58"/>
<polygon points="1044.2,493.99 1046.6,491.48 1049,489.95 1081.3,489.63 1083.7,491.12 1086.1,493.58 1083.7,496.09 1081.3,497.63 1049,497.95 1046.6,496.45"/>
<polygon points="1081.9,493.62 1084.3,491.12 1086.7,489.58 1112.8,489.32 1115.2,490.82 1117.6,493.28 1115.2,495.79 1112.8,497.32 1086.7,497.58 1084.3,496.09"/>
<polygon points="1113.4,493.32 1115.8,490.81 1118.1,489.27 1146.3,489 1148.7,490.49 1151.1,492.95 1148.7,495.46 1146.3,497 1118.1,497.27 1115.8,495.78"/>
<polygon points="1146.9,492.99 1149.3,490.48 1151.7,488.95 1188.2,488.59 1190.6,490.08 1193,492.54 1190.6,495.05 1188.2,496.59 1151.7,496.95 1149.3,495.45"/>
<polygon points="1188.8,492.58 1191.2,490.08 1193.6,488.54 1230.2,488.18 1232.6,489.67 1235,492.13 1232.6,494.64 1230.2,496.18 1193.6,496.54 1191.2,495.04"/>
<polygon points="1230.8,492.17 1233.2,489.67 1235.5,488.13 1299.4,487.51 1301.8,489 1304.1,491.46 1301.8,493.97 1299.4,495.51 1235.5,496.13 1233.2,494.64"/>
<polygon points="1299.9,491.5 1302.3,488.99 1304.7,487.45 1338.1,487.13 1340.5,488.62 1342.9,491.08 1340.5,493.59 1338.1,495.13 1304.7,495.45 1302.3,493.96"/>
<polygon points="1339.2,491.12 1340.1,488.63 1340.9,487.1 1341.8,488.61 1342.6,491.09 1341.8,493.58 1340.9,495.1 1340.1,493.59"/>
<polygon points="1338.9,491.12 1341.3,488.61 1343.7,487.07 1564.8,484.92 1567.2,486.41 1569.5,488.87 1567.2,491.38 1564.8,492.92 1343.7,495.07 1341.3,493.58"/>
<polygon points="1565.4,488.92 1567.7,486.41 1570.1,484.87 1818,482.45 1818,482.45 1818,490.45 1818,490.45 1570.1,492.87 1567.7,491.38"/>
<polygon points="966.8,563.24 966.8,563.24 1818,555.36 1818,555.36 1818,563.36 1818,563.36 966.8,571.24 966.8,571.24"/>
<polygon points="966.8,600.44 966.8,600.44 1818,592.56 1818,592.56 1818,600.56 1818,600.56 966.8,608.44 966.8,608.44"/>
<polygon points="966.8,688.72 966.8,688.72 1818,682.08 1818,682.08 1818,690.08 1818,690.08 966.8,696.72 966.8,696.72"/>
<polygon points="1202.4,690.88 1219.2,688.27 1236.1,686.62 1259.2,686.44 1267.6,687.89 1276,690.31 1267.6,692.86 1259.2,694.44 1236.1,694.62 1219.2,693.23"/>
<polygon points="1265.1,690.39 1278.3,687.81 1291.5,686.19 1315.1,686 1340.2,687.32 1365.4,689.61 1340.2,692.29 1315.1,694 1291.5,694.19 1278.3,692.77"/>
<polygon points="966.8,726.22 966.8,726.22 1818,719.18 1818,719.18 1818,727.18 1818,727.18 966.8,734.22 966.8,734.22"/>
<polygon points="1202.4,728.27 1219.2,725.65 1236.1,723.99 1259.2,723.8 1267.6,725.25 1276,727.66 1267.6,730.22 1259.2,731.8 1236.1,731.99 1219.2,730.62"/>
<polygon points="1265.1,727.75 1278.3,725.16 1291.5,723.54 1315.1,723.34 1340.2,724.65 1365.4,726.92 1340.2,729.62 1315.1,731.34 1291.5,731.54 1278.3,730.13"/>
</g>
<polygon points="979.2,202.9 979.2,202.9 983.4,202.85 990,203.28 994.9,203.82 999.8,204.48 994.9,205.26 990,205.93 983.4,206.52 979.2,206.57 979.2,206.57"/>
<polygon points="1012.1,204.34 1013.8,204.02 1015.5,203.76 1017.7,203.52 1018.2,203.52 1020.5,203.7 1022.1,203.92 1023.8,204.2 1022.1,204.51 1020.5,204.78 1018.2,205.01 1017.7,205.02 1015.5,204.84 1013.8,204.61"/>
<polygon points="1024.4,204.19 1026.9,203.41 1029.4,202.75 1032.7,202.18 1044.2,202.04 1046.5,202.55 1048.3,203.16 1050.1,203.89 1048.3,204.66 1046.5,205.31 1044.2,205.87 1032.7,206 1029.4,205.51 1026.9,204.91"/>
<polygon points="1051.1,203.87 1052.3,203.25 1053.6,202.73 1055.2,202.29 1055.4,202.28 1057.1,202.69 1058.4,203.18 1059.7,203.77 1058.4,204.39 1057.1,204.91 1055.4,205.36 1055.2,205.36 1053.6,204.95 1052.3,204.46"/>
<polygon points="1058.2,203.79 1058.9,203.12 1059.6,202.55 1060.5,202.08 1073.5,201.92 1076.4,202.35 1078.5,202.88 1080.6,203.52 1078.5,204.21 1076.4,204.79 1073.5,205.29 1060.5,205.44 1059.6,204.99 1058.9,204.44"/>
<polygon points="1085.4,203.46 1087.4,202.89 1089.4,202.41 1092.1,201.99 1092.7,201.98 1095.4,202.34 1097.4,202.77 1099.4,203.3 1097.4,203.87 1095.4,204.35 1092.7,204.77 1092.1,204.78 1089.4,204.42 1087.4,203.99"/>
<polygon points="1099,203.3 1104,202.4 1108.9,201.63 1115.5,200.96 1168.9,200.32 1170.8,200.89 1172.2,201.58 1173.6,202.41 1172.2,203.27 1170.8,204 1168.9,204.62 1115.5,205.25 1108.9,204.74 1104,204.09"/>
<polygon points="1175,202.39 1181.4,201.47 1187.7,200.69 1196.2,199.99 1227.6,199.62 1228.6,200.2 1229.3,200.9 1230,201.74 1229.3,202.59 1228.6,203.31 1227.6,203.92 1196.2,204.29 1187.7,203.8 1181.4,203.16"/>
<polygon points="1230.1,201.74 1230.8,200.88 1231.5,200.17 1232.4,199.56 1280.7,198.99 1281.8,199.57 1282.6,200.27 1283.5,201.1 1282.6,201.95 1281.8,202.67 1280.7,203.28 1232.4,203.86 1231.5,203.27 1230.8,202.57"/>
<polygon points="1284.7,201.09 1285.2,200.56 1285.8,200.11 1286.5,199.74 1298.7,199.59 1299.4,199.95 1300,200.38 1300.6,200.9 1300,201.42 1299.4,201.87 1298.7,202.24 1286.5,202.39 1285.8,202.03 1285.2,201.6"/>
<polygon points="1298.4,200.92 1302.7,200.03 1306.9,199.27 1312.5,198.61 1375.8,197.85 1376.8,198.43 1377.5,199.13 1378.2,199.97 1377.5,200.82 1376.8,201.54 1375.8,202.15 1312.5,202.9 1306.9,202.37 1302.7,201.72"/>
<polygon points="1379.2,199.96 1379.9,199.11 1380.6,198.39 1381.5,197.78 1495.1,196.43 1496.1,197.01 1496.8,197.71 1497.5,198.55 1496.8,199.4 1496.1,200.12 1495.1,200.72 1381.5,202.08 1380.6,201.49 1379.9,200.79"/>
<polygon points="1499.1,198.53 1499.8,197.67 1500.5,196.96 1501.4,196.35 1518.2,196.15 1520.5,196.72 1522.3,197.41 1524.1,198.23 1522.3,199.09 1520.5,199.82 1518.2,200.45 1501.4,200.65 1500.5,200.06 1499.8,199.36"/>
<polygon points="1525.8,198.21 1527.9,197.34 1530,196.61 1532.9,195.98 1558.6,195.67 1559.8,196.25 1560.6,196.95 1561.5,197.78 1560.6,198.64 1559.8,199.36 1558.6,199.96 1532.9,200.27 1530,199.71 1527.9,199.03"/>
<polygon points="1563,197.77 1563.8,196.91 1564.6,196.19 1565.8,195.58 1596.8,195.21 1599.6,195.77 1601.7,196.46 1603.8,197.28 1601.7,198.15 1599.6,198.88 1596.8,199.51 1565.8,199.88 1564.6,199.3 1563.8,198.6"/>
<polygon points="1605.2,197.26 1606,197.1 1606.8,196.96 1607.8,196.83 1608.8,196.93 1609.6,197.05 1610.4,197.2 1609.6,197.36 1608.8,197.5 1607.8,197.62 1606.8,197.53 1606,197.41"/>
<polygon points="1610.7,197.2 1612.8,196.39 1614.9,195.71 1617.8,195.12 1653.4,194.7 1654.3,195.24 1655.1,195.88 1655.8,196.66 1655.1,197.45 1654.3,198.11 1653.4,198.67 1617.8,199.1 1614.9,198.58 1612.8,197.95"/>
<polygon points="1657.3,196.64 1658.1,195.79 1658.8,195.07 1659.7,194.46 1703.7,193.94 1717.8,194.36 1728.4,194.95 1738.9,195.67 1728.4,196.64 1717.8,197.47 1703.7,198.23 1659.7,198.76 1658.8,198.17 1658.1,197.47"/>
<polygon points="1751.8,195.51 1761,194.56 1770.1,193.74 1782.3,193 1811.7,192.65 1811.7,192.65 1811.7,196.95 1811.7,196.95 1782.3,197.3 1770.1,196.85 1761,196.25"/>
<polygon points="979.2,239.4 979.2,239.4 983.4,239.35 990,239.78 994.9,240.32 999.8,240.98 994.9,241.76 990,242.43 983.4,243.02 979.2,243.07 979.2,243.07"/>
<polygon points="1012.1,240.83 1013.8,240.52 1015.5,240.25 1017.7,240.02 1018.2,240.01 1020.5,240.19 1022.1,240.42 1023.8,240.69 1022.1,241.01 1020.5,241.28 1018.2,241.51 1017.7,241.52 1015.5,241.34 1013.8,241.11"/>
<polygon points="1024.4,240.69 1026.9,239.91 1029.4,239.25 1032.7,238.68 1044.2,238.54 1046.5,239.04 1048.3,239.65 1050.1,240.38 1048.3,241.15 1046.5,241.8 1044.2,242.36 1032.7,242.5 1029.4,242.01 1026.9,241.41"/>
<polygon points="1051.1,240.36 1052.3,239.75 1053.6,239.22 1055.2,238.78 1055.4,238.78 1057.1,239.18 1058.4,239.67 1059.7,240.26 1058.4,240.88 1057.1,241.4 1055.4,241.85 1055.2,241.85 1053.6,241.45 1052.3,240.95"/>
<polygon points="1058.2,240.28 1058.9,239.61 1059.6,239.05 1060.5,238.57 1073.5,238.41 1076.4,238.84 1078.5,239.37 1080.6,240.01 1078.5,240.7 1076.4,241.28 1073.5,241.78 1060.5,241.93 1059.6,241.48 1058.9,240.93"/>
<polygon points="1085.4,239.95 1087.4,239.38 1089.4,238.89 1092.1,238.48 1092.7,238.47 1095.4,238.82 1097.4,239.26 1099.4,239.78 1097.4,240.35 1095.4,240.84 1092.7,241.26 1092.1,241.27 1089.4,240.91 1087.4,240.48"/>
<polygon points="1099,239.79 1104,238.88 1108.9,238.12 1115.5,237.44 1168.9,236.8 1170.8,237.37 1172.2,238.06 1173.6,238.89 1172.2,239.75 1170.8,240.47 1168.9,241.09 1115.5,241.74 1108.9,241.22 1104,240.57"/>
<polygon points="1175,238.87 1181.4,237.95 1187.7,237.16 1196.2,236.47 1227.6,236.09 1228.6,236.67 1229.3,237.37 1230,238.21 1229.3,239.06 1228.6,239.78 1227.6,240.39 1196.2,240.76 1187.7,240.27 1181.4,239.64"/>
<polygon points="1230.1,238.21 1230.8,237.35 1231.5,236.64 1232.4,236.03 1280.7,235.45 1281.8,236.03 1282.6,236.73 1283.5,237.56 1282.6,238.42 1281.8,239.14 1280.7,239.75 1232.4,240.33 1231.5,239.74 1230.8,239.04"/>
<polygon points="1284.7,237.55 1285.2,237.02 1285.8,236.58 1286.5,236.2 1298.7,236.05 1299.4,236.41 1300,236.84 1300.6,237.36 1300,237.89 1299.4,238.33 1298.7,238.71 1286.5,238.85 1285.8,238.49 1285.2,238.06"/>
<polygon points="1298.4,237.38 1302.7,236.49 1306.9,235.73 1312.5,235.06 1375.8,234.3 1376.8,234.89 1377.5,235.59 1378.2,236.42 1377.5,237.27 1376.8,237.99 1375.8,238.6 1312.5,239.36 1306.9,238.83 1302.7,238.18"/>
<polygon points="1379.2,236.41 1379.9,235.56 1380.6,234.84 1381.5,234.23 1495.1,232.86 1496.1,233.45 1496.8,234.15 1497.5,234.98 1496.8,235.84 1496.1,236.55 1495.1,237.16 1381.5,238.53 1380.6,237.95 1379.9,237.25"/>
<polygon points="1499.1,234.96 1499.8,234.11 1500.5,233.39 1501.4,232.79 1518.2,232.59 1520.5,233.15 1522.3,233.84 1524.1,234.66 1522.3,235.53 1520.5,236.26 1518.2,236.88 1501.4,237.08 1500.5,236.5 1499.8,235.8"/>
<polygon points="1525.8,234.64 1527.9,233.77 1530,233.04 1532.9,232.41 1558.6,232.1 1559.8,232.68 1560.6,233.38 1561.5,234.21 1560.6,235.07 1559.8,235.79 1558.6,236.39 1532.9,236.71 1530,236.14 1527.9,235.46"/>
<polygon points="1563,234.19 1563.8,233.34 1564.6,232.62 1565.8,232.01 1596.8,231.64 1599.6,232.2 1601.7,232.88 1603.8,233.7 1601.7,234.57 1599.6,235.31 1596.8,235.93 1565.8,236.31 1564.6,235.73 1563.8,235.03"/>
<polygon points="1605.2,233.68 1606,233.52 1606.8,233.38 1607.8,233.26 1608.8,233.36 1609.6,233.48 1610.4,233.62 1609.6,233.79 1608.8,233.93 1607.8,234.05 1606.8,233.95 1606,233.83"/>
<polygon points="1610.7,233.62 1612.8,232.81 1614.9,232.13 1617.8,231.54 1653.4,231.11 1654.3,231.65 1655.1,232.3 1655.8,233.08 1655.1,233.87 1654.3,234.53 1653.4,235.09 1617.8,235.52 1614.9,235.01 1612.8,234.37"/>
<polygon points="1657.3,233.06 1658.1,232.2 1658.8,231.49 1659.7,230.88 1703.7,230.35 1717.8,230.77 1728.4,231.36 1738.9,232.07 1728.4,233.04 1717.8,233.88 1703.7,234.65 1659.7,235.18 1658.8,234.59 1658.1,233.89"/>
<polygon points="1751.8,231.92 1761,230.96 1770.1,230.14 1782.3,229.4 1811.7,229.05 1811.7,229.05 1811.7,233.34 1811.7,233.34 1782.3,233.7 1770.1,233.25 1761,232.65"/>
<polygon points="979.2,279.12 979.2,279.12 985.5,279.05 1005.2,279.37 1020,279.84 1034.8,280.43 1020,281.34 1005.2,282.13 985.5,282.87 979.2,282.94 979.2,282.94"/>
<polygon points="1049.3,280.28 1073.2,279.18 1097.2,278.21 1129.1,277.27 1165.8,276.88 1168.1,277.45 1169.9,278.14 1171.6,278.97 1169.9,279.83 1168.1,280.56 1165.8,281.18 1129.1,281.57 1097.2,281.32 1073.2,280.87"/>
<polygon points="1171.6,278.97 1175.8,278.08 1180.1,277.32 1185.7,276.67 1237.1,276.12 1239.9,276.68 1242,277.37 1244.1,278.19 1242,279.06 1239.9,279.79 1237.1,280.41 1185.7,280.96 1180.1,280.43 1175.8,279.77"/>
<polygon points="1244.4,278.19 1247.3,277.31 1250.1,276.57 1253.8,275.94 1361.8,274.78 1370.2,275.28 1376.6,275.93 1382.9,276.7 1376.6,277.61 1370.2,278.39 1361.8,279.08 1253.8,280.23 1250.1,279.68 1247.3,279"/>
<polygon points="1382.4,276.71 1383.9,276.29 1385.4,275.94 1387.4,275.64 1387.9,275.64 1389.9,275.89 1391.4,276.21 1392.9,276.59 1391.4,277.01 1389.9,277.36 1387.9,277.66 1387.4,277.67 1385.4,277.41 1383.9,277.09"/>
<polygon points="1395.1,276.57 1396.3,276.24 1397.5,275.97 1399,275.73 1399.2,275.73 1400.9,275.93 1402.1,276.18 1403.3,276.48 1402.1,276.81 1400.9,277.09 1399.2,277.33 1399,277.33 1397.5,277.12 1396.3,276.87"/>
<polygon points="1401.7,276.5 1408,275.65 1414.3,274.93 1422.8,274.29 1448,274.02 1452.7,274.52 1456.2,275.13 1459.7,275.88 1456.2,276.7 1452.7,277.39 1448,277.99 1422.8,278.26 1414.3,277.8 1408,277.21"/>
<polygon points="1462.7,275.85 1465.5,275.16 1468.3,274.57 1472.1,274.06 1485.5,273.92 1486.2,274.38 1486.8,274.93 1487.4,275.58 1486.8,276.25 1486.2,276.81 1485.5,277.29 1472.1,277.43 1468.3,277 1465.5,276.48"/>
<polygon points="1488.2,275.57 1488.8,274.91 1489.3,274.34 1490.1,273.87 1508.5,273.67 1509.3,274.13 1509.9,274.68 1510.4,275.34 1509.9,276 1509.3,276.56 1508.5,277.04 1490.1,277.24 1489.3,276.78 1488.8,276.23"/>
<polygon points="1511.3,275.33 1511.7,274.77 1512.2,274.31 1512.7,273.92 1521.5,273.82 1522.1,274.2 1522.5,274.66 1522.9,275.2 1522.5,275.75 1522.1,276.22 1521.5,276.61 1512.7,276.71 1512.2,276.33 1511.7,275.87"/>
<polygon points="1523.1,275.2 1523.4,274.75 1523.8,274.37 1524.3,274.05 1529.1,274 1529.6,274.31 1529.9,274.68 1530.3,275.12 1529.9,275.57 1529.6,275.95 1529.1,276.27 1524.3,276.32 1523.8,276.01 1523.4,275.64"/>
<polygon points="1530.4,275.12 1530.8,274.67 1531.1,274.3 1531.6,273.98 1536.4,273.92 1536.9,274.23 1537.2,274.6 1537.6,275.04 1537.2,275.49 1536.9,275.87 1536.4,276.19 1531.6,276.24 1531.1,275.93 1530.8,275.56"/>
<polygon points="1538.4,275.04 1540.5,274.17 1542.6,273.44 1545.4,272.81 1616.7,272.05 1617.7,272.63 1618.4,273.33 1619.1,274.17 1618.4,275.02 1617.7,275.74 1616.7,276.35 1545.4,277.11 1542.6,276.54 1540.5,275.86"/>
<polygon points="1619.7,274.17 1620.2,273.38 1620.8,272.72 1621.5,272.16 1629.7,272.07 1630.5,272.61 1631,273.26 1631.6,274.04 1631,274.83 1630.5,275.49 1629.7,276.05 1621.5,276.13 1620.8,275.59 1620.2,274.94"/>
<polygon points="1632.2,274.03 1632.9,273.18 1633.6,272.46 1634.5,271.86 1811.7,269.96 1811.7,269.96 1811.7,274.26 1811.7,274.26 1634.5,276.15 1633.6,275.57 1632.9,274.87"/>
<polygon points="979.2,316.22 979.2,316.22 985.5,316.15 1005.2,316.45 1020,316.91 1034.8,317.49 1020,318.41 1005.2,319.21 985.5,319.97 979.2,320.04 979.2,320.04"/>
<polygon points="1049.3,317.33 1073.2,316.21 1097.2,315.23 1129.1,314.27 1165.8,313.85 1168.1,314.41 1169.9,315.1 1171.6,315.93 1169.9,316.79 1168.1,317.52 1165.8,318.14 1129.1,318.56 1097.2,318.33 1073.2,317.9"/>
<polygon points="1171.6,315.93 1175.8,315.03 1180.1,314.28 1185.7,313.62 1237.1,313.03 1239.9,313.59 1242,314.28 1244.1,315.1 1242,315.97 1239.9,316.7 1237.1,317.33 1185.7,317.91 1180.1,317.38 1175.8,316.72"/>
<polygon points="1244.4,315.09 1247.3,314.22 1250.1,313.48 1253.8,312.84 1361.8,311.6 1370.2,312.1 1376.6,312.74 1382.9,313.51 1376.6,314.43 1370.2,315.21 1361.8,315.9 1253.8,317.13 1250.1,316.58 1247.3,315.91"/>
<polygon points="1382.4,313.51 1383.9,313.1 1385.4,312.75 1387.4,312.44 1387.9,312.44 1389.9,312.7 1391.4,313.01 1392.9,313.39 1391.4,313.81 1389.9,314.16 1387.9,314.46 1387.4,314.47 1385.4,314.21 1383.9,313.9"/>
<polygon points="1395.1,313.37 1396.3,313.04 1397.5,312.76 1399,312.53 1399.2,312.52 1400.9,312.73 1402.1,312.98 1403.3,313.28 1402.1,313.6 1400.9,313.88 1399.2,314.12 1399,314.12 1397.5,313.92 1396.3,313.67"/>
<polygon points="1401.7,313.29 1408,312.44 1414.3,311.71 1422.8,311.06 1448,310.78 1452.7,311.27 1456.2,311.89 1459.7,312.63 1456.2,313.45 1452.7,314.15 1448,314.75 1422.8,315.04 1414.3,314.59 1408,314"/>
<polygon points="1462.7,312.6 1465.5,311.9 1468.3,311.31 1472.1,310.8 1485.5,310.65 1486.2,311.11 1486.8,311.66 1487.4,312.31 1486.8,312.98 1486.2,313.54 1485.5,314.02 1472.1,314.17 1468.3,313.75 1465.5,313.23"/>
<polygon points="1488.2,312.3 1488.8,311.64 1489.3,311.07 1490.1,310.6 1508.5,310.39 1509.3,310.85 1509.9,311.39 1510.4,312.05 1509.9,312.72 1509.3,313.28 1508.5,313.75 1490.1,313.97 1489.3,313.51 1488.8,312.96"/>
<polygon points="1511.3,312.04 1511.7,311.49 1512.2,311.02 1512.7,310.63 1521.5,310.53 1522.1,310.91 1522.5,311.36 1522.9,311.91 1522.5,312.46 1522.1,312.92 1521.5,313.32 1512.7,313.42 1512.2,313.04 1511.7,312.58"/>
<polygon points="1523.1,311.9 1523.4,311.46 1523.8,311.08 1524.3,310.76 1529.1,310.7 1529.6,311.01 1529.9,311.38 1530.3,311.82 1529.9,312.27 1529.6,312.65 1529.1,312.97 1524.3,313.02 1523.8,312.71 1523.4,312.35"/>
<polygon points="1530.4,311.82 1530.8,311.37 1531.1,310.99 1531.6,310.67 1536.4,310.62 1536.9,310.93 1537.2,311.3 1537.6,311.74 1537.2,312.19 1536.9,312.56 1536.4,312.88 1531.6,312.94 1531.1,312.63 1530.8,312.26"/>
<polygon points="1538.4,311.73 1540.5,310.86 1542.6,310.13 1545.4,309.5 1616.7,308.68 1617.7,309.27 1618.4,309.97 1619.1,310.81 1618.4,311.66 1617.7,312.37 1616.7,312.98 1545.4,313.8 1542.6,313.23 1540.5,312.55"/>
<polygon points="1619.7,310.8 1620.2,310.01 1620.8,309.35 1621.5,308.79 1629.7,308.69 1630.5,309.24 1631,309.89 1631.6,310.66 1631,311.45 1630.5,312.11 1629.7,312.67 1621.5,312.77 1620.8,312.22 1620.2,311.57"/>
<polygon points="1632.2,310.66 1632.9,309.8 1633.6,309.09 1634.5,308.48 1811.7,306.45 1811.7,306.45 1811.7,310.75 1811.7,310.75 1634.5,312.78 1633.6,312.19 1632.9,311.49"/>
<polygon points="979.2,365.08 979.2,365.08 1121.8,363.57 1134,364.04 1143.1,364.65 1152.3,365.39 1143.1,366.34 1134,367.14 1121.8,367.87 979.2,369.38 979.2,369.38"/>
<polygon points="1154.1,365.37 1163.3,364.43 1172.4,363.63 1184.6,362.9 1197.6,362.77 1198.2,363.35 1198.6,364.06 1199.1,364.9 1198.6,365.75 1198.2,366.46 1197.6,367.06 1184.6,367.2 1172.4,366.73 1163.3,366.12"/>
<polygon points="1199.6,364.89 1200,364.04 1200.4,363.33 1201,362.73 1291.6,361.77 1297.2,362.31 1301.4,362.97 1305.6,363.77 1301.4,364.66 1297.2,365.41 1291.6,366.07 1201,367.03 1200.4,366.44 1200,365.73"/>
<polygon points="1307.6,363.75 1312.6,362.91 1317.5,362.21 1324.1,361.58 1332.4,361.5 1339,361.98 1343.9,362.58 1348.9,363.31 1343.9,364.15 1339,364.85 1332.4,365.47 1324.1,365.56 1317.5,365.08 1312.6,364.48"/>
<polygon points="1354.2,363.25 1357.8,362.67 1361.3,362.17 1366,361.73 1370.2,361.69 1374.9,362.03 1378.4,362.45 1381.9,362.96 1378.4,363.55 1374.9,364.04 1370.2,364.48 1366,364.53 1361.3,364.19 1357.8,363.77"/>
<polygon points="1382.8,362.95 1388.5,362.11 1394.1,361.39 1401.6,360.76 1411.1,360.66 1418.6,361.14 1424.2,361.73 1429.8,362.45 1424.2,363.3 1418.6,364.01 1411.1,364.64 1401.6,364.74 1394.1,364.27 1388.5,363.67"/>
<polygon points="1428.7,362.47 1432.2,361.77 1435.7,361.17 1440.4,360.66 1446.7,360.59 1451.4,361.01 1454.9,361.53 1458.4,362.15 1454.9,362.85 1451.4,363.44 1446.7,363.96 1440.4,364.03 1435.7,363.61 1432.2,363.09"/>
<polygon points="1458.3,362.15 1467.5,361.21 1476.6,360.41 1488.8,359.68 1562,358.91 1562.6,359.49 1563,360.2 1563.4,361.04 1563,361.89 1562.6,362.6 1562,363.2 1488.8,363.98 1476.6,363.51 1467.5,362.9"/>
<polygon points="1564.2,361.03 1564.6,360.42 1565,359.91 1565.6,359.48 1570.6,359.43 1577.2,359.78 1582.1,360.24 1587,360.79 1582.1,361.44 1577.2,362 1570.6,362.5 1565.6,362.55 1565,362.13 1564.6,361.63"/>
<polygon points="1610.8,360.54 1612.8,360.2 1614.8,359.92 1617.5,359.67 1620.1,359.64 1621.8,359.84 1623.2,360.09 1624.5,360.39 1623.2,360.72 1621.8,361 1620.1,361.24 1617.5,361.26 1614.8,361.07 1612.8,360.83"/>
<polygon points="1622.3,360.42 1624.4,359.73 1626.5,359.15 1629.3,358.66 1641.9,358.52 1646.6,358.94 1650.1,359.46 1653.6,360.08 1650.1,360.78 1646.6,361.37 1641.9,361.89 1629.3,362.02 1626.5,361.59 1624.4,361.05"/>
<polygon points="1657,360.05 1667.5,359.09 1678.1,358.27 1692.2,357.53 1811.7,356.26 1811.7,356.26 1811.7,360.56 1811.7,360.56 1692.2,361.82 1678.1,361.38 1667.5,360.78"/>
<polygon points="979.2,401.68 979.2,401.68 1121.8,400.17 1134,400.64 1143.1,401.25 1152.3,401.99 1143.1,402.94 1134,403.74 1121.8,404.47 979.2,405.98 979.2,405.98"/>
<polygon points="1154.1,401.97 1163.3,401.03 1172.4,400.23 1184.6,399.5 1197.6,399.37 1198.2,399.95 1198.6,400.66 1199.1,401.5 1198.6,402.35 1198.2,403.06 1197.6,403.66 1184.6,403.8 1172.4,403.33 1163.3,402.72"/>
<polygon points="1199.6,401.49 1200,400.64 1200.4,399.93 1201,399.33 1291.6,398.37 1297.2,398.91 1301.4,399.57 1305.6,400.37 1301.4,401.26 1297.2,402.01 1291.6,402.67 1201,403.63 1200.4,403.04 1200,402.33"/>
<polygon points="1307.6,400.35 1312.6,399.51 1317.5,398.81 1324.1,398.18 1332.4,398.1 1339,398.58 1343.9,399.18 1348.9,399.91 1343.9,400.75 1339,401.45 1332.4,402.07 1324.1,402.16 1317.5,401.68 1312.6,401.08"/>
<polygon points="1354.2,399.85 1357.8,399.27 1361.3,398.77 1366,398.33 1370.2,398.29 1374.9,398.63 1378.4,399.05 1381.9,399.56 1378.4,400.15 1374.9,400.64 1370.2,401.08 1366,401.13 1361.3,400.79 1357.8,400.37"/>
<polygon points="1382.8,399.55 1388.5,398.71 1394.1,397.99 1401.6,397.36 1411.1,397.26 1418.6,397.74 1424.2,398.33 1429.8,399.05 1424.2,399.9 1418.6,400.61 1411.1,401.24 1401.6,401.34 1394.1,400.87 1388.5,400.27"/>
<polygon points="1428.7,399.07 1432.2,398.37 1435.7,397.77 1440.4,397.26 1446.7,397.19 1451.4,397.61 1454.9,398.13 1458.4,398.75 1454.9,399.45 1451.4,400.04 1446.7,400.56 1440.4,400.63 1435.7,400.21 1432.2,399.69"/>
<polygon points="1458.3,398.75 1467.5,397.81 1476.6,397.01 1488.8,396.28 1562,395.51 1562.6,396.09 1563,396.8 1563.4,397.64 1563,398.49 1562.6,399.2 1562,399.8 1488.8,400.58 1476.6,400.11 1467.5,399.5"/>
<polygon points="1564.2,397.63 1564.6,397.02 1565,396.51 1565.6,396.08 1570.6,396.03 1577.2,396.38 1582.1,396.84 1587,397.39 1582.1,398.04 1577.2,398.6 1570.6,399.1 1565.6,399.15 1565,398.73 1564.6,398.23"/>
<polygon points="1610.8,397.14 1612.8,396.8 1614.8,396.52 1617.5,396.27 1620.1,396.24 1621.8,396.44 1623.2,396.69 1624.5,396.99 1623.2,397.32 1621.8,397.6 1620.1,397.84 1617.5,397.86 1614.8,397.67 1612.8,397.43"/>
<polygon points="1622.3,397.02 1624.4,396.33 1626.5,395.75 1629.3,395.26 1641.9,395.12 1646.6,395.54 1650.1,396.06 1653.6,396.68 1650.1,397.38 1646.6,397.97 1641.9,398.49 1629.3,398.62 1626.5,398.19 1624.4,397.65"/>
<polygon points="1657,396.65 1667.5,395.69 1678.1,394.87 1692.2,394.13 1811.7,392.86 1811.7,392.86 1811.7,397.16 1811.7,397.16 1692.2,398.42 1678.1,397.98 1667.5,397.38"/>
<polygon points="966.8,461.52 966.8,461.52 1009,461.09 1010.8,461.72 1012.1,462.47 1013.5,463.38 1012.1,464.31 1010.8,465.09 1009,465.75 966.8,466.19 966.8,466.19"/>
<polygon points="1009.9,463.41 1011.2,462.48 1012.6,461.7 1014.4,461.04 1031,460.86 1032.8,461.49 1034.1,462.25 1035.5,463.15 1034.1,464.08 1032.8,464.86 1031,465.53 1014.4,465.7 1012.6,465.07 1011.2,464.32"/>
<polygon points="1031.9,463.19 1033.3,462.26 1034.6,461.47 1036.4,460.81 1043.6,460.74 1045.4,461.36 1046.7,462.12 1048.1,463.02 1046.7,463.95 1045.4,464.73 1043.6,465.4 1036.4,465.47 1034.6,464.85 1033.3,464.09"/>
<polygon points="1044.5,463.06 1045.8,462.13 1047.2,461.35 1049,460.68 1081.3,460.35 1083.1,460.98 1084.5,461.73 1085.8,462.64 1084.5,463.57 1083.1,464.35 1081.3,465.01 1049,465.34 1047.2,464.72 1045.8,463.96"/>
<polygon points="1082.2,462.67 1083.6,461.74 1084.9,460.96 1086.7,460.3 1112.8,460.03 1114.6,460.66 1115.9,461.41 1117.2,462.31 1115.9,463.24 1114.6,464.03 1112.8,464.69 1086.7,464.96 1084.9,464.33 1083.6,463.58"/>
<polygon points="1113.7,462.35 1115,461.42 1116.4,460.64 1118.1,459.97 1146.3,459.69 1148.1,460.31 1149.4,461.07 1150.8,461.97 1149.4,462.9 1148.1,463.68 1146.3,464.35 1118.1,464.64 1116.4,464.01 1115,463.25"/>
<polygon points="1147.2,462.01 1148.6,461.08 1149.9,460.3 1151.7,459.63 1188.2,459.26 1190,459.88 1191.4,460.64 1192.7,461.54 1191.4,462.47 1190,463.26 1188.2,463.92 1151.7,464.29 1149.9,463.67 1148.6,462.91"/>
<polygon points="1189.2,461.58 1190.5,460.65 1191.8,459.87 1193.6,459.2 1230.2,458.83 1232,459.46 1233.3,460.21 1234.6,461.11 1233.3,462.04 1232,462.83 1230.2,463.49 1193.6,463.87 1191.8,463.24 1190.5,462.48"/>
<polygon points="1231.1,461.15 1232.4,460.22 1233.8,459.44 1235.5,458.77 1299.4,458.12 1301.1,458.75 1302.5,459.5 1303.8,460.41 1302.5,461.34 1301.1,462.12 1299.4,462.78 1235.5,463.44 1233.8,462.81 1232.4,462.05"/>
<polygon points="1300.3,460.44 1301.6,459.51 1302.9,458.73 1304.7,458.07 1338.1,457.72 1339.9,458.35 1341.3,459.11 1342.6,460.01 1341.3,460.94 1339.9,461.72 1338.1,462.39 1304.7,462.73 1302.9,462.1 1301.6,461.35"/>
<polygon points="1339.4,460.04 1339.8,459.12 1340.3,458.35 1340.9,457.69 1341.6,458.33 1342,459.1 1342.5,460.01 1342,460.93 1341.6,461.71 1340.9,462.36 1340.3,461.72 1339.8,460.95"/>
<polygon points="1339.3,460.04 1340.6,459.11 1341.9,458.33 1343.7,457.67 1564.8,455.41 1566.6,456.03 1567.9,456.79 1569.2,457.69 1567.9,458.62 1566.6,459.4 1564.8,460.07 1343.7,462.33 1341.9,461.7 1340.6,460.95"/>
<polygon points="1565.7,457.73 1567,456.8 1568.4,456.02 1570.1,455.35 1818,452.81 1818,452.81 1818,457.48 1818,457.48 1570.1,460.01 1568.4,459.39 1567,458.63"/>
<polygon points="966.8,497.91 966.8,497.91 1009,497.5 1010.8,498.13 1012.1,498.89 1013.5,499.79 1012.1,500.72 1010.8,501.5 1009,502.17 966.8,502.58 966.8,502.58"/>
<polygon points="1009.9,499.83 1011.2,498.9 1012.6,498.11 1014.4,497.45 1031,497.29 1032.8,497.92 1034.1,498.67 1035.5,499.58 1034.1,500.51 1032.8,501.29 1031,501.95 1014.4,502.11 1012.6,501.49 1011.2,500.73"/>
<polygon points="1031.9,499.61 1033.3,498.68 1034.6,497.9 1036.4,497.24 1043.6,497.17 1045.4,497.8 1046.7,498.55 1048.1,499.45 1046.7,500.38 1045.4,501.17 1043.6,501.83 1036.4,501.9 1034.6,501.27 1033.3,500.52"/>
<polygon points="1044.5,499.49 1045.8,498.56 1047.2,497.78 1049,497.11 1081.3,496.8 1083.1,497.43 1084.5,498.18 1085.8,499.09 1084.5,500.02 1083.1,500.8 1081.3,501.46 1049,501.78 1047.2,501.15 1045.8,500.39"/>
<polygon points="1082.2,499.12 1083.6,498.19 1084.9,497.41 1086.7,496.75 1112.8,496.49 1114.6,497.12 1115.9,497.88 1117.2,498.78 1115.9,499.71 1114.6,500.49 1112.8,501.16 1086.7,501.41 1084.9,500.78 1083.6,500.03"/>
<polygon points="1113.7,498.82 1115,497.89 1116.4,497.1 1118.1,496.44 1146.3,496.17 1148.1,496.79 1149.4,497.55 1150.8,498.45 1149.4,499.38 1148.1,500.17 1146.3,500.83 1118.1,501.1 1116.4,500.47 1115,499.72"/>
<polygon points="1147.2,498.49 1148.6,497.56 1149.9,496.78 1151.7,496.11 1188.2,495.76 1190,496.39 1191.4,497.14 1192.7,498.05 1191.4,498.98 1190,499.76 1188.2,500.42 1151.7,500.78 1149.9,500.15 1148.6,499.39"/>
<polygon points="1189.2,498.08 1190.5,497.15 1191.8,496.37 1193.6,495.7 1230.2,495.35 1232,495.98 1233.3,496.73 1234.6,497.64 1233.3,498.57 1232,499.35 1230.2,500.01 1193.6,500.37 1191.8,499.74 1190.5,498.98"/>
<polygon points="1231.1,497.67 1232.4,496.74 1233.8,495.96 1235.5,495.3 1299.4,494.67 1301.1,495.3 1302.5,496.06 1303.8,496.96 1302.5,497.89 1301.1,498.67 1299.4,499.34 1235.5,499.96 1233.8,499.33 1232.4,498.58"/>
<polygon points="1300.3,497 1301.6,496.07 1302.9,495.29 1304.7,494.62 1338.1,494.3 1339.9,494.93 1341.3,495.68 1342.6,496.59 1341.3,497.51 1339.9,498.3 1338.1,498.96 1304.7,499.29 1302.9,498.66 1301.6,497.9"/>
<polygon points="1339.4,496.62 1339.8,495.7 1340.3,494.92 1340.9,494.27 1341.6,494.91 1342,495.67 1342.5,496.59 1342,497.51 1341.6,498.28 1340.9,498.93 1340.3,498.29 1339.8,497.53"/>
<polygon points="1339.3,496.62 1340.6,495.69 1341.9,494.91 1343.7,494.24 1564.8,492.09 1566.6,492.72 1567.9,493.47 1569.2,494.38 1567.9,495.31 1566.6,496.09 1564.8,496.75 1343.7,498.91 1341.9,498.28 1340.6,497.52"/>
<polygon points="1565.7,494.41 1567,493.48 1568.4,492.7 1570.1,492.04 1818,489.62 1818,489.62 1818,494.29 1818,494.29 1570.1,496.7 1568.4,496.07 1567,495.32"/>
<polygon points="966.8,570.93 966.8,570.93 1818,563.05 1818,563.05 1818,566.67 1818,566.67 966.8,574.55 966.8,574.55"/>
<polygon points="966.8,608.13 966.8,608.13 1818,600.25 1818,600.25 1818,603.87 1818,603.87 966.8,611.75 966.8,611.75"/>
<polygon points="966.8,696.51 966.8,696.51 1818,689.88 1818,689.88 1818,693.29 1818,693.29 966.8,699.92 966.8,699.92"/>
<polygon points="1204.6,696.36 1214.1,695.03 1223.5,693.9 1236.1,692.91 1259.2,692.73 1265.4,693.57 1270.2,694.59 1274.9,695.82 1270.2,697.11 1265.4,698.21 1259.2,699.15 1236.1,699.33 1223.5,698.53 1214.1,697.55"/>
<polygon points="1266.9,695.88 1274.3,694.77 1281.7,693.83 1291.5,693.02 1315.1,692.83 1333.9,693.43 1347.9,694.2 1362,695.14 1347.9,696.3 1333.9,697.29 1315.1,698.17 1291.5,698.36 1281.7,697.69 1274.3,696.87"/>
<polygon points="966.8,734.02 966.8,734.02 1818,726.97 1818,726.97 1818,730.38 1818,730.38 966.8,737.43 966.8,737.43"/>
<polygon points="1204.6,733.75 1214.1,732.42 1223.5,731.28 1236.1,730.29 1259.2,730.1 1265.4,730.93 1270.2,731.95 1274.9,733.17 1270.2,734.47 1265.4,735.57 1259.2,736.51 1236.1,736.7 1223.5,735.92 1214.1,734.94"/>
<polygon points="1266.9,733.24 1274.3,732.13 1281.7,731.19 1291.5,730.36 1315.1,730.17 1333.9,730.75 1347.9,731.52 1362,732.45 1347.9,733.62 1333.9,734.62 1315.1,735.51 1291.5,735.71 1281.7,735.05 1274.3,734.23"/>
</g>
<g class="i" filter="url(#cm2)">
<polygon style="fill:#000" points="961.8,79.85 1823,79.85 1823,168.47 961.8,178.23"/>
<polygon fill-opacity="0.146" points="984.3,134.37 987.2,133.9 990,133.61 1016.8,133.3 1019.6,133.53 1022.5,133.93 1019.6,134.4 1016.8,134.7 990,135.01 987.2,134.77"/>
<polygon fill-opacity="0.13" points="1391.6,129.71 1394.5,129.24 1397.4,128.94 1397.4,128.94 1400.3,129.18 1403.1,129.58 1400.3,130.04 1397.4,130.34 1397.4,130.34 1394.5,130.11"/>
<polygon fill-opacity="0.326" points="1426.7,129.31 1429.6,128.84 1432.4,128.54 1442.5,128.43 1445.3,128.66 1448.2,129.06 1445.3,129.53 1442.5,129.83 1432.4,129.94 1429.6,129.71"/>
<polygon fill-opacity="0.163" points="1450.2,129.04 1452.6,128.58 1455,128.28 1457.4,128.52 1459.8,128.93 1457.4,129.39 1455,129.68 1452.6,129.45"/>
<polygon fill-opacity="0.13" points="1518.5,128.26 1521.4,127.79 1524.3,127.49 1524.3,127.49 1527.1,127.72 1530,128.13 1527.1,128.59 1524.3,128.89 1524.3,128.89 1521.4,128.66"/>
<polygon fill-opacity="0.26" points="1533.5,128.08 1536.4,127.62 1539.3,127.32 1544.3,127.26 1547.2,127.49 1550.1,127.9 1547.2,128.36 1544.3,128.66 1539.3,128.72 1536.4,128.49"/>
<polygon fill-opacity="0.651" points="1561.9,127.76 1564.8,127.29 1567.7,126.99 1584.4,126.8 1587.2,127.04 1590.1,127.44 1587.2,127.9 1584.4,128.2 1567.7,128.39 1564.8,128.16"/>
<polygon fill-opacity="0.651" points="1598.6,127.34 1601.5,126.87 1604.4,126.57 1619.4,126.4 1622.3,126.63 1625.2,127.04 1622.3,127.5 1619.4,127.8 1604.4,127.97 1601.5,127.74"/>
<polygon fill-opacity="0.716" points="1625.4,127.03 1628.2,126.57 1631.1,126.27 1647.8,126.08 1650.7,126.31 1653.6,126.71 1650.7,127.18 1647.8,127.48 1631.1,127.67 1628.2,127.44"/>
<polygon fill-opacity="0.26" points="1660.4,126.63 1663.3,126.16 1666.2,125.87 1671.2,125.81 1674.1,126.04 1676.9,126.44 1674.1,126.91 1671.2,127.21 1666.2,127.27 1663.3,127.03"/>
<polygon fill-opacity="0.326" points="1693.8,126.25 1696.7,125.78 1699.5,125.48 1704.6,125.43 1707.4,125.66 1710.3,126.06 1707.4,126.53 1704.6,126.83 1699.5,126.88 1696.7,126.65"/>
<polygon fill-opacity="0.26" points="1730.5,125.83 1733.4,125.36 1736.3,125.06 1749.6,124.91 1752.5,125.14 1755.4,125.55 1752.5,126.01 1749.6,126.31 1736.3,126.46 1733.4,126.23"/>
<polygon fill-opacity="0.163" points="1794,125.1 1796.8,124.64 1799.7,124.34 1799.7,124.34 1802.6,124.57 1805.5,124.97 1802.6,125.44 1799.7,125.74 1799.7,125.74 1796.8,125.51"/>
<polygon fill-opacity="0.146" points="984.3,170.97 987.2,170.5 990,170.21 1016.8,169.9 1019.6,170.14 1022.5,170.54 1019.6,171.01 1016.8,171.3 990,171.61 987.2,171.37"/>
<polygon fill-opacity="0.13" points="1391.6,166.36 1394.5,165.89 1397.4,165.59 1397.4,165.59 1400.3,165.83 1403.1,166.23 1400.3,166.7 1397.4,166.99 1397.4,166.99 1394.5,166.76"/>
<polygon fill-opacity="0.326" points="1426.7,165.96 1429.6,165.49 1432.4,165.2 1442.5,165.08 1445.3,165.32 1448.2,165.72 1445.3,166.19 1442.5,166.48 1432.4,166.6 1429.6,166.36"/>
<polygon fill-opacity="0.163" points="1450.2,165.7 1452.6,165.23 1455,164.94 1457.4,165.18 1459.8,165.59 1457.4,166.05 1455,166.34 1452.6,166.1"/>
<polygon fill-opacity="0.13" points="1518.5,164.92 1521.4,164.45 1524.3,164.16 1524.3,164.16 1527.1,164.39 1530,164.79 1527.1,165.26 1524.3,165.56 1524.3,165.56 1521.4,165.32"/>
<polygon fill-opacity="0.26" points="1533.5,164.75 1536.4,164.28 1539.3,163.99 1544.3,163.93 1547.2,164.16 1550.1,164.56 1547.2,165.03 1544.3,165.33 1539.3,165.39 1536.4,165.15"/>
<polygon fill-opacity="0.651" points="1561.9,164.43 1564.8,163.96 1567.7,163.67 1584.4,163.48 1587.2,163.71 1590.1,164.11 1587.2,164.58 1584.4,164.88 1567.7,165.07 1564.8,164.83"/>
<polygon fill-opacity="0.651" points="1598.6,164.01 1601.5,163.55 1604.4,163.25 1619.4,163.08 1622.3,163.31 1625.2,163.71 1622.3,164.18 1619.4,164.48 1604.4,164.65 1601.5,164.42"/>
<polygon fill-opacity="0.716" points="1625.4,163.71 1628.2,163.24 1631.1,162.95 1647.8,162.76 1650.7,162.99 1653.6,163.39 1650.7,163.86 1647.8,164.16 1631.1,164.35 1628.2,164.11"/>
<polygon fill-opacity="0.26" points="1660.4,163.32 1663.3,162.85 1666.2,162.55 1671.2,162.49 1674.1,162.73 1676.9,163.13 1674.1,163.6 1671.2,163.89 1666.2,163.95 1663.3,163.72"/>
<polygon fill-opacity="0.326" points="1693.8,162.94 1696.7,162.47 1699.5,162.17 1704.6,162.12 1707.4,162.35 1710.3,162.75 1707.4,163.22 1704.6,163.52 1699.5,163.57 1696.7,163.34"/>
<polygon fill-opacity="0.26" points="1730.5,162.52 1733.4,162.05 1736.3,161.76 1749.6,161.6 1752.5,161.84 1755.4,162.24 1752.5,162.71 1749.6,163 1736.3,163.16 1733.4,162.92"/>
<polygon fill-opacity="0.163" points="1794,161.8 1796.8,161.34 1799.7,161.04 1799.7,161.04 1802.6,161.27 1805.5,161.67 1802.6,162.14 1799.7,162.44 1799.7,162.44 1796.8,162.21"/>
</g>
<path class="dk" d="M981.8,194.97 L1803.05,185.17"/><path class="dw" d="M981.8,194.97 L1803.05,185.17"/>
<path class="dk" d="M981.8,210.63 L1803.05,200.83"/><path class="dw" d="M981.8,210.63 L1803.05,200.83"/>
<path class="dk" d="M981.8,231.47 L1803.05,221.57"/><path class="dw" d="M981.8,231.47 L1803.05,221.57"/>
<path class="dk" d="M981.8,247.13 L1803.05,237.23"/><path class="dw" d="M981.8,247.13 L1803.05,237.23"/>
<path class="dk" d="M981.8,272.17 L1803.05,262.47"/><path class="dw" d="M981.8,272.17 L1803.05,262.47"/>
<path class="dk" d="M981.8,287.83 L1803.05,278.13"/><path class="dw" d="M981.8,287.83 L1803.05,278.13"/>
<path class="dk" d="M981.8,308.37 L1803.05,298.97"/><path class="dw" d="M981.8,308.37 L1803.05,298.97"/>
<path class="dk" d="M981.8,324.03 L1803.05,314.63"/><path class="dw" d="M981.8,324.03 L1803.05,314.63"/>
<path class="dk" d="M981.8,357.47 L1803.05,348.77"/><path class="dw" d="M981.8,357.47 L1803.05,348.77"/>
<path class="dk" d="M981.8,373.13 L1803.05,364.43"/><path class="dw" d="M981.8,373.13 L1803.05,364.43"/>
<path class="dk" d="M981.8,394.07 L1803.05,385.37"/><path class="dw" d="M981.8,394.07 L1803.05,385.37"/>
<path class="dk" d="M981.8,409.73 L1803.05,401.03"/><path class="dw" d="M981.8,409.73 L1803.05,401.03"/>
<path class="dk" d="M981.8,453.97 L1803.05,445.57"/><path class="dw" d="M981.8,453.97 L1803.05,445.57"/>
<path class="dk" d="M981.8,469.63 L1803.05,461.23"/><path class="dw" d="M981.8,469.63 L1803.05,461.23"/>
<path class="dk" d="M981.8,490.37 L1803.05,482.37"/><path class="dw" d="M981.8,490.37 L1803.05,482.37"/>
<path class="dk" d="M981.8,506.03 L1803.05,498.03"/><path class="dw" d="M981.8,506.03 L1803.05,498.03"/>
<path class="dk" d="M981.8,562.87 L1803.05,555.27"/><path class="dw" d="M981.8,562.87 L1803.05,555.27"/>
<path class="dk" d="M981.8,578.53 L1803.05,570.93"/><path class="dw" d="M981.8,578.53 L1803.05,570.93"/>
<path class="dk" d="M981.8,600.07 L1803.05,592.47"/><path class="dw" d="M981.8,600.07 L1803.05,592.47"/>
<path class="dk" d="M981.8,615.73 L1803.05,608.13"/><path class="dw" d="M981.8,615.73 L1803.05,608.13"/>
<path class="dk" d="M981.8,687.87 L1803.05,681.27"/><path class="dw" d="M981.8,687.87 L1803.05,681.27"/>
<path class="dk" d="M981.8,703.53 L1803.05,696.93"/><path class="dw" d="M981.8,703.53 L1803.05,696.93"/>
<path class="dk" d="M981.8,725.87 L1803.05,719.07"/><path class="dw" d="M981.8,725.87 L1803.05,719.07"/>
<path class="dk" d="M981.8,741.53 L1803.05,734.73"/><path class="dw" d="M981.8,741.53 L1803.05,734.73"/>
</g>
<rect class="sp" x="981.8" y="99.85" width="821.25" height="713.05"/>
<line class="tk" x1="982" y1="812.9" x2="982" y2="820.2"/>
<text class="t" x="982.9" y="843.4" text-anchor="middle">0</text>
<line class="tk" x1="1082.26" y1="812.9" x2="1082.26" y2="820.2"/>
<text class="t" x="1083.16" y="843.4" text-anchor="middle">250</text>
<line class="tk" x1="1182.53" y1="812.9" x2="1182.53" y2="820.2"/>
<text class="t" x="1183.43" y="843.4" text-anchor="middle">500</text>
<line class="tk" x1="1282.79" y1="812.9" x2="1282.79" y2="820.2"/>
<text class="t" x="1283.69" y="843.4" text-anchor="middle">750</text>
<line class="tk" x1="1383.05" y1="812.9" x2="1383.05" y2="820.2"/>
<text class="t" x="1383.95" y="843.4" text-anchor="middle">1000</text>
<line class="tk" x1="1483.31" y1="812.9" x2="1483.31" y2="820.2"/>
<text class="t" x="1484.21" y="843.4" text-anchor="middle">1250</text>
<line class="tk" x1="1583.58" y1="812.9" x2="1583.58" y2="820.2"/>
<text class="t" x="1584.48" y="843.4" text-anchor="middle">1500</text>
<line class="tk" x1="1683.84" y1="812.9" x2="1683.84" y2="820.2"/>
<text class="t" x="1684.74" y="843.4" text-anchor="middle">1750</text>
<line class="tk" x1="1784.1" y1="812.9" x2="1784.1" y2="820.2"/>
<text class="t" x="1785" y="843.4" text-anchor="middle">2000</text>
<line class="tk" x1="975.4" y1="812.73" x2="981.8" y2="812.73"/>
<line class="tk" x1="975.4" y1="725.68" x2="981.8" y2="725.68"/>
<line class="tk" x1="975.4" y1="638.64" x2="981.8" y2="638.64"/>
<line class="tk" x1="975.4" y1="551.6" x2="981.8" y2="551.6"/>
<line class="tk" x1="975.4" y1="464.56" x2="981.8" y2="464.56"/>
<line class="tk" x1="975.4" y1="377.51" x2="981.8" y2="377.51"/>
<line class="tk" x1="975.4" y1="290.47" x2="981.8" y2="290.47"/>
<line class="tk" x1="975.4" y1="203.43" x2="981.8" y2="203.43"/>
<line class="tk" x1="975.4" y1="116.39" x2="981.8" y2="116.39"/>
<text class="h" x="1392.42" y="87" text-anchor="middle">CHIP2</text>
<text class="t" x="1393.42" y="871.7" text-anchor="middle">pixel</text>
<g clip-path="url(#c2)">
<g class="i" filter="url(#cm)">
<rect x="1824.97" y="79.85" width="860.13" height="753.05" fill="#000"/>
<g opacity="0.009">
<polygon points="1842.2,183.13 2011.8,181.31 2011.8,201.31 1842.2,203.13"/>
<polygon points="2025.8,181.16 2095.7,180.41 2095.7,200.41 2025.8,201.16"/>
<polygon points="2174.7,179.56 2212.2,179.16 2212.2,199.16 2174.7,199.56"/>
<polygon points="2234.6,178.92 2282.4,178.41 2282.4,198.41 2234.6,198.92"/>
<polygon points="2307.8,178.13 2471.5,176.38 2471.5,196.38 2307.8,198.13"/>
<polygon points="2486.2,176.22 2674.7,174.2 2674.7,194.2 2486.2,196.22"/>
<polygon points="1842.2,219.53 2011.8,217.67 2011.8,237.67 1842.2,239.53"/>
<polygon points="2025.8,217.52 2095.7,216.75 2095.7,236.75 2025.8,237.52"/>
<polygon points="2174.7,215.88 2212.2,215.47 2212.2,235.47 2174.7,235.88"/>
<polygon points="2234.6,215.22 2282.4,214.7 2282.4,234.7 2234.6,235.22"/>
<polygon points="2307.8,214.42 2471.5,212.62 2471.5,232.62 2307.8,234.42"/>
<polygon points="2486.2,212.46 2674.7,210.39 2674.7,230.39 2486.2,232.46"/>
<polygon points="1842.2,259.73 2251.5,255.78 2251.5,275.78 1842.2,279.73"/>
<polygon points="2270.7,255.6 2522.3,253.18 2522.3,273.18 2270.7,275.6"/>
<polygon points="2542,252.99 2625.4,252.18 2625.4,272.18 2542,272.99"/>
<polygon points="2662.5,251.82 2674.7,251.71 2674.7,271.71 2662.5,271.82"/>
<polygon points="1842.2,296.93 2251.5,292.59 2251.5,312.59 1842.2,316.93"/>
<polygon points="2270.7,292.38 2522.3,289.72 2522.3,309.72 2270.7,312.38"/>
<polygon points="2542,289.51 2625.4,288.62 2625.4,308.62 2542,309.51"/>
<polygon points="2662.5,288.23 2674.7,288.1 2674.7,308.1 2662.5,308.23"/>
<polygon points="1842.2,346.62 1956.9,345.62 1956.9,365.62 1842.2,366.62"/>
<polygon points="1973.2,345.47 2013.5,345.12 2013.5,365.12 1973.2,365.47"/>
<polygon points="2087.3,344.47 2282,342.76 2282,362.76 2087.3,364.47"/>
<polygon points="2308.4,342.53 2494.4,340.9 2494.4,360.9 2308.4,362.53"/>
<polygon points="2546.8,340.44 2630,339.71 2630,359.71 2546.8,360.44"/>
<polygon points="2644.9,339.58 2674.7,339.32 2674.7,359.32 2644.9,359.58"/>
<polygon points="1842.2,383.02 1956.9,382.02 1956.9,402.02 1842.2,403.02"/>
<polygon points="1973.2,381.87 2013.5,381.52 2013.5,401.52 1973.2,401.87"/>
<polygon points="2087.3,380.87 2282,379.16 2282,399.16 2087.3,400.87"/>
<polygon points="2308.4,378.93 2494.4,377.3 2494.4,397.3 2308.4,398.93"/>
<polygon points="2546.8,376.84 2630,376.11 2630,396.11 2546.8,396.84"/>
<polygon points="2644.9,375.98 2674.7,375.72 2674.7,395.72 2644.9,395.98"/>
<polygon points="1830,443.73 2680.1,436.47 2680.1,456.47 1830,463.73"/>
<polygon points="1830,480.53 2680.1,473.37 2680.1,493.37 1830,500.53"/>
<polygon points="1830,553.61 2680.1,547.29 2680.1,567.29 1830,573.61"/>
<polygon points="1830,590.81 2680.1,584.69 2680.1,604.69 1830,610.81"/>
<polygon points="1830,680.09 2680.1,675.21 2680.1,695.21 1830,700.09"/>
<polygon points="1830,717.69 2680.1,712.51 2680.1,732.51 1830,737.69"/>
</g>
<g opacity="0.008">
<polygon points="1842.2,173.13 2011.8,171.31 2011.8,209.31 1842.2,211.13"/>
<polygon points="2025.8,171.16 2095.7,170.41 2095.7,208.41 2025.8,209.16"/>
<polygon points="2174.7,169.56 2212.2,169.16 2212.2,207.16 2174.7,207.56"/>
<polygon points="2234.6,168.92 2282.4,168.41 2282.4,206.41 2234.6,206.92"/>
<polygon points="2307.8,168.13 2471.5,166.38 2471.5,204.38 2307.8,206.13"/>
<polygon points="2486.2,166.22 2674.7,164.2 2674.7,202.2 2486.2,204.22"/>
<polygon points="1842.2,209.53 2011.8,207.67 2011.8,245.67 1842.2,247.53"/>
<polygon points="2025.8,207.52 2095.7,206.75 2095.7,244.75 2025.8,245.52"/>
<polygon points="2174.7,205.88 2212.2,205.47 2212.2,243.47 2174.7,243.88"/>
<polygon points="2234.6,205.22 2282.4,204.7 2282.4,242.7 2234.6,243.22"/>
<polygon points="2307.8,204.42 2471.5,202.62 2471.5,240.62 2307.8,242.42"/>
<polygon points="2486.2,202.46 2674.7,200.39 2674.7,238.39 2486.2,240.46"/>
<polygon points="1842.2,249.73 2251.5,245.78 2251.5,283.78 1842.2,287.73"/>
<polygon points="2270.7,245.6 2522.3,243.18 2522.3,281.18 2270.7,283.6"/>
<polygon points="2542,242.99 2625.4,242.18 2625.4,280.18 2542,280.99"/>
<polygon points="2662.5,241.82 2674.7,241.71 2674.7,279.71 2662.5,279.82"/>
<polygon points="1842.2,286.93 2251.5,282.59 2251.5,320.59 1842.2,324.93"/>
<polygon points="2270.7,282.38 2522.3,279.72 2522.3,317.72 2270.7,320.38"/>
<polygon points="2542,279.51 2625.4,278.62 2625.4,316.62 2542,317.51"/>
<polygon points="2662.5,278.23 2674.7,278.1 2674.7,316.1 2662.5,316.23"/>
<polygon points="1842.2,336.62 1956.9,335.62 1956.9,373.62 1842.2,374.62"/>
<polygon points="1973.2,335.47 2013.5,335.12 2013.5,373.12 1973.2,373.47"/>
<polygon points="2087.3,334.47 2282,332.76 2282,370.76 2087.3,372.47"/>
<polygon points="2308.4,332.53 2494.4,330.9 2494.4,368.9 2308.4,370.53"/>
<polygon points="2546.8,330.44 2630,329.71 2630,367.71 2546.8,368.44"/>
<polygon points="2644.9,329.58 2674.7,329.32 2674.7,367.32 2644.9,367.58"/>
<polygon points="1842.2,373.02 1956.9,372.02 1956.9,410.02 1842.2,411.02"/>
<polygon points="1973.2,371.87 2013.5,371.52 2013.5,409.52 1973.2,409.87"/>
<polygon points="2087.3,370.87 2282,369.16 2282,407.16 2087.3,408.87"/>
<polygon points="2308.4,368.93 2494.4,367.3 2494.4,405.3 2308.4,406.93"/>
<polygon points="2546.8,366.84 2630,366.11 2630,404.11 2546.8,404.84"/>
<polygon points="2644.9,365.98 2674.7,365.72 2674.7,403.72 2644.9,403.98"/>
<polygon points="1830,433.73 2680.1,426.47 2680.1,464.47 1830,471.73"/>
<polygon points="1830,470.53 2680.1,463.37 2680.1,501.37 1830,508.53"/>
<polygon points="1830,543.61 2680.1,537.29 2680.1,575.29 1830,581.61"/>
<polygon points="1830,580.81 2680.1,574.69 2680.1,612.69 1830,618.81"/>
<polygon points="1830,670.09 2680.1,665.21 2680.1,703.21 1830,708.09"/>
<polygon points="1830,707.69 2680.1,702.51 2680.1,740.51 1830,745.69"/>
</g>
<g opacity="0.004">
<polygon points="1842.2,162.63 2011.8,160.81 2011.8,218.81 1842.2,220.63"/>
<polygon points="2025.8,160.66 2095.7,159.91 2095.7,217.91 2025.8,218.66"/>
<polygon points="2174.7,159.06 2212.2,158.66 2212.2,216.66 2174.7,217.06"/>
<polygon points="2234.6,158.42 2282.4,157.91 2282.4,215.91 2234.6,216.42"/>
<polygon points="2307.8,157.63 2471.5,155.88 2471.5,213.88 2307.8,215.63"/>
<polygon points="2486.2,155.72 2674.7,153.7 2674.7,211.7 2486.2,213.72"/>
<polygon points="1842.2,199.03 2011.8,197.17 2011.8,255.17 1842.2,257.03"/>
<polygon points="2025.8,197.02 2095.7,196.25 2095.7,254.25 2025.8,255.02"/>
<polygon points="2174.7,195.38 2212.2,194.97 2212.2,252.97 2174.7,253.38"/>
<polygon points="2234.6,194.72 2282.4,194.2 2282.4,252.2 2234.6,252.72"/>
<polygon points="2307.8,193.92 2471.5,192.12 2471.5,250.12 2307.8,251.92"/>
<polygon points="2486.2,191.96 2674.7,189.89 2674.7,247.89 2486.2,249.96"/>
<polygon points="1842.2,239.23 2251.5,235.28 2251.5,293.28 1842.2,297.23"/>
<polygon points="2270.7,235.1 2522.3,232.68 2522.3,290.68 2270.7,293.1"/>
<polygon points="2542,232.49 2625.4,231.68 2625.4,289.68 2542,290.49"/>
<polygon points="2662.5,231.32 2674.7,231.21 2674.7,289.21 2662.5,289.32"/>
<polygon points="1842.2,276.43 2251.5,272.09 2251.5,330.09 1842.2,334.43"/>
<polygon points="2270.7,271.88 2522.3,269.22 2522.3,327.22 2270.7,329.88"/>
<polygon points="2542,269.01 2625.4,268.12 2625.4,326.12 2542,327.01"/>
<polygon points="2662.5,267.73 2674.7,267.6 2674.7,325.6 2662.5,325.73"/>
<polygon points="1842.2,326.12 1956.9,325.12 1956.9,383.12 1842.2,384.12"/>
<polygon points="1973.2,324.97 2013.5,324.62 2013.5,382.62 1973.2,382.97"/>
<polygon points="2087.3,323.97 2282,322.26 2282,380.26 2087.3,381.97"/>
<polygon points="2308.4,322.03 2494.4,320.4 2494.4,378.4 2308.4,380.03"/>
<polygon points="2546.8,319.94 2630,319.21 2630,377.21 2546.8,377.94"/>
<polygon points="2644.9,319.08 2674.7,318.82 2674.7,376.82 2644.9,377.08"/>
<polygon points="1842.2,362.52 1956.9,361.52 1956.9,419.52 1842.2,420.52"/>
<polygon points="1973.2,361.37 2013.5,361.02 2013.5,419.02 1973.2,419.37"/>
<polygon points="2087.3,360.37 2282,358.66 2282,416.66 2087.3,418.37"/>
<polygon points="2308.4,358.43 2494.4,356.8 2494.4,414.8 2308.4,416.43"/>
<polygon points="2546.8,356.34 2630,355.61 2630,413.61 2546.8,414.34"/>
<polygon points="2644.9,355.48 2674.7,355.22 2674.7,413.22 2644.9,413.48"/>
<polygon points="1830,423.23 2680.1,415.97 2680.1,473.97 1830,481.23"/>
<polygon points="1830,460.03 2680.1,452.87 2680.1,510.87 1830,518.03"/>
<polygon points="1830,533.11 2680.1,526.79 2680.1,584.79 1830,591.11"/>
<polygon points="1830,570.31 2680.1,564.19 2680.1,622.19 1830,628.31"/>
<polygon points="1830,659.59 2680.1,654.71 2680.1,712.71 1830,717.59"/>
<polygon points="1830,697.19 2680.1,692.01 2680.1,750.01 1830,755.19"/>
</g>
<g opacity="0.055">
<polygon points="1842.2,188.63 1842.2,188.63 1896.3,188.05 1898,188.79 1899.8,190.01 1898,191.27 1896.3,192.05 1842.2,192.63 1842.2,192.63"/>
<polygon points="1897.8,190.03 1899.6,188.77 1901.3,188 2001.5,186.92 2010.3,187.58 2019.1,188.73 2010.3,190.07 2001.5,190.92 1901.3,192 1899.6,191.26"/>
<polygon points="2018.5,188.94 2027.3,187.66 2036.1,186.85 2046.6,186.74 2048.1,187.44 2049.6,188.6 2048.1,189.8 2046.6,190.54 2036.1,190.65 2027.3,190.02"/>
<polygon points="2047.8,188.62 2049.3,187.43 2050.8,186.69 2085.4,186.32 2094.2,186.95 2103,188.03 2094.2,189.31 2085.4,190.12 2050.8,190.49 2049.3,189.79"/>
<polygon points="2116.3,188.89 2121.1,187.97 2125.8,187.39 2126.7,187.38 2131.5,187.86 2136.2,188.67 2131.5,189.6 2126.7,190.18 2125.8,190.19 2121.1,189.71"/>
<polygon points="2167.4,187.34 2176.2,186.07 2185,185.25 2204.9,185.04 2211.2,185.69 2217.5,186.8 2211.2,188.05 2204.9,188.84 2185,189.05 2176.2,188.43"/>
<polygon points="2217,188.01 2219.6,187.17 2222.2,186.65 2222.6,186.65 2225.2,187.11 2227.7,187.89 2225.2,188.73 2222.6,189.25 2222.2,189.25 2219.6,188.79"/>
<polygon points="2230.5,187.26 2235.5,186.22 2240.5,185.56 2250.4,185.45 2251.6,186.04 2252.9,187.02 2251.6,188.03 2250.4,188.65 2240.5,188.76 2235.5,188.2"/>
<polygon points="2251.2,186.64 2252.5,185.51 2253.7,184.81 2267.8,184.66 2280.3,185.21 2292.9,186.19 2280.3,187.45 2267.8,188.26 2253.7,188.41 2252.5,187.75"/>
<polygon points="2292.1,185.8 2311,184.36 2329.8,183.4 2399.4,182.65 2400.4,183.4 2401.4,184.63 2400.4,185.88 2399.4,186.65 2329.8,187.4 2311,186.84"/>
<polygon points="2401.8,184.63 2402.8,183.37 2403.8,182.6 2469.4,181.9 2471.2,182.64 2473,183.86 2471.2,185.12 2469.4,185.9 2403.8,186.6 2402.8,185.86"/>
<polygon points="2472.6,185.27 2475,184.43 2477.4,183.91 2478.4,183.9 2481.1,184.37 2483.8,185.15 2481.1,185.98 2478.4,186.5 2477.4,186.51 2475,186.05"/>
<polygon points="2484.1,183.74 2486.6,182.47 2489.2,181.69 2527.9,181.27 2531.7,181.99 2535.5,183.19 2531.7,184.47 2527.9,185.27 2489.2,185.69 2486.6,184.96"/>
<polygon points="2537,183.18 2544.5,181.85 2552,181.01 2674.7,179.7 2674.7,179.7 2674.7,183.7 2674.7,183.7 2552,185.01 2544.5,184.34"/>
<polygon points="1842.2,225.03 1842.2,225.03 1896.3,224.44 1898,225.18 1899.8,226.4 1898,227.66 1896.3,228.44 1842.2,229.03 1842.2,229.03"/>
<polygon points="1897.8,226.42 1899.6,225.16 1901.3,224.38 2001.5,223.28 2010.3,223.94 2019.1,225.09 2010.3,226.43 2001.5,227.28 1901.3,228.38 1899.6,227.64"/>
<polygon points="2018.5,225.3 2027.3,224.02 2036.1,223.2 2046.6,223.09 2048.1,223.79 2049.6,224.95 2048.1,226.15 2046.6,226.89 2036.1,227 2027.3,226.38"/>
<polygon points="2047.8,224.97 2049.3,223.78 2050.8,223.04 2085.4,222.66 2094.2,223.29 2103,224.37 2094.2,225.65 2085.4,226.46 2050.8,226.84 2049.3,226.14"/>
<polygon points="2116.3,225.22 2121.1,224.3 2125.8,223.72 2126.7,223.71 2131.5,224.19 2136.2,225 2131.5,225.93 2126.7,226.51 2125.8,226.52 2121.1,226.04"/>
<polygon points="2167.4,223.66 2176.2,222.39 2185,221.57 2204.9,221.35 2211.2,222 2217.5,223.11 2211.2,224.36 2204.9,225.15 2185,225.37 2176.2,224.75"/>
<polygon points="2217,224.32 2219.6,223.48 2222.2,222.96 2222.6,222.96 2225.2,223.42 2227.7,224.2 2225.2,225.04 2222.6,225.56 2222.2,225.56 2219.6,225.1"/>
<polygon points="2230.5,223.57 2235.5,222.52 2240.5,221.86 2250.4,221.75 2251.6,222.34 2252.9,223.32 2251.6,224.33 2250.4,224.95 2240.5,225.06 2235.5,224.51"/>
<polygon points="2251.2,222.94 2252.5,221.81 2253.7,221.11 2267.8,220.96 2280.3,221.5 2292.9,222.48 2280.3,223.74 2267.8,224.56 2253.7,224.71 2252.5,224.05"/>
<polygon points="2292.1,222.09 2311,220.64 2329.8,219.68 2399.4,218.92 2400.4,219.66 2401.4,220.89 2400.4,222.15 2399.4,222.92 2329.8,223.68 2311,223.13"/>
<polygon points="2401.8,220.89 2402.8,219.64 2403.8,218.87 2469.4,218.15 2471.2,218.89 2473,220.11 2471.2,221.37 2469.4,222.15 2403.8,222.87 2402.8,222.12"/>
<polygon points="2472.6,221.51 2475,220.68 2477.4,220.16 2478.4,220.15 2481.1,220.61 2483.8,221.39 2481.1,222.23 2478.4,222.75 2477.4,222.76 2475,222.29"/>
<polygon points="2484.1,219.99 2486.6,218.72 2489.2,217.93 2527.9,217.51 2531.7,218.22 2535.5,219.42 2531.7,220.71 2527.9,221.51 2489.2,221.93 2486.6,221.2"/>
<polygon points="2537,219.41 2544.5,218.08 2552,217.24 2674.7,215.89 2674.7,215.89 2674.7,219.89 2674.7,219.89 2552,221.24 2544.5,220.57"/>
<polygon points="1842.2,265.23 1842.2,265.23 1852.7,265.13 1855.8,265.85 1859,267.07 1855.8,268.34 1852.7,269.13 1842.2,269.23 1842.2,269.23"/>
<polygon points="1857.9,267.48 1861.1,266.33 1864.2,265.61 1871.5,265.54 1874.7,266.2 1877.8,267.28 1874.7,268.43 1871.5,269.14 1864.2,269.21 1861.1,268.56"/>
<polygon points="1877.3,268.29 1878.9,267.47 1880.5,266.96 1880.6,266.96 1882.1,267.44 1883.6,268.23 1882.1,269.05 1880.6,269.56 1880.5,269.56 1878.9,269.08"/>
<polygon points="1882.7,266.84 1890.2,265.52 1897.7,264.69 2098,262.76 2101.1,263.49 2104.2,264.7 2101.1,265.97 2098,266.76 1897.7,268.69 1890.2,268.01"/>
<polygon points="2108.9,264.86 2113.9,263.63 2118.9,262.86 2138.8,262.67 2145.1,263.33 2151.4,264.45 2145.1,265.69 2138.8,266.47 2118.9,266.66 2113.9,265.99"/>
<polygon points="2149.9,264.26 2157.5,262.95 2165,262.12 2232.1,261.47 2234,262.21 2235.9,263.43 2234,264.69 2232.1,265.47 2165,266.12 2157.5,265.43"/>
<polygon points="2235.5,264.44 2238,263.48 2240.5,262.89 2247.9,262.82 2251,263.36 2254.1,264.26 2251,265.22 2247.9,265.82 2240.5,265.89 2238,265.35"/>
<polygon points="2259.2,263.21 2273,261.83 2286.8,260.94 2509.1,258.8 2520.4,259.45 2531.7,260.58 2520.4,261.94 2509.1,262.8 2286.8,264.94 2273,264.32"/>
<polygon points="2532.5,260.58 2543.9,259.23 2555.2,258.36 2618.1,257.75 2624.4,258.45 2630.7,259.63 2624.4,260.93 2618.1,261.75 2555.2,262.36 2543.9,261.71"/>
<polygon points="2658.3,259.77 2663.4,258.6 2668.4,257.87 2674.7,257.81 2674.7,257.81 2674.7,261.41 2674.7,261.41 2668.4,261.47 2663.4,260.83"/>
<polygon points="1842.2,302.43 1842.2,302.43 1852.7,302.32 1855.8,303.04 1859,304.25 1855.8,305.53 1852.7,306.32 1842.2,306.43 1842.2,306.43"/>
<polygon points="1857.9,304.66 1861.1,303.51 1864.2,302.8 1871.5,302.72 1874.7,303.37 1877.8,304.45 1874.7,305.6 1871.5,306.32 1864.2,306.4 1861.1,305.75"/>
<polygon points="1877.3,305.46 1878.9,304.63 1880.5,304.12 1880.6,304.12 1882.1,304.6 1883.6,305.39 1882.1,306.21 1880.6,306.72 1880.5,306.72 1878.9,306.25"/>
<polygon points="1882.7,304 1890.2,302.68 1897.7,301.84 2098,299.72 2101.1,300.44 2104.2,301.65 2101.1,302.93 2098,303.72 1897.7,305.84 1890.2,305.16"/>
<polygon points="2108.9,301.8 2113.9,300.57 2118.9,299.79 2138.8,299.58 2145.1,300.24 2151.4,301.35 2145.1,302.6 2138.8,303.38 2118.9,303.59 2113.9,302.93"/>
<polygon points="2149.9,301.16 2157.5,299.84 2165,299 2232.1,298.29 2234,299.03 2235.9,300.25 2234,301.52 2232.1,302.29 2165,303 2157.5,302.33"/>
<polygon points="2235.5,301.26 2238,300.3 2240.5,299.7 2247.9,299.63 2251,300.16 2254.1,301.06 2251,302.02 2247.9,302.63 2240.5,302.7 2238,302.16"/>
<polygon points="2259.2,300.01 2273,298.62 2286.8,297.71 2509.1,295.36 2520.4,295.99 2531.7,297.12 2520.4,298.48 2509.1,299.36 2286.8,301.71 2273,301.1"/>
<polygon points="2532.5,297.11 2543.9,295.74 2555.2,294.87 2618.1,294.2 2624.4,294.89 2630.7,296.07 2624.4,297.37 2618.1,298.2 2555.2,298.87 2543.9,298.23"/>
<polygon points="2658.3,296.17 2663.4,295 2668.4,294.27 2674.7,294.2 2674.7,294.2 2674.7,297.8 2674.7,297.8 2668.4,297.87 2663.4,297.24"/>
<polygon points="1842.2,352.12 1842.2,352.12 1856.4,352 1858,352.74 1859.5,353.97 1858,355.23 1856.4,356 1842.2,356.12 1842.2,356.12"/>
<polygon points="1857.7,354.79 1860.1,353.77 1862.5,353.15 1863.4,353.14 1866,353.72 1868.6,354.69 1866,355.71 1863.4,356.34 1862.5,356.35 1860.1,355.76"/>
<polygon points="1868.6,353.89 1871.1,352.63 1873.6,351.85 1911,351.52 1912.5,352.27 1914,353.49 1912.5,354.75 1911,355.52 1873.6,355.85 1871.1,355.11"/>
<polygon points="1912.5,353.71 1914.1,352.51 1915.6,351.78 1921.9,351.72 1925,352.42 1928.1,353.57 1925,354.78 1921.9,355.52 1915.6,355.58 1914.1,354.87"/>
<polygon points="1927.9,353.77 1931.7,352.62 1935.5,351.91 1948.1,351.79 1955.6,352.41 1963.2,353.46 1955.6,354.65 1948.1,355.39 1935.5,355.51 1931.7,354.86"/>
<polygon points="1968,353.22 1974.3,351.98 1980.6,351.21 1997.3,351.06 2011.2,351.66 2025,352.72 2011.2,354.02 1997.3,354.86 1980.6,355.01 1974.3,354.34"/>
<polygon points="2043.2,353.76 2050.2,352.89 2057.1,352.34 2059.2,352.32 2066.1,352.75 2073,353.5 2066.1,354.37 2059.2,354.92 2057.1,354.94 2050.2,354.51"/>
<polygon points="2073.6,352.09 2090,350.71 2106.3,349.81 2188.1,349.09 2198.2,349.76 2208.2,350.91 2198.2,352.24 2188.1,353.09 2106.3,353.81 2090,353.19"/>
<polygon points="2208.4,351.91 2213.5,350.93 2218.5,350.32 2223.7,350.27 2227.5,350.81 2231.3,351.71 2227.5,352.67 2223.7,353.27 2218.5,353.32 2213.5,352.8"/>
<polygon points="2229.4,350.93 2234.4,349.7 2239.5,348.94 2268.8,348.68 2280.1,349.3 2291.5,350.38 2280.1,351.66 2268.8,352.48 2239.5,352.74 2234.4,352.06"/>
<polygon points="2291.7,350.18 2311.8,348.76 2331.9,347.83 2385.2,347.36 2385.9,348.11 2386.7,349.34 2385.9,350.59 2385.2,351.36 2331.9,351.83 2311.8,351.24"/>
<polygon points="2385.8,349.95 2386.5,348.89 2387.3,348.24 2395,348.17 2395.8,348.81 2396.5,349.86 2395.8,350.92 2395,351.57 2387.3,351.64 2386.5,351"/>
<polygon points="2395.6,349.27 2396.4,348.02 2397.1,347.25 2467.8,346.63 2469.3,347.38 2470.8,348.61 2469.3,349.86 2467.8,350.63 2397.1,351.25 2396.4,350.5"/>
<polygon points="2470.8,349.21 2472.3,348.14 2473.8,347.48 2487.1,347.36 2493.3,347.95 2499.6,348.95 2493.3,350.06 2487.1,350.76 2473.8,350.88 2472.3,350.25"/>
<polygon points="2541.6,348.18 2547.9,346.95 2554.1,346.17 2595,345.82 2596.3,346.52 2597.5,347.69 2596.3,348.88 2595,349.62 2554.1,349.97 2547.9,349.31"/>
<polygon points="2597.7,347.89 2599,346.76 2600.3,346.07 2621.2,345.89 2628.8,346.5 2636.3,347.55 2628.8,348.74 2621.2,349.49 2600.3,349.67 2599,349"/>
<polygon points="2638.6,347.33 2646.2,346.09 2653.7,345.3 2674.7,345.12 2674.7,345.12 2674.7,348.92 2674.7,348.92 2653.7,349.1 2646.2,348.45"/>
<polygon points="1842.2,388.52 1842.2,388.52 1856.4,388.4 1858,389.14 1859.5,390.37 1858,391.63 1856.4,392.4 1842.2,392.52 1842.2,392.52"/>
<polygon points="1857.7,391.19 1860.1,390.17 1862.5,389.55 1863.4,389.54 1866,390.12 1868.6,391.09 1866,392.11 1863.4,392.74 1862.5,392.75 1860.1,392.16"/>
<polygon points="1868.6,390.29 1871.1,389.03 1873.6,388.25 1911,387.92 1912.5,388.67 1914,389.89 1912.5,391.15 1911,391.92 1873.6,392.25 1871.1,391.51"/>
<polygon points="1912.5,390.11 1914.1,388.91 1915.6,388.18 1921.9,388.12 1925,388.82 1928.1,389.97 1925,391.18 1921.9,391.92 1915.6,391.98 1914.1,391.27"/>
<polygon points="1927.9,390.17 1931.7,389.02 1935.5,388.31 1948.1,388.19 1955.6,388.81 1963.2,389.86 1955.6,391.05 1948.1,391.79 1935.5,391.91 1931.7,391.26"/>
<polygon points="1968,389.62 1974.3,388.38 1980.6,387.61 1997.3,387.46 2011.2,388.06 2025,389.12 2011.2,390.42 1997.3,391.26 1980.6,391.41 1974.3,390.74"/>
<polygon points="2043.2,390.16 2050.2,389.29 2057.1,388.74 2059.2,388.72 2066.1,389.15 2073,389.9 2066.1,390.77 2059.2,391.32 2057.1,391.34 2050.2,390.91"/>
<polygon points="2073.6,388.49 2090,387.11 2106.3,386.21 2188.1,385.49 2198.2,386.16 2208.2,387.31 2198.2,388.64 2188.1,389.49 2106.3,390.21 2090,389.59"/>
<polygon points="2208.4,388.31 2213.5,387.33 2218.5,386.72 2223.7,386.67 2227.5,387.21 2231.3,388.11 2227.5,389.07 2223.7,389.67 2218.5,389.72 2213.5,389.2"/>
<polygon points="2229.4,387.33 2234.4,386.1 2239.5,385.34 2268.8,385.08 2280.1,385.7 2291.5,386.78 2280.1,388.06 2268.8,388.88 2239.5,389.14 2234.4,388.46"/>
<polygon points="2291.7,386.58 2311.8,385.16 2331.9,384.23 2385.2,383.76 2385.9,384.51 2386.7,385.74 2385.9,386.99 2385.2,387.76 2331.9,388.23 2311.8,387.64"/>
<polygon points="2385.8,386.35 2386.5,385.29 2387.3,384.64 2395,384.57 2395.8,385.21 2396.5,386.26 2395.8,387.32 2395,387.97 2387.3,388.04 2386.5,387.4"/>
<polygon points="2395.6,385.67 2396.4,384.42 2397.1,383.65 2467.8,383.03 2469.3,383.78 2470.8,385.01 2469.3,386.26 2467.8,387.03 2397.1,387.65 2396.4,386.9"/>
<polygon points="2470.8,385.61 2472.3,384.54 2473.8,383.88 2487.1,383.76 2493.3,384.35 2499.6,385.35 2493.3,386.46 2487.1,387.16 2473.8,387.28 2472.3,386.65"/>
<polygon points="2541.6,384.58 2547.9,383.35 2554.1,382.57 2595,382.22 2596.3,382.92 2597.5,384.09 2596.3,385.28 2595,386.02 2554.1,386.37 2547.9,385.71"/>
<polygon points="2597.7,384.29 2599,383.16 2600.3,382.47 2621.2,382.29 2628.8,382.9 2636.3,383.95 2628.8,385.14 2621.2,385.89 2600.3,386.07 2599,385.4"/>
<polygon points="2638.6,383.73 2646.2,382.49 2653.7,381.7 2674.7,381.52 2674.7,381.52 2674.7,385.32 2674.7,385.32 2653.7,385.5 2646.2,384.85"/>
<polygon points="1830,449.23 1830,449.23 1954.8,448.16 1957.2,448.9 1959.6,450.12 1957.2,451.38 1954.8,452.16 1830,453.23 1830,453.23"/>
<polygon points="1955.4,450.16 1957.8,448.89 1960.2,448.12 2052.3,447.33 2054.7,448.07 2057.1,449.29 2054.7,450.55 2052.3,451.33 1960.2,452.12 1957.8,451.38"/>
<polygon points="2052.9,449.33 2055.3,448.06 2057.7,447.28 2220.2,445.9 2222.6,446.63 2225,447.86 2222.6,449.12 2220.2,449.9 2057.7,451.28 2055.3,450.55"/>
<polygon points="2221.3,447.89 2222.3,446.64 2223.3,445.87 2224.4,446.62 2225.4,447.85 2224.4,449.1 2223.3,449.87 2222.3,449.12"/>
<polygon points="2221.6,447.88 2224,446.62 2226.4,445.84 2601.8,442.64 2604.2,443.38 2606.6,444.6 2604.2,445.86 2601.8,446.64 2226.4,449.84 2224,449.11"/>
<polygon points="2602.4,444.64 2604.8,443.37 2607.1,442.59 2680.1,441.97 2680.1,441.97 2680.1,445.97 2680.1,445.97 2607.1,446.59 2604.8,445.86"/>
<polygon points="1830,486.03 1830,486.03 1954.8,484.98 1957.2,485.71 1959.6,486.94 1957.2,488.2 1954.8,488.98 1830,490.03 1830,490.03"/>
<polygon points="1955.4,486.97 1957.8,485.71 1960.2,484.93 2052.3,484.16 2054.7,484.89 2057.1,486.12 2054.7,487.38 2052.3,488.16 1960.2,488.93 1957.8,488.19"/>
<polygon points="2052.9,486.15 2055.3,484.89 2057.7,484.11 2220.2,482.74 2222.6,483.48 2225,484.7 2222.6,485.96 2220.2,486.74 2057.7,488.11 2055.3,487.37"/>
<polygon points="2221.3,484.73 2222.3,483.48 2223.3,482.72 2224.4,483.47 2225.4,484.7 2224.4,485.95 2223.3,486.72 2222.3,485.97"/>
<polygon points="2221.6,484.73 2224,483.47 2226.4,482.69 2601.8,479.53 2604.2,480.27 2606.6,481.49 2604.2,482.75 2601.8,483.53 2226.4,486.69 2224,485.95"/>
<polygon points="2602.4,481.53 2604.8,480.27 2607.1,479.49 2680.1,478.87 2680.1,478.87 2680.1,482.87 2680.1,482.87 2607.1,483.49 2604.8,482.75"/>
<polygon points="1830,559.11 1830,559.11 2680.1,552.79 2680.1,552.79 2680.1,556.79 2680.1,556.79 1830,563.11 1830,563.11"/>
<polygon points="1830,596.31 1830,596.31 2680.1,590.19 2680.1,590.19 2680.1,594.19 2680.1,594.19 1830,600.31 1830,600.31"/>
<polygon points="1830,685.59 1830,685.59 2680.1,680.71 2680.1,680.71 2680.1,684.71 2680.1,684.71 1830,689.59 1830,689.59"/>
<polygon points="1830,723.19 1830,723.19 2680.1,718.01 2680.1,718.01 2680.1,722.01 2680.1,722.01 1830,727.19 1830,727.19"/>
</g>
<g opacity="0.02">
<polygon points="1842.2,185.13 1842.2,185.13 1896.3,184.55 1898,186.05 1899.8,188.51 1898,191.01 1896.3,192.55 1842.2,193.13 1842.2,193.13"/>
<polygon points="1897.8,188.53 1899.6,186.03 1901.3,184.5 2001.5,183.42 2010.3,184.84 2019.1,187.23 2010.3,189.81 2001.5,191.42 1901.3,192.5 1899.6,191"/>
<polygon points="2018.5,187.51 2027.3,185.06 2036.1,183.52 2046.6,183.41 2048.1,184.84 2049.6,187.18 2048.1,189.56 2046.6,191.01 2036.1,191.12 2027.3,189.78"/>
<polygon points="2047.8,187.2 2049.3,184.82 2050.8,183.37 2085.4,183 2094.2,184.34 2103,186.61 2094.2,189.06 2085.4,190.6 2050.8,190.97 2049.3,189.54"/>
<polygon points="2116.3,187.84 2121.1,186.05 2125.8,184.94 2126.7,184.93 2131.5,185.94 2136.2,187.62 2131.5,189.41 2126.7,190.53 2125.8,190.54 2121.1,189.53"/>
<polygon points="2167.4,185.92 2176.2,183.46 2185,181.93 2204.9,181.71 2211.2,183.09 2217.5,185.38 2211.2,187.81 2204.9,189.31 2185,189.53 2176.2,188.18"/>
<polygon points="2217,187.03 2219.6,185.39 2222.2,184.38 2222.6,184.37 2225.2,185.33 2227.7,186.92 2225.2,188.56 2222.6,189.57 2222.2,189.58 2219.6,188.62"/>
<polygon points="2230.5,186.06 2235.5,184.02 2240.5,182.76 2250.4,182.65 2251.6,183.85 2252.9,185.82 2251.6,187.82 2250.4,189.05 2240.5,189.16 2235.5,188"/>
<polygon points="2251.2,185.29 2252.5,183.04 2253.7,181.66 2267.8,181.51 2280.3,182.74 2292.9,184.84 2280.3,187.21 2267.8,188.71 2253.7,188.86 2252.5,187.51"/>
<polygon points="2292.1,184.3 2311,181.62 2329.8,179.9 2399.4,179.15 2400.4,180.66 2401.4,183.13 2400.4,185.62 2399.4,187.15 2329.8,187.9 2311,186.58"/>
<polygon points="2401.8,183.13 2402.8,180.63 2403.8,179.1 2469.4,178.4 2471.2,179.9 2473,182.36 2471.2,184.86 2469.4,186.4 2403.8,187.1 2402.8,185.6"/>
<polygon points="2472.6,184.29 2475,182.65 2477.4,181.64 2478.4,181.63 2481.1,182.58 2483.8,184.17 2481.1,185.81 2478.4,186.83 2477.4,186.84 2475,185.88"/>
<polygon points="2484.1,182.24 2486.6,179.73 2489.2,178.19 2527.9,177.77 2531.7,179.25 2535.5,181.69 2531.7,184.22 2527.9,185.77 2489.2,186.19 2486.6,184.7"/>
<polygon points="2537,181.68 2544.5,179.11 2552,177.51 2674.7,176.2 2674.7,176.2 2674.7,184.2 2674.7,184.2 2552,185.51 2544.5,184.08"/>
<polygon points="1842.2,221.53 1842.2,221.53 1896.3,220.94 1898,222.43 1899.8,224.9 1898,227.4 1896.3,228.94 1842.2,229.53 1842.2,229.53"/>
<polygon points="1897.8,224.92 1899.6,222.42 1901.3,220.88 2001.5,219.78 2010.3,221.2 2019.1,223.59 2010.3,226.17 2001.5,227.78 1901.3,228.88 1899.6,227.39"/>
<polygon points="2018.5,223.87 2027.3,221.41 2036.1,219.88 2046.6,219.76 2048.1,221.19 2049.6,223.53 2048.1,225.91 2046.6,227.36 2036.1,227.48 2027.3,226.13"/>
<polygon points="2047.8,223.55 2049.3,221.17 2050.8,219.72 2085.4,219.34 2094.2,220.68 2103,222.94 2094.2,225.4 2085.4,226.94 2050.8,227.32 2049.3,225.89"/>
<polygon points="2116.3,224.17 2121.1,222.38 2125.8,221.27 2126.7,221.26 2131.5,222.27 2136.2,223.95 2131.5,225.75 2126.7,226.86 2125.8,226.87 2121.1,225.86"/>
<polygon points="2167.4,222.24 2176.2,219.78 2185,218.24 2204.9,218.03 2211.2,219.4 2217.5,221.69 2211.2,224.12 2204.9,225.63 2185,225.84 2176.2,224.5"/>
<polygon points="2217,223.34 2219.6,221.7 2222.2,220.69 2222.6,220.68 2225.2,221.64 2227.7,223.22 2225.2,224.87 2222.6,225.88 2222.2,225.89 2219.6,224.93"/>
<polygon points="2230.5,222.37 2235.5,220.33 2240.5,219.06 2250.4,218.95 2251.6,220.15 2252.9,222.12 2251.6,224.12 2250.4,225.35 2240.5,225.46 2235.5,224.3"/>
<polygon points="2251.2,221.59 2252.5,219.34 2253.7,217.96 2267.8,217.81 2280.3,219.04 2292.9,221.13 2280.3,223.51 2267.8,225.01 2253.7,225.16 2252.5,223.81"/>
<polygon points="2292.1,220.59 2311,217.9 2329.8,216.18 2399.4,215.42 2400.4,216.92 2401.4,219.39 2400.4,221.89 2399.4,223.42 2329.8,224.18 2311,222.87"/>
<polygon points="2401.8,219.39 2402.8,216.89 2403.8,215.37 2469.4,214.65 2471.2,216.14 2473,218.61 2471.2,221.11 2469.4,222.65 2403.8,223.37 2402.8,221.86"/>
<polygon points="2472.6,220.54 2475,218.9 2477.4,217.88 2478.4,217.87 2481.1,218.83 2483.8,220.42 2481.1,222.06 2478.4,223.07 2477.4,223.08 2475,222.13"/>
<polygon points="2484.1,218.49 2486.6,215.97 2489.2,214.43 2527.9,214.01 2531.7,215.48 2535.5,217.92 2531.7,220.45 2527.9,222.01 2489.2,222.43 2486.6,220.94"/>
<polygon points="2537,217.91 2544.5,215.34 2552,213.74 2674.7,212.39 2674.7,212.39 2674.7,220.39 2674.7,220.39 2552,221.74 2544.5,220.31"/>
<polygon points="1842.2,261.73 1842.2,261.73 1852.7,261.63 1855.8,263.11 1859,265.57 1855.8,268.08 1852.7,269.63 1842.2,269.73 1842.2,269.73"/>
<polygon points="1857.9,266.13 1861.1,263.86 1864.2,262.46 1871.5,262.39 1874.7,263.73 1877.8,265.93 1874.7,268.2 1871.5,269.59 1864.2,269.66 1861.1,268.33"/>
<polygon points="1877.3,267.31 1878.9,265.68 1880.5,264.68 1880.6,264.68 1882.1,265.65 1883.6,267.25 1882.1,268.88 1880.6,269.88 1880.5,269.88 1878.9,268.91"/>
<polygon points="1882.7,265.34 1890.2,262.78 1897.7,261.19 2098,259.26 2101.1,260.75 2104.2,263.2 2101.1,265.72 2098,267.26 1897.7,269.19 1890.2,267.75"/>
<polygon points="2108.9,263.43 2113.9,261.02 2118.9,259.54 2138.8,259.34 2145.1,260.72 2151.4,263.02 2145.1,265.44 2138.8,266.94 2118.9,267.14 2113.9,265.74"/>
<polygon points="2149.9,262.76 2157.5,260.21 2165,258.62 2232.1,257.97 2234,259.47 2235.9,261.93 2234,264.44 2232.1,265.97 2165,266.62 2157.5,265.17"/>
<polygon points="2235.5,263.31 2238,261.43 2240.5,260.26 2247.9,260.19 2251,261.3 2254.1,263.13 2251,265.03 2247.9,266.19 2240.5,266.26 2238,265.15"/>
<polygon points="2259.2,261.71 2273,259.09 2286.8,257.44 2509.1,255.3 2520.4,256.71 2531.7,259.08 2520.4,261.68 2509.1,263.3 2286.8,265.44 2273,264.06"/>
<polygon points="2532.5,259.08 2543.9,256.48 2555.2,254.86 2618.1,254.25 2624.4,255.71 2630.7,258.13 2624.4,260.68 2618.1,262.25 2555.2,262.86 2543.9,261.45"/>
<polygon points="2658.3,258.42 2663.4,256.13 2668.4,254.72 2674.7,254.66 2674.7,254.66 2674.7,261.86 2674.7,261.86 2668.4,261.92 2663.4,260.6"/>
<polygon points="1842.2,298.93 1842.2,298.93 1852.7,298.82 1855.8,300.3 1859,302.75 1855.8,305.27 1852.7,306.82 1842.2,306.93 1842.2,306.93"/>
<polygon points="1857.9,303.31 1861.1,301.04 1864.2,299.65 1871.5,299.57 1874.7,300.9 1877.8,303.1 1874.7,305.37 1871.5,306.77 1864.2,306.85 1861.1,305.52"/>
<polygon points="1877.3,304.48 1878.9,302.85 1880.5,301.85 1880.6,301.85 1882.1,302.82 1883.6,304.42 1882.1,306.05 1880.6,307.05 1880.5,307.05 1878.9,306.08"/>
<polygon points="1882.7,302.5 1890.2,299.94 1897.7,298.34 2098,296.22 2101.1,297.7 2104.2,300.15 2101.1,302.67 2098,304.22 1897.7,306.34 1890.2,304.9"/>
<polygon points="2108.9,300.38 2113.9,297.96 2118.9,296.47 2138.8,296.26 2145.1,297.63 2151.4,299.92 2145.1,302.35 2138.8,303.86 2118.9,304.07 2113.9,302.68"/>
<polygon points="2149.9,299.66 2157.5,297.1 2165,295.5 2232.1,294.79 2234,296.29 2235.9,298.75 2234,301.26 2232.1,302.79 2165,303.5 2157.5,302.07"/>
<polygon points="2235.5,300.13 2238,298.24 2240.5,297.08 2247.9,297 2251,298.1 2254.1,299.93 2251,301.83 2247.9,303 2240.5,303.08 2238,301.97"/>
<polygon points="2259.2,298.51 2273,295.88 2286.8,294.21 2509.1,291.86 2520.4,293.25 2531.7,295.62 2520.4,298.22 2509.1,299.86 2286.8,302.21 2273,300.84"/>
<polygon points="2532.5,295.61 2543.9,293 2555.2,291.37 2618.1,290.7 2624.4,292.15 2630.7,294.57 2624.4,297.12 2618.1,298.7 2555.2,299.37 2543.9,297.97"/>
<polygon points="2658.3,294.82 2663.4,292.53 2668.4,291.12 2674.7,291.05 2674.7,291.05 2674.7,298.25 2674.7,298.25 2668.4,298.32 2663.4,297"/>
<polygon points="1842.2,348.62 1842.2,348.62 1856.4,348.5 1858,350 1859.5,352.47 1858,354.97 1856.4,356.5 1842.2,356.62 1842.2,356.62"/>
<polygon points="1857.7,353.59 1860.1,351.58 1862.5,350.35 1863.4,350.34 1866,351.53 1868.6,353.49 1866,355.5 1863.4,356.74 1862.5,356.75 1860.1,355.55"/>
<polygon points="1868.6,352.39 1871.1,349.89 1873.6,348.35 1911,348.02 1912.5,349.52 1914,351.99 1912.5,354.49 1911,356.02 1873.6,356.35 1871.1,354.85"/>
<polygon points="1912.5,352.28 1914.1,349.91 1915.6,348.46 1921.9,348.4 1925,349.81 1928.1,352.14 1925,354.53 1921.9,356 1915.6,356.06 1914.1,354.63"/>
<polygon points="1927.9,352.42 1931.7,350.15 1935.5,348.76 1948.1,348.64 1955.6,349.94 1963.2,352.11 1955.6,354.41 1948.1,355.84 1935.5,355.96 1931.7,354.62"/>
<polygon points="1968,351.8 1974.3,349.38 1980.6,347.88 1997.3,347.74 2011.2,349.06 2025,351.29 2011.2,353.78 1997.3,355.34 1980.6,355.48 1974.3,354.1"/>
<polygon points="2043.2,352.78 2050.2,351.11 2057.1,350.06 2059.2,350.04 2066.1,350.97 2073,352.52 2066.1,354.2 2059.2,355.24 2057.1,355.26 2050.2,354.34"/>
<polygon points="2073.6,350.59 2090,347.96 2106.3,346.31 2188.1,345.59 2198.2,347.01 2208.2,349.41 2198.2,351.98 2188.1,353.59 2106.3,354.31 2090,352.93"/>
<polygon points="2208.4,350.78 2213.5,348.88 2218.5,347.7 2223.7,347.65 2227.5,348.75 2231.3,350.58 2227.5,352.48 2223.7,353.65 2218.5,353.7 2213.5,352.6"/>
<polygon points="2229.4,349.5 2234.4,347.1 2239.5,345.61 2268.8,345.35 2280.1,346.69 2291.5,348.96 2280.1,351.41 2268.8,352.95 2239.5,353.21 2234.4,351.82"/>
<polygon points="2291.7,348.68 2311.8,346.02 2331.9,344.33 2385.2,343.86 2385.9,345.37 2386.7,347.84 2385.9,350.34 2385.2,351.86 2331.9,352.33 2311.8,350.99"/>
<polygon points="2385.8,348.68 2386.5,346.56 2387.3,345.26 2395,345.2 2395.8,346.48 2396.5,348.58 2395.8,350.7 2395,352 2387.3,352.06 2386.5,350.78"/>
<polygon points="2395.6,347.77 2396.4,345.27 2397.1,343.75 2467.8,343.13 2469.3,344.63 2470.8,347.11 2469.3,349.6 2467.8,351.13 2397.1,351.75 2396.4,350.24"/>
<polygon points="2470.8,347.93 2472.3,345.81 2473.8,344.5 2487.1,344.39 2493.3,345.62 2499.6,347.68 2493.3,349.84 2487.1,351.19 2473.8,351.3 2472.3,350.03"/>
<polygon points="2541.6,346.76 2547.9,344.34 2554.1,342.85 2595,342.49 2596.3,343.92 2597.5,346.27 2596.3,348.64 2595,350.09 2554.1,350.45 2547.9,349.06"/>
<polygon points="2597.7,346.54 2599,344.29 2600.3,342.92 2621.2,342.74 2628.8,344.03 2636.3,346.2 2628.8,348.5 2621.2,349.94 2600.3,350.12 2599,348.77"/>
<polygon points="2638.6,345.91 2646.2,343.48 2653.7,341.97 2674.7,341.79 2674.7,341.79 2674.7,349.39 2674.7,349.39 2653.7,349.57 2646.2,348.2"/>
<polygon points="1842.2,385.02 1842.2,385.02 1856.4,384.9 1858,386.4 1859.5,388.87 1858,391.37 1856.4,392.9 1842.2,393.02 1842.2,393.02"/>
<polygon points="1857.7,389.99 1860.1,387.98 1862.5,386.75 1863.4,386.74 1866,387.93 1868.6,389.89 1866,391.9 1863.4,393.14 1862.5,393.15 1860.1,391.95"/>
<polygon points="1868.6,388.79 1871.1,386.29 1873.6,384.75 1911,384.42 1912.5,385.92 1914,388.39 1912.5,390.89 1911,392.42 1873.6,392.75 1871.1,391.25"/>
<polygon points="1912.5,388.68 1914.1,386.31 1915.6,384.86 1921.9,384.8 1925,386.21 1928.1,388.54 1925,390.93 1921.9,392.4 1915.6,392.46 1914.1,391.03"/>
<polygon points="1927.9,388.82 1931.7,386.55 1935.5,385.16 1948.1,385.04 1955.6,386.34 1963.2,388.51 1955.6,390.81 1948.1,392.24 1935.5,392.36 1931.7,391.02"/>
<polygon points="1968,388.2 1974.3,385.78 1980.6,384.28 1997.3,384.14 2011.2,385.46 2025,387.69 2011.2,390.18 1997.3,391.74 1980.6,391.88 1974.3,390.5"/>
<polygon points="2043.2,389.18 2050.2,387.51 2057.1,386.46 2059.2,386.44 2066.1,387.37 2073,388.92 2066.1,390.6 2059.2,391.64 2057.1,391.66 2050.2,390.74"/>
<polygon points="2073.6,386.99 2090,384.36 2106.3,382.71 2188.1,381.99 2198.2,383.41 2208.2,385.81 2198.2,388.38 2188.1,389.99 2106.3,390.71 2090,389.33"/>
<polygon points="2208.4,387.18 2213.5,385.28 2218.5,384.1 2223.7,384.05 2227.5,385.15 2231.3,386.98 2227.5,388.88 2223.7,390.05 2218.5,390.1 2213.5,389"/>
<polygon points="2229.4,385.9 2234.4,383.5 2239.5,382.01 2268.8,381.75 2280.1,383.09 2291.5,385.36 2280.1,387.81 2268.8,389.35 2239.5,389.61 2234.4,388.22"/>
<polygon points="2291.7,385.08 2311.8,382.42 2331.9,380.73 2385.2,380.26 2385.9,381.77 2386.7,384.24 2385.9,386.74 2385.2,388.26 2331.9,388.73 2311.8,387.39"/>
<polygon points="2385.8,385.08 2386.5,382.96 2387.3,381.66 2395,381.6 2395.8,382.88 2396.5,384.98 2395.8,387.1 2395,388.4 2387.3,388.46 2386.5,387.18"/>
<polygon points="2395.6,384.17 2396.4,381.67 2397.1,380.15 2467.8,379.53 2469.3,381.03 2470.8,383.51 2469.3,386 2467.8,387.53 2397.1,388.15 2396.4,386.64"/>
<polygon points="2470.8,384.33 2472.3,382.21 2473.8,380.9 2487.1,380.79 2493.3,382.02 2499.6,384.08 2493.3,386.24 2487.1,387.59 2473.8,387.7 2472.3,386.43"/>
<polygon points="2541.6,383.16 2547.9,380.74 2554.1,379.25 2595,378.89 2596.3,380.32 2597.5,382.67 2596.3,385.04 2595,386.49 2554.1,386.85 2547.9,385.46"/>
<polygon points="2597.7,382.94 2599,380.69 2600.3,379.32 2621.2,379.14 2628.8,380.43 2636.3,382.6 2628.8,384.9 2621.2,386.34 2600.3,386.52 2599,385.17"/>
<polygon points="2638.6,382.31 2646.2,379.88 2653.7,378.37 2674.7,378.19 2674.7,378.19 2674.7,385.79 2674.7,385.79 2653.7,385.97 2646.2,384.6"/>
<polygon points="1830,445.73 1830,445.73 1954.8,444.66 1957.2,446.16 1959.6,448.62 1957.2,451.13 1954.8,452.66 1830,453.73 1830,453.73"/>
<polygon points="1955.4,448.66 1957.8,446.15 1960.2,444.62 2052.3,443.83 2054.7,445.33 2057.1,447.79 2054.7,450.29 2052.3,451.83 1960.2,452.62 1957.8,451.12"/>
<polygon points="2052.9,447.83 2055.3,445.32 2057.7,443.78 2220.2,442.4 2222.6,443.89 2225,446.36 2222.6,448.86 2220.2,450.4 2057.7,451.78 2055.3,450.29"/>
<polygon points="2221.3,446.39 2222.3,443.9 2223.3,442.37 2224.4,443.88 2225.4,446.35 2224.4,448.85 2223.3,450.37 2222.3,448.86"/>
<polygon points="2221.6,446.38 2224,443.88 2226.4,442.34 2601.8,439.14 2604.2,440.64 2606.6,443.1 2604.2,445.6 2601.8,447.14 2226.4,450.34 2224,448.85"/>
<polygon points="2602.4,443.14 2604.8,440.63 2607.1,439.09 2680.1,438.47 2680.1,438.47 2680.1,446.47 2680.1,446.47 2607.1,447.09 2604.8,445.6"/>
<polygon points="1830,482.53 1830,482.53 1954.8,481.48 1957.2,482.97 1959.6,485.44 1957.2,487.94 1954.8,489.48 1830,490.53 1830,490.53"/>
<polygon points="1955.4,485.47 1957.8,482.97 1960.2,481.43 2052.3,480.66 2054.7,482.15 2057.1,484.62 2054.7,487.12 2052.3,488.66 1960.2,489.43 1957.8,487.94"/>
<polygon points="2052.9,484.65 2055.3,482.15 2057.7,480.61 2220.2,479.24 2222.6,480.74 2225,483.2 2222.6,485.71 2220.2,487.24 2057.7,488.61 2055.3,487.11"/>
<polygon points="2221.3,483.23 2222.3,480.74 2223.3,479.22 2224.4,480.72 2225.4,483.2 2224.4,485.69 2223.3,487.22 2222.3,485.71"/>
<polygon points="2221.6,483.23 2224,480.73 2226.4,479.19 2601.8,476.03 2604.2,477.53 2606.6,479.99 2604.2,482.5 2601.8,484.03 2226.4,487.19 2224,485.7"/>
<polygon points="2602.4,480.03 2604.8,477.52 2607.1,475.99 2680.1,475.37 2680.1,475.37 2680.1,483.37 2680.1,483.37 2607.1,483.99 2604.8,482.49"/>
<polygon points="1830,555.61 1830,555.61 2680.1,549.29 2680.1,549.29 2680.1,557.29 2680.1,557.29 1830,563.61 1830,563.61"/>
<polygon points="1830,592.81 1830,592.81 2680.1,586.69 2680.1,586.69 2680.1,594.69 2680.1,594.69 1830,600.81 1830,600.81"/>
<polygon points="1830,682.09 1830,682.09 2680.1,677.21 2680.1,677.21 2680.1,685.21 2680.1,685.21 1830,690.09 1830,690.09"/>
<polygon points="1830,719.69 1830,719.69 2680.1,714.51 2680.1,714.51 2680.1,722.51 2680.1,722.51 1830,727.69 1830,727.69"/>
</g>
<polygon points="1842.2,192.69 1842.2,192.69 1896.3,192.11 1897.6,192.63 1898.6,193.26 1899.6,194.01 1898.6,194.79 1897.6,195.44 1896.3,195.99 1842.2,196.57 1842.2,196.57"/>
<polygon points="1898,194.03 1899,193.26 1900,192.61 1901.3,192.06 2001.5,190.98 2008.1,191.45 2013,192.03 2018,192.74 2013,193.56 2008.1,194.25 2001.5,194.86 1901.3,195.93 1900,195.41 1899,194.78"/>
<polygon points="2019.7,192.73 2024.6,191.97 2029.5,191.32 2036.1,190.75 2046.6,190.64 2047.7,191.13 2048.6,191.71 2049.4,192.41 2048.6,193.12 2047.7,193.72 2046.6,194.23 2036.1,194.34 2029.5,193.92 2024.6,193.38"/>
<polygon points="2048,192.42 2048.8,191.71 2049.7,191.11 2050.8,190.6 2085.4,190.23 2092,190.65 2096.9,191.19 2101.8,191.84 2096.9,192.6 2092,193.25 2085.4,193.82 2050.8,194.19 2049.7,193.7 2048.8,193.12"/>
<polygon points="2106.9,191.79 2107.5,191.66 2108.1,191.56 2109,191.46 2109.8,191.54 2110.4,191.63 2111,191.75 2110.4,191.87 2109.8,191.98 2109,192.07 2108.1,192 2107.5,191.9"/>
<polygon points="2116.9,191.68 2119.6,191.23 2122.3,190.84 2125.8,190.51 2126.7,190.5 2130.2,190.76 2132.9,191.09 2135.6,191.48 2132.9,191.93 2130.2,192.32 2126.7,192.66 2125.8,192.66 2122.3,192.4 2119.6,192.08"/>
<polygon points="2137.2,191.46 2138.9,191.16 2140.5,190.91 2142.8,190.68 2143.3,190.68 2145.5,190.85 2147.2,191.07 2148.9,191.34 2147.2,191.64 2145.5,191.9 2143.3,192.12 2142.8,192.13 2140.5,191.95 2138.9,191.73"/>
<polygon points="2155,191.27 2156.7,190.97 2158.4,190.72 2160.6,190.49 2161.1,190.49 2163.3,190.66 2165,190.88 2166.7,191.15 2165,191.45 2163.3,191.7 2161.1,191.93 2160.6,191.93 2158.4,191.76 2156.7,191.54"/>
<polygon points="2168.5,191.13 2173.5,190.37 2178.4,189.72 2185,189.16 2204.9,188.94 2209.6,189.39 2213.1,189.94 2216.6,190.61 2213.1,191.36 2209.6,191.99 2204.9,192.53 2185,192.75 2178.4,192.32 2173.5,191.78"/>
<polygon points="2217.4,190.6 2218.8,190.23 2220.2,189.91 2222.2,189.64 2222.6,189.63 2224.5,189.87 2226,190.15 2227.4,190.5 2226,190.87 2224.5,191.19 2222.6,191.46 2222.2,191.47 2220.2,191.23 2218.8,190.95"/>
<polygon points="2231.1,190.46 2233.9,189.88 2236.8,189.39 2240.5,188.97 2250.4,188.86 2251.3,189.24 2252,189.69 2252.7,190.22 2252,190.78 2251.3,191.24 2250.4,191.64 2240.5,191.74 2236.8,191.4 2233.9,190.97"/>
<polygon points="2251.4,190.24 2252.1,189.58 2252.8,189.03 2253.7,188.56 2267.8,188.41 2277.2,188.77 2284.2,189.24 2291.2,189.81 2284.2,190.54 2277.2,191.16 2267.8,191.72 2253.7,191.87 2252.8,191.42 2252.1,190.88"/>
<polygon points="2294.6,189.78 2305.2,188.9 2315.7,188.15 2329.8,187.46 2399.4,186.71 2400.2,187.24 2400.7,187.87 2401.3,188.63 2400.7,189.4 2400.2,190.04 2399.4,190.59 2329.8,191.34 2315.7,190.95 2305.2,190.42"/>
<polygon points="2401.9,188.62 2402.5,187.86 2403.1,187.21 2403.8,186.66 2469.4,185.96 2470.8,186.48 2471.7,187.11 2472.7,187.86 2471.7,188.64 2470.8,189.29 2469.4,189.84 2403.8,190.54 2403.1,190.01 2402.5,189.38"/>
<polygon points="2472.9,187.86 2474.3,187.49 2475.6,187.17 2477.4,186.9 2478.4,186.89 2480.4,187.12 2481.9,187.41 2483.4,187.75 2481.9,188.13 2480.4,188.44 2478.4,188.72 2477.4,188.73 2475.6,188.49 2474.3,188.21"/>
<polygon points="2484.5,187.74 2485.9,186.96 2487.3,186.31 2489.2,185.75 2527.9,185.33 2530.8,185.84 2532.9,186.46 2535,187.2 2532.9,187.98 2530.8,188.64 2527.9,189.21 2489.2,189.63 2487.3,189.11 2485.9,188.49"/>
<polygon points="2538,187.16 2542.2,186.36 2546.4,185.67 2552,185.07 2674.7,183.76 2674.7,183.76 2674.7,187.64 2674.7,187.64 2552,188.95 2546.4,188.47 2542.2,187.88"/>
<polygon points="1842.2,229.09 1842.2,229.09 1896.3,228.5 1897.6,229.02 1898.6,229.65 1899.6,230.4 1898.6,231.17 1897.6,231.82 1896.3,232.38 1842.2,232.97 1842.2,232.97"/>
<polygon points="1898,230.42 1899,229.64 1900,228.99 1901.3,228.44 2001.5,227.34 2008.1,227.81 2013,228.39 2018,229.1 2013,229.92 2008.1,230.61 2001.5,231.22 1901.3,232.32 1900,231.8 1899,231.17"/>
<polygon points="2019.7,229.08 2024.6,228.32 2029.5,227.68 2036.1,227.11 2046.6,226.99 2047.7,227.48 2048.6,228.06 2049.4,228.76 2048.6,229.47 2047.7,230.07 2046.6,230.58 2036.1,230.7 2029.5,230.27 2024.6,229.73"/>
<polygon points="2048,228.77 2048.8,228.06 2049.7,227.46 2050.8,226.95 2085.4,226.57 2092,226.99 2096.9,227.53 2101.8,228.18 2096.9,228.94 2092,229.59 2085.4,230.16 2050.8,230.54 2049.7,230.05 2048.8,229.47"/>
<polygon points="2106.9,228.13 2107.5,228 2108.1,227.89 2109,227.8 2109.8,227.87 2110.4,227.97 2111,228.08 2110.4,228.21 2109.8,228.31 2109,228.41 2108.1,228.33 2107.5,228.24"/>
<polygon points="2116.9,228.02 2119.6,227.56 2122.3,227.18 2125.8,226.84 2126.7,226.83 2130.2,227.09 2132.9,227.42 2135.6,227.81 2132.9,228.26 2130.2,228.65 2126.7,228.99 2125.8,229 2122.3,228.74 2119.6,228.41"/>
<polygon points="2137.2,227.79 2138.9,227.49 2140.5,227.24 2142.8,227.01 2143.3,227.01 2145.5,227.18 2147.2,227.4 2148.9,227.67 2147.2,227.97 2145.5,228.22 2143.3,228.45 2142.8,228.45 2140.5,228.28 2138.9,228.06"/>
<polygon points="2155,227.6 2156.7,227.3 2158.4,227.04 2160.6,226.82 2161.1,226.81 2163.3,226.99 2165,227.2 2166.7,227.47 2165,227.77 2163.3,228.03 2161.1,228.25 2160.6,228.26 2158.4,228.08 2156.7,227.86"/>
<polygon points="2168.5,227.45 2173.5,226.69 2178.4,226.04 2185,225.47 2204.9,225.26 2209.6,225.7 2213.1,226.25 2216.6,226.92 2213.1,227.67 2209.6,228.3 2204.9,228.85 2185,229.06 2178.4,228.64 2173.5,228.1"/>
<polygon points="2217.4,226.91 2218.8,226.54 2220.2,226.22 2222.2,225.95 2222.6,225.94 2224.5,226.17 2226,226.46 2227.4,226.8 2226,227.18 2224.5,227.5 2222.6,227.77 2222.2,227.78 2220.2,227.54 2218.8,227.26"/>
<polygon points="2231.1,226.76 2233.9,226.19 2236.8,225.7 2240.5,225.27 2250.4,225.16 2251.3,225.54 2252,225.99 2252.7,226.53 2252,227.08 2251.3,227.54 2250.4,227.94 2240.5,228.05 2236.8,227.7 2233.9,227.28"/>
<polygon points="2251.4,226.54 2252.1,225.88 2252.8,225.33 2253.7,224.86 2267.8,224.7 2277.2,225.06 2284.2,225.53 2291.2,226.1 2284.2,226.83 2277.2,227.45 2267.8,228.02 2253.7,228.17 2252.8,227.72 2252.1,227.18"/>
<polygon points="2294.6,226.07 2305.2,225.19 2315.7,224.43 2329.8,223.74 2399.4,222.98 2400.2,223.51 2400.7,224.14 2401.3,224.89 2400.7,225.66 2400.2,226.31 2399.4,226.85 2329.8,227.62 2315.7,227.24 2305.2,226.71"/>
<polygon points="2401.9,224.89 2402.5,224.12 2403.1,223.47 2403.8,222.93 2469.4,222.21 2470.8,222.73 2471.7,223.36 2472.7,224.11 2471.7,224.88 2470.8,225.53 2469.4,226.09 2403.8,226.81 2403.1,226.28 2402.5,225.64"/>
<polygon points="2472.9,224.11 2474.3,223.73 2475.6,223.42 2477.4,223.15 2478.4,223.13 2480.4,223.37 2481.9,223.65 2483.4,223.99 2481.9,224.37 2480.4,224.69 2478.4,224.96 2477.4,224.97 2475.6,224.74 2474.3,224.45"/>
<polygon points="2484.5,223.98 2485.9,223.2 2487.3,222.55 2489.2,221.99 2527.9,221.57 2530.8,222.07 2532.9,222.69 2535,223.43 2532.9,224.21 2530.8,224.88 2527.9,225.44 2489.2,225.87 2487.3,225.35 2485.9,224.73"/>
<polygon points="2538,223.4 2542.2,222.59 2546.4,221.9 2552,221.3 2674.7,219.96 2674.7,219.96 2674.7,223.83 2674.7,223.83 2552,225.18 2546.4,224.7 2542.2,224.11"/>
<polygon points="1842.2,269.24 1842.2,269.24 1852.7,269.13 1855,269.66 1856.8,270.3 1858.5,271.07 1856.8,271.87 1855,272.54 1852.7,273.12 1842.2,273.22 1842.2,273.22"/>
<polygon points="1858.3,271.07 1860.1,270.39 1861.9,269.81 1864.2,269.31 1871.5,269.24 1873.9,269.69 1875.7,270.24 1877.4,270.89 1875.7,271.57 1873.9,272.15 1871.5,272.64 1864.2,272.71 1861.9,272.27 1860.1,271.72"/>
<polygon points="1877.5,270.89 1878.4,270.51 1879.3,270.19 1880.5,269.92 1880.6,269.92 1881.7,270.17 1882.5,270.47 1883.4,270.83 1882.5,271.21 1881.7,271.52 1880.6,271.8 1880.5,271.8 1879.3,271.55 1878.4,271.25"/>
<polygon points="1883.7,270.83 1887.9,270 1892.1,269.31 1897.7,268.7 2098,266.77 2100.3,267.3 2102.1,267.94 2103.8,268.71 2102.1,269.51 2100.3,270.18 2098,270.75 1897.7,272.68 1892.1,272.19 1887.9,271.57"/>
<polygon points="2103.9,268.71 2104.8,268.47 2105.7,268.28 2106.9,268.11 2108,268.26 2108.9,268.43 2109.8,268.65 2108.9,268.88 2108,269.08 2106.9,269.25 2105.7,269.1 2104.8,268.92"/>
<polygon points="2109.5,268.65 2112.3,267.9 2115.2,267.26 2118.9,266.72 2138.8,266.53 2143.5,266.99 2147.1,267.57 2150.6,268.26 2147.1,269.01 2143.5,269.66 2138.8,270.21 2118.9,270.4 2115.2,269.93 2112.3,269.35"/>
<polygon points="2151,268.25 2155.2,267.43 2159.4,266.73 2165,266.13 2232.1,265.48 2233.5,266.02 2234.6,266.66 2235.7,267.44 2234.6,268.23 2233.5,268.9 2232.1,269.46 2165,270.11 2159.4,269.61 2155.2,268.99"/>
<polygon points="2235.8,267.44 2237.2,266.91 2238.6,266.47 2240.5,266.1 2247.9,266.03 2250.2,266.36 2252,266.77 2253.7,267.26 2252,267.79 2250.2,268.23 2247.9,268.61 2240.5,268.68 2238.6,268.34 2237.2,267.93"/>
<polygon points="2254.8,267.25 2255.8,266.95 2256.8,266.7 2258.2,266.48 2258.5,266.48 2259.8,266.67 2260.8,266.9 2261.8,267.18 2260.8,267.49 2259.8,267.74 2258.5,267.96 2258.2,267.96 2256.8,267.77 2255.8,267.53"/>
<polygon points="2261,267.19 2268.8,266.34 2276.5,265.6 2286.8,264.95 2509.1,262.81 2517.5,263.28 2523.9,263.88 2530.2,264.6 2523.9,265.44 2517.5,266.16 2509.1,266.79 2286.8,268.93 2276.5,268.48 2268.8,267.9"/>
<polygon points="2534.1,264.56 2540.4,263.72 2546.7,263 2555.2,262.37 2618.1,261.76 2622.8,262.27 2626.3,262.89 2629.8,263.64 2626.3,264.46 2622.8,265.15 2618.1,265.74 2555.2,266.35 2546.7,265.88 2540.4,265.28"/>
<polygon points="2630.8,263.63 2633.3,263.35 2635.8,263.11 2639.2,262.9 2640,262.89 2643.3,263.04 2645.8,263.23 2648.3,263.46 2645.8,263.74 2643.3,263.98 2640,264.19 2639.2,264.2 2635.8,264.05 2633.3,263.86"/>
<polygon points="2649.1,263.45 2649.7,263.33 2650.3,263.22 2651.1,263.13 2651.9,263.21 2652.5,263.3 2653.1,263.42 2652.5,263.54 2651.9,263.65 2651.1,263.74 2650.3,263.66 2649.7,263.57"/>
<polygon points="2659,263.36 2661.8,262.66 2664.6,262.08 2668.4,261.57 2674.7,261.51 2674.7,261.51 2674.7,264.91 2674.7,264.91 2668.4,264.97 2664.6,264.53 2661.8,264"/>
<polygon points="1842.2,306.44 1842.2,306.44 1852.7,306.33 1855,306.85 1856.8,307.49 1858.5,308.26 1856.8,309.06 1855,309.73 1852.7,310.31 1842.2,310.42 1842.2,310.42"/>
<polygon points="1858.3,308.26 1860.1,307.57 1861.9,306.99 1864.2,306.5 1871.5,306.42 1873.9,306.86 1875.7,307.41 1877.4,308.06 1875.7,308.74 1873.9,309.32 1871.5,309.82 1864.2,309.9 1861.9,309.45 1860.1,308.91"/>
<polygon points="1877.5,308.05 1878.4,307.68 1879.3,307.36 1880.5,307.08 1880.6,307.08 1881.7,307.33 1882.5,307.63 1883.4,307.99 1882.5,308.37 1881.7,308.69 1880.6,308.96 1880.5,308.96 1879.3,308.71 1878.4,308.41"/>
<polygon points="1883.7,307.99 1887.9,307.16 1892.1,306.46 1897.7,305.85 2098,303.73 2100.3,304.25 2102.1,304.89 2103.8,305.65 2102.1,306.46 2100.3,307.13 2098,307.71 1897.7,309.83 1892.1,309.34 1887.9,308.73"/>
<polygon points="2103.9,305.65 2104.8,305.42 2105.7,305.22 2106.9,305.05 2108,305.2 2108.9,305.38 2109.8,305.59 2108.9,305.82 2108,306.02 2106.9,306.19 2105.7,306.05 2104.8,305.87"/>
<polygon points="2109.5,305.59 2112.3,304.84 2115.2,304.2 2118.9,303.65 2138.8,303.44 2143.5,303.9 2147.1,304.47 2150.6,305.16 2147.1,305.92 2143.5,306.57 2138.8,307.13 2118.9,307.34 2115.2,306.87 2112.3,306.29"/>
<polygon points="2151,305.15 2155.2,304.33 2159.4,303.63 2165,303.01 2232.1,302.3 2233.5,302.84 2234.6,303.48 2235.7,304.26 2234.6,305.05 2233.5,305.72 2232.1,306.28 2165,307 2159.4,306.5 2155.2,305.89"/>
<polygon points="2235.8,304.25 2237.2,303.73 2238.6,303.29 2240.5,302.91 2247.9,302.83 2250.2,303.17 2252,303.57 2253.7,304.06 2252,304.59 2250.2,305.04 2247.9,305.42 2240.5,305.5 2238.6,305.16 2237.2,304.75"/>
<polygon points="2254.8,304.05 2255.8,303.75 2256.8,303.5 2258.2,303.28 2258.5,303.27 2259.8,303.46 2260.8,303.7 2261.8,303.98 2260.8,304.28 2259.8,304.53 2258.5,304.75 2258.2,304.76 2256.8,304.57 2255.8,304.33"/>
<polygon points="2261,303.99 2268.8,303.12 2276.5,302.38 2286.8,301.72 2509.1,299.36 2517.5,299.83 2523.9,300.42 2530.2,301.13 2523.9,301.98 2517.5,302.7 2509.1,303.35 2286.8,305.7 2276.5,305.26 2268.8,304.69"/>
<polygon points="2534.1,301.09 2540.4,300.24 2546.7,299.52 2555.2,298.87 2618.1,298.21 2622.8,298.71 2626.3,299.33 2629.8,300.07 2626.3,300.89 2622.8,301.59 2618.1,302.19 2555.2,302.86 2546.7,302.39 2540.4,301.81"/>
<polygon points="2630.8,300.06 2633.3,299.78 2635.8,299.54 2639.2,299.33 2640,299.32 2643.3,299.46 2645.8,299.65 2648.3,299.88 2645.8,300.16 2643.3,300.4 2640,300.62 2639.2,300.62 2635.8,300.48 2633.3,300.29"/>
<polygon points="2649.1,299.87 2649.7,299.74 2650.3,299.64 2651.1,299.54 2651.9,299.62 2652.5,299.71 2653.1,299.83 2652.5,299.95 2651.9,300.06 2651.1,300.15 2650.3,300.08 2649.7,299.98"/>
<polygon points="2659,299.76 2661.8,299.07 2664.6,298.48 2668.4,297.96 2674.7,297.9 2674.7,297.9 2674.7,301.3 2674.7,301.3 2668.4,301.37 2664.6,300.93 2661.8,300.4"/>
<polygon points="1842.2,356.13 1842.2,356.13 1856.4,356.01 1857.6,356.55 1858.4,357.2 1859.3,357.97 1858.4,358.76 1857.6,359.43 1856.4,359.99 1842.2,360.12 1842.2,360.12"/>
<polygon points="1858.1,357.99 1859.4,357.41 1860.8,356.93 1862.5,356.52 1863.4,356.51 1865.4,356.89 1866.8,357.35 1868.3,357.9 1866.8,358.47 1865.4,358.95 1863.4,359.36 1862.5,359.37 1860.8,358.99 1859.4,358.53"/>
<polygon points="1868.9,357.89 1870.4,357.09 1871.8,356.43 1873.6,355.86 1911,355.53 1912.1,356.07 1912.9,356.72 1913.8,357.5 1912.9,358.29 1912.1,358.95 1911,359.51 1873.6,359.84 1871.8,359.3 1870.4,358.66"/>
<polygon points="1912.8,357.5 1913.6,356.77 1914.4,356.16 1915.6,355.64 1921.9,355.58 1924.2,356.07 1926,356.66 1927.7,357.37 1926,358.11 1924.2,358.74 1921.9,359.27 1915.6,359.32 1914.4,358.82 1913.6,358.22"/>
<polygon points="1928.4,357.37 1930.6,356.68 1932.7,356.1 1935.5,355.61 1948.1,355.49 1953.7,355.92 1957.9,356.44 1962.2,357.07 1957.9,357.78 1953.7,358.37 1948.1,358.9 1935.5,359.01 1932.7,358.56 1930.6,358.02"/>
<polygon points="1964.2,357.05 1965,356.91 1965.8,356.79 1966.9,356.68 1968,356.77 1968.8,356.87 1969.7,357.01 1968.8,357.15 1968,357.27 1966.9,357.38 1965.8,357.29 1965,357.18"/>
<polygon points="1968.8,357.01 1972.3,356.26 1975.9,355.62 1980.6,355.07 1997.3,354.92 2007.7,355.34 2015.4,355.88 2023.2,356.54 2015.4,357.33 2007.7,358 1997.3,358.61 1980.6,358.75 1975.9,358.28 1972.3,357.71"/>
<polygon points="2044.2,356.35 2048,355.93 2051.9,355.57 2057.1,355.25 2059.2,355.23 2064.3,355.46 2068.2,355.75 2072.1,356.11 2068.2,356.53 2064.3,356.89 2059.2,357.21 2057.1,357.23 2051.9,357 2048,356.71"/>
<polygon points="2075.8,356.07 2085,355.21 2094.1,354.47 2106.3,353.81 2188.1,353.1 2195.6,353.58 2201.3,354.19 2206.9,354.92 2201.3,355.75 2195.6,356.46 2188.1,357.08 2106.3,357.8 2094.1,357.35 2085,356.78"/>
<polygon points="2209.1,354.9 2211.9,354.37 2214.7,353.92 2218.5,353.53 2223.7,353.48 2226.6,353.82 2228.7,354.22 2230.8,354.71 2228.7,355.24 2226.6,355.68 2223.7,356.07 2218.5,356.11 2214.7,355.79 2211.9,355.39"/>
<polygon points="2230.1,354.72 2232.9,353.97 2235.7,353.34 2239.5,352.79 2268.8,352.54 2277.3,352.97 2283.6,353.52 2289.9,354.19 2283.6,354.97 2277.3,355.64 2268.8,356.22 2239.5,356.48 2235.7,356 2232.9,355.42"/>
<polygon points="2294.4,354.15 2305.6,353.27 2316.9,352.52 2331.9,351.83 2385.2,351.37 2385.7,351.91 2386.2,352.57 2386.6,353.35 2386.2,354.13 2385.7,354.79 2385.2,355.35 2331.9,355.82 2316.9,355.4 2305.6,354.84"/>
<polygon points="2385.9,353.35 2386.3,352.73 2386.7,352.22 2387.3,351.78 2395,351.71 2395.6,352.14 2396,352.65 2396.4,353.26 2396,353.88 2395.6,354.39 2395,354.83 2387.3,354.9 2386.7,354.47 2386.3,353.96"/>
<polygon points="2395.7,353.26 2396.1,352.48 2396.6,351.82 2397.1,351.26 2467.8,350.64 2468.9,351.18 2469.7,351.83 2470.6,352.61 2469.7,353.4 2468.9,354.06 2467.8,354.62 2397.1,355.24 2396.6,354.7 2396.1,354.04"/>
<polygon points="2471,352.6 2471.9,351.98 2472.7,351.46 2473.8,351.02 2487.1,350.9 2491.8,351.29 2495.3,351.78 2498.8,352.36 2495.3,353 2491.8,353.55 2487.1,354.02 2473.8,354.14 2472.7,353.72 2471.9,353.21"/>
<polygon points="2511.7,352.25 2512.4,352.13 2513,352.03 2513.8,351.95 2514.6,352.02 2515.2,352.1 2515.8,352.21 2515.2,352.33 2514.6,352.43 2513.8,352.51 2513,352.44 2512.4,352.35"/>
<polygon points="2525.9,352.12 2528.6,351.84 2531.3,351.61 2534.9,351.39 2539.7,351.35 2541.5,351.52 2542.8,351.72 2544.1,351.96 2542.8,352.23 2541.5,352.46 2539.7,352.65 2534.9,352.69 2531.3,352.54 2528.6,352.35"/>
<polygon points="2542.4,351.98 2545.9,351.22 2549.4,350.58 2554.1,350.03 2595,349.67 2596,350.17 2596.7,350.78 2597.4,351.49 2596.7,352.23 2596,352.84 2595,353.36 2554.1,353.72 2549.4,353.25 2545.9,352.67"/>
<polygon points="2597.9,351.49 2598.6,350.82 2599.3,350.25 2600.3,349.77 2621.2,349.59 2626.9,350.01 2631.1,350.53 2635.3,351.16 2631.1,351.87 2626.9,352.46 2621.2,352.99 2600.3,353.17 2599.3,352.71 2598.6,352.15"/>
<polygon points="2639.6,351.12 2643.9,350.36 2648.1,349.72 2653.7,349.16 2674.7,348.97 2674.7,348.97 2674.7,352.66 2674.7,352.66 2653.7,352.84 2648.1,352.38 2643.9,351.81"/>
<polygon points="1842.2,392.53 1842.2,392.53 1856.4,392.41 1857.6,392.95 1858.4,393.6 1859.3,394.37 1858.4,395.16 1857.6,395.83 1856.4,396.39 1842.2,396.52 1842.2,396.52"/>
<polygon points="1858.1,394.39 1859.4,393.81 1860.8,393.33 1862.5,392.92 1863.4,392.91 1865.4,393.29 1866.8,393.75 1868.3,394.3 1866.8,394.87 1865.4,395.35 1863.4,395.76 1862.5,395.77 1860.8,395.39 1859.4,394.93"/>
<polygon points="1868.9,394.29 1870.4,393.49 1871.8,392.83 1873.6,392.26 1911,391.93 1912.1,392.47 1912.9,393.12 1913.8,393.9 1912.9,394.69 1912.1,395.35 1911,395.91 1873.6,396.24 1871.8,395.7 1870.4,395.06"/>
<polygon points="1912.8,393.9 1913.6,393.17 1914.4,392.56 1915.6,392.04 1921.9,391.98 1924.2,392.47 1926,393.06 1927.7,393.77 1926,394.51 1924.2,395.14 1921.9,395.67 1915.6,395.72 1914.4,395.22 1913.6,394.62"/>
<polygon points="1928.4,393.77 1930.6,393.08 1932.7,392.5 1935.5,392.01 1948.1,391.89 1953.7,392.32 1957.9,392.84 1962.2,393.47 1957.9,394.18 1953.7,394.77 1948.1,395.3 1935.5,395.41 1932.7,394.96 1930.6,394.42"/>
<polygon points="1964.2,393.45 1965,393.31 1965.8,393.19 1966.9,393.08 1968,393.17 1968.8,393.27 1969.7,393.41 1968.8,393.55 1968,393.67 1966.9,393.78 1965.8,393.69 1965,393.58"/>
<polygon points="1968.8,393.41 1972.3,392.66 1975.9,392.02 1980.6,391.47 1997.3,391.32 2007.7,391.74 2015.4,392.28 2023.2,392.94 2015.4,393.73 2007.7,394.4 1997.3,395.01 1980.6,395.15 1975.9,394.68 1972.3,394.11"/>
<polygon points="2044.2,392.75 2048,392.33 2051.9,391.97 2057.1,391.65 2059.2,391.63 2064.3,391.86 2068.2,392.15 2072.1,392.51 2068.2,392.93 2064.3,393.29 2059.2,393.61 2057.1,393.63 2051.9,393.4 2048,393.11"/>
<polygon points="2075.8,392.47 2085,391.61 2094.1,390.87 2106.3,390.21 2188.1,389.5 2195.6,389.98 2201.3,390.59 2206.9,391.32 2201.3,392.15 2195.6,392.86 2188.1,393.48 2106.3,394.2 2094.1,393.75 2085,393.18"/>
<polygon points="2209.1,391.3 2211.9,390.77 2214.7,390.32 2218.5,389.93 2223.7,389.88 2226.6,390.22 2228.7,390.62 2230.8,391.11 2228.7,391.64 2226.6,392.08 2223.7,392.47 2218.5,392.51 2214.7,392.19 2211.9,391.79"/>
<polygon points="2230.1,391.12 2232.9,390.37 2235.7,389.74 2239.5,389.19 2268.8,388.94 2277.3,389.37 2283.6,389.92 2289.9,390.59 2283.6,391.37 2277.3,392.04 2268.8,392.62 2239.5,392.88 2235.7,392.4 2232.9,391.82"/>
<polygon points="2294.4,390.55 2305.6,389.67 2316.9,388.92 2331.9,388.23 2385.2,387.77 2385.7,388.31 2386.2,388.97 2386.6,389.75 2386.2,390.53 2385.7,391.19 2385.2,391.75 2331.9,392.22 2316.9,391.8 2305.6,391.24"/>
<polygon points="2385.9,389.75 2386.3,389.13 2386.7,388.62 2387.3,388.18 2395,388.11 2395.6,388.54 2396,389.05 2396.4,389.66 2396,390.28 2395.6,390.79 2395,391.23 2387.3,391.3 2386.7,390.87 2386.3,390.36"/>
<polygon points="2395.7,389.66 2396.1,388.88 2396.6,388.22 2397.1,387.66 2467.8,387.04 2468.9,387.58 2469.7,388.23 2470.6,389.01 2469.7,389.8 2468.9,390.46 2467.8,391.02 2397.1,391.64 2396.6,391.1 2396.1,390.44"/>
<polygon points="2471,389 2471.9,388.38 2472.7,387.86 2473.8,387.42 2487.1,387.3 2491.8,387.69 2495.3,388.18 2498.8,388.76 2495.3,389.4 2491.8,389.95 2487.1,390.42 2473.8,390.54 2472.7,390.12 2471.9,389.61"/>
<polygon points="2511.7,388.65 2512.4,388.53 2513,388.43 2513.8,388.35 2514.6,388.42 2515.2,388.5 2515.8,388.61 2515.2,388.73 2514.6,388.83 2513.8,388.91 2513,388.84 2512.4,388.75"/>
<polygon points="2525.9,388.52 2528.6,388.24 2531.3,388.01 2534.9,387.79 2539.7,387.75 2541.5,387.92 2542.8,388.12 2544.1,388.36 2542.8,388.63 2541.5,388.86 2539.7,389.05 2534.9,389.09 2531.3,388.94 2528.6,388.75"/>
<polygon points="2542.4,388.38 2545.9,387.62 2549.4,386.98 2554.1,386.43 2595,386.07 2596,386.57 2596.7,387.18 2597.4,387.89 2596.7,388.63 2596,389.24 2595,389.76 2554.1,390.12 2549.4,389.65 2545.9,389.07"/>
<polygon points="2597.9,387.89 2598.6,387.22 2599.3,386.65 2600.3,386.17 2621.2,385.99 2626.9,386.41 2631.1,386.93 2635.3,387.56 2631.1,388.27 2626.9,388.86 2621.2,389.39 2600.3,389.57 2599.3,389.11 2598.6,388.55"/>
<polygon points="2639.6,387.52 2643.9,386.76 2648.1,386.12 2653.7,385.56 2674.7,385.37 2674.7,385.37 2674.7,389.06 2674.7,389.06 2653.7,389.24 2648.1,388.78 2643.9,388.21"/>
<polygon points="1830,453.11 1830,453.11 1954.8,452.04 1956.6,452.61 1957.9,453.3 1959.3,454.12 1957.9,454.97 1956.6,455.68 1954.8,456.28 1830,457.35 1830,457.35"/>
<polygon points="1955.7,454.15 1957.1,453.31 1958.4,452.6 1960.2,451.99 2052.3,451.21 2054.1,451.78 2055.4,452.47 2056.8,453.29 2055.4,454.14 2054.1,454.85 2052.3,455.45 1960.2,456.24 1958.4,455.67 1957.1,454.98"/>
<polygon points="2053.2,453.32 2054.5,452.48 2055.9,451.77 2057.7,451.16 2220.2,449.77 2222,450.35 2223.3,451.04 2224.7,451.86 2223.3,452.7 2222,453.42 2220.2,454.02 2057.7,455.41 2055.9,454.83 2054.5,454.15"/>
<polygon points="2221.4,451.89 2222,451.05 2222.6,450.34 2223.3,449.75 2224.1,450.33 2224.7,451.02 2225.3,451.85 2224.7,452.69 2224.1,453.4 2223.3,453.99 2222.6,453.41 2222,452.72"/>
<polygon points="2222,451.88 2223.3,451.04 2224.6,450.33 2226.4,449.72 2601.8,446.52 2603.6,447.09 2604.9,447.78 2606.2,448.6 2604.9,449.45 2603.6,450.16 2601.8,450.76 2226.4,453.97 2224.6,453.39 2223.3,452.71"/>
<polygon points="2602.7,448.63 2604,447.79 2605.4,447.08 2607.1,446.47 2680.1,445.85 2680.1,445.85 2680.1,450.09 2680.1,450.09 2607.1,450.72 2605.4,450.14 2604,449.46"/>
<polygon points="1830,489.9 1830,489.9 1954.8,488.85 1956.6,489.43 1957.9,490.12 1959.3,490.94 1957.9,491.78 1956.6,492.49 1954.8,493.1 1830,494.15 1830,494.15"/>
<polygon points="1955.7,490.97 1957.1,490.12 1958.4,489.41 1960.2,488.81 2052.3,488.03 2054.1,488.61 2055.4,489.3 2056.8,490.12 2055.4,490.96 2054.1,491.67 2052.3,492.28 1960.2,493.05 1958.4,492.48 1957.1,491.79"/>
<polygon points="2053.2,490.15 2054.5,489.3 2055.9,488.59 2057.7,487.99 2220.2,486.62 2222,487.19 2223.3,487.88 2224.7,488.71 2223.3,489.55 2222,490.26 2220.2,490.87 2057.7,492.23 2055.9,491.66 2054.5,490.97"/>
<polygon points="2221.4,488.73 2222,487.89 2222.6,487.19 2223.3,486.59 2224.1,487.18 2224.7,487.87 2225.3,488.7 2224.7,489.54 2224.1,490.24 2223.3,490.84 2222.6,490.26 2222,489.56"/>
<polygon points="2222,488.73 2223.3,487.88 2224.6,487.17 2226.4,486.57 2601.8,483.41 2603.6,483.98 2604.9,484.67 2606.2,485.5 2604.9,486.34 2603.6,487.05 2601.8,487.65 2226.4,490.81 2224.6,490.24 2223.3,489.55"/>
<polygon points="2602.7,485.53 2604,484.68 2605.4,483.97 2607.1,483.37 2680.1,482.75 2680.1,482.75 2680.1,487 2680.1,487 2607.1,487.61 2605.4,487.04 2604,486.35"/>
<polygon points="1830,563.23 1830,563.23 2680.1,556.9 2680.1,556.9 2680.1,560.67 2680.1,560.67 1830,567 1830,567"/>
<polygon points="1830,600.42 1830,600.42 2680.1,594.31 2680.1,594.31 2680.1,598.08 2680.1,598.08 1830,604.19 1830,604.19"/>
<polygon points="1830,689.83 1830,689.83 2680.1,684.96 2680.1,684.96 2680.1,688.47 2680.1,688.47 1830,693.34 1830,693.34"/>
<polygon points="1830,727.44 1830,727.44 2680.1,722.25 2680.1,722.25 2680.1,725.76 2680.1,725.76 1830,730.95 1830,730.95"/>
</g>
<g class="i" filter="url(#cm2)">
<polygon style="fill:#000" points="1825,79.85 2685.1,79.85 2685.1,159.59 1825,168.71"/>
<polygon fill-opacity="0.521" points="1879,124.44 1881.9,123.97 1884.7,123.67 1898.1,123.53 1901,123.76 1903.9,124.17 1901,124.63 1898.1,124.93 1884.7,125.07 1881.9,124.84"/>
<polygon fill-opacity="0.879" points="1909.9,124.1 1912.7,123.64 1915.6,123.34 1938.2,123.1 1941.1,123.33 1943.9,123.74 1941.1,124.2 1938.2,124.5 1915.6,124.74 1912.7,124.51"/>
<polygon fill-opacity="0.521" points="1953.3,123.64 1956.2,123.17 1959,122.88 1964.9,122.81 1967.8,123.05 1970.6,123.45 1967.8,123.92 1964.9,124.21 1959,124.28 1956.2,124.04"/>
<polygon fill-opacity="0.228" points="1995.8,123.18 1998.7,122.72 2001.6,122.42 2003.3,122.4 2006.2,122.64 2009,123.04 2006.2,123.51 2003.3,123.8 2001.6,123.82 1998.7,123.58"/>
<polygon fill-opacity="0.456" points="2177.9,121.23 2180.3,120.77 2182.7,120.48 2185.1,120.72 2187.5,121.12 2185.1,121.58 2182.7,121.88 2180.3,121.64"/>
<polygon fill-opacity="0.846" points="2190.3,121.09 2193.2,120.63 2196.1,120.33 2204.5,120.24 2207.3,120.48 2210.2,120.88 2207.3,121.35 2204.5,121.64 2196.1,121.73 2193.2,121.5"/>
<polygon fill-opacity="0.977" points="2227.9,120.69 2230.8,120.23 2233.7,119.93 2256.2,119.69 2259.1,119.92 2262,120.33 2259.1,120.79 2256.2,121.09 2233.7,121.33 2230.8,121.1"/>
<polygon fill-opacity="0.912" points="2245.6,120.5 2248.5,120.04 2251.3,119.74 2255.5,119.69 2258.4,119.93 2261.3,120.33 2258.4,120.8 2255.5,121.09 2251.3,121.14 2248.5,120.91"/>
<polygon fill-opacity="0.391" points="2269.2,120.25 2271.1,119.79 2273,119.51 2275,119.75 2276.9,120.17 2275,120.62 2273,120.91 2271.1,120.66"/>
<polygon fill-opacity="0.846" points="2276.5,120.17 2279.3,119.7 2282.2,119.41 2293.9,119.28 2296.8,119.52 2299.7,119.92 2296.8,120.39 2293.9,120.68 2282.2,120.81 2279.3,120.57"/>
<polygon fill-opacity="0.521" points="2300.2,119.92 2301.7,119.47 2303.1,119.18 2304.5,119.43 2306,119.85 2304.5,120.3 2303.1,120.58 2301.7,120.33"/>
<polygon fill-opacity="0.391" points="2308.2,119.83 2311.1,119.36 2313.9,119.07 2316.5,119.04 2319.3,119.28 2322.2,119.68 2319.3,120.14 2316.5,120.44 2313.9,120.47 2311.1,120.23"/>
<polygon fill-opacity="0.195" points="2364.4,119.23 2366.3,118.77 2368.2,118.49 2370.1,118.73 2372,119.14 2370.1,119.6 2368.2,119.89 2366.3,119.64"/>
<polygon fill-opacity="0.521" points="2372.5,119.14 2375.3,118.67 2378.2,118.38 2384.9,118.31 2387.8,118.54 2390.7,118.94 2387.8,119.41 2384.9,119.71 2378.2,119.78 2375.3,119.54"/>
<polygon fill-opacity="0.488" points="2416.2,118.67 2417.9,118.22 2419.5,117.93 2421.2,118.18 2422.9,118.6 2421.2,119.05 2419.5,119.33 2417.9,119.09"/>
<polygon fill-opacity="1" points="2421.7,118.61 2424.6,118.15 2427.5,117.85 2440,117.72 2442.9,117.95 2445.7,118.35 2442.9,118.82 2440,119.12 2427.5,119.25 2424.6,119.02"/>
<polygon fill-opacity="1" points="2447.6,118.33 2450.5,117.87 2453.3,117.57 2465,117.45 2467.9,117.68 2470.8,118.08 2467.9,118.55 2465,118.85 2453.3,118.97 2450.5,118.74"/>
<polygon fill-opacity="0.879" points="2477.6,118.01 2480.5,117.55 2483.4,117.25 2483.4,117.25 2486.3,117.48 2489.2,117.89 2486.3,118.35 2483.4,118.65 2483.4,118.65 2480.5,118.42"/>
<polygon fill-opacity="0.879" points="2489.4,117.89 2492,117.42 2494.7,117.13 2497.3,117.37 2499.9,117.77 2497.3,118.24 2494.7,118.53 2492,118.29"/>
<polygon fill-opacity="1" points="2500.2,117.77 2503,117.3 2505.9,117.01 2521,116.85 2523.8,117.08 2526.7,117.48 2523.8,117.95 2521,118.25 2505.9,118.41 2503,118.17"/>
<polygon fill-opacity="0.814" points="2528,117.47 2529.7,117.02 2531.4,116.73 2533.1,116.98 2534.7,117.4 2533.1,117.85 2531.4,118.13 2529.7,117.89"/>
<polygon fill-opacity="1" points="2538.6,117.36 2541.4,116.89 2544.3,116.6 2549.3,116.54 2552.2,116.78 2555.1,117.18 2552.2,117.65 2549.3,117.94 2544.3,118 2541.4,117.76"/>
<polygon fill-opacity="0.879" points="2555.4,117.18 2557.8,116.72 2560.2,116.43 2562.6,116.67 2565,117.07 2562.6,117.53 2560.2,117.83 2557.8,117.59"/>
<polygon fill-opacity="0.456" points="2576.5,116.95 2577.9,116.5 2579.4,116.22 2580.8,116.47 2582.3,116.89 2580.8,117.34 2579.4,117.62 2577.9,117.37"/>
<polygon fill-opacity="0.456" points="2584,116.87 2585.5,116.42 2586.9,116.14 2588.3,116.39 2589.8,116.81 2588.3,117.26 2586.9,117.54 2585.5,117.29"/>
<polygon fill-opacity="1" points="2592.8,116.78 2595.7,116.31 2598.6,116.01 2606.1,115.93 2609,116.17 2611.9,116.57 2609,117.04 2606.1,117.33 2598.6,117.41 2595.7,117.18"/>
<polygon fill-opacity="1" points="2612,116.57 2614.9,116.1 2617.8,115.81 2635.3,115.62 2638.2,115.85 2641.1,116.26 2638.2,116.72 2635.3,117.02 2617.8,117.21 2614.9,116.97"/>
<polygon fill-opacity="0.651" points="2641.2,116.26 2644.1,115.79 2647,115.49 2647,115.49 2649.9,115.73 2652.8,116.13 2649.9,116.6 2647,116.89 2647,116.89 2644.1,116.66"/>
<polygon fill-opacity="0.912" points="2652.9,116.13 2655.8,115.67 2658.7,115.37 2662,115.33 2664.9,115.57 2667.8,115.97 2664.9,116.44 2662,116.73 2658.7,116.77 2655.8,116.53"/>
<polygon fill-opacity="0.521" points="1879,161.14 1881.9,160.67 1884.7,160.38 1898.1,160.24 1901,160.47 1903.9,160.88 1901,161.34 1898.1,161.64 1884.7,161.78 1881.9,161.54"/>
<polygon fill-opacity="0.879" points="1909.9,160.81 1912.7,160.35 1915.6,160.05 1938.2,159.81 1941.1,160.05 1943.9,160.45 1941.1,160.92 1938.2,161.21 1915.6,161.45 1912.7,161.22"/>
<polygon fill-opacity="0.521" points="1953.3,160.35 1956.2,159.89 1959,159.59 1964.9,159.53 1967.8,159.76 1970.6,160.17 1967.8,160.63 1964.9,160.93 1959,160.99 1956.2,160.76"/>
<polygon fill-opacity="0.228" points="1995.8,159.9 1998.7,159.43 2001.6,159.14 2003.3,159.12 2006.2,159.36 2009,159.76 2006.2,160.22 2003.3,160.52 2001.6,160.54 1998.7,160.3"/>
<polygon fill-opacity="0.456" points="2177.9,157.97 2180.3,157.51 2182.7,157.22 2185.1,157.46 2187.5,157.87 2185.1,158.33 2182.7,158.62 2180.3,158.38"/>
<polygon fill-opacity="0.846" points="2190.3,157.84 2193.2,157.37 2196.1,157.08 2204.5,156.99 2207.3,157.22 2210.2,157.63 2207.3,158.09 2204.5,158.39 2196.1,158.48 2193.2,158.24"/>
<polygon fill-opacity="0.977" points="2227.9,157.44 2230.8,156.97 2233.7,156.68 2256.2,156.44 2259.1,156.67 2262,157.08 2259.1,157.54 2256.2,157.84 2233.7,158.08 2230.8,157.84"/>
<polygon fill-opacity="0.912" points="2245.6,157.25 2248.5,156.79 2251.3,156.49 2255.5,156.44 2258.4,156.68 2261.3,157.08 2258.4,157.55 2255.5,157.84 2251.3,157.89 2248.5,157.65"/>
<polygon fill-opacity="0.391" points="2269.2,157 2271.1,156.54 2273,156.26 2275,156.5 2276.9,156.92 2275,157.37 2273,157.66 2271.1,157.41"/>
<polygon fill-opacity="0.846" points="2276.5,156.92 2279.3,156.46 2282.2,156.16 2293.9,156.04 2296.8,156.27 2299.7,156.68 2296.8,157.14 2293.9,157.44 2282.2,157.56 2279.3,157.33"/>
<polygon fill-opacity="0.521" points="2300.2,156.67 2301.7,156.22 2303.1,155.94 2304.5,156.19 2306,156.61 2304.5,157.06 2303.1,157.34 2301.7,157.09"/>
<polygon fill-opacity="0.391" points="2308.2,156.59 2311.1,156.12 2313.9,155.83 2316.5,155.8 2319.3,156.03 2322.2,156.44 2319.3,156.9 2316.5,157.2 2313.9,157.23 2311.1,156.99"/>
<polygon fill-opacity="0.195" points="2364.4,155.99 2366.3,155.54 2368.2,155.25 2370.1,155.49 2372,155.91 2370.1,156.36 2368.2,156.65 2366.3,156.4"/>
<polygon fill-opacity="0.521" points="2372.5,155.9 2375.3,155.44 2378.2,155.14 2384.9,155.07 2387.8,155.31 2390.7,155.71 2387.8,156.18 2384.9,156.47 2378.2,156.54 2375.3,156.31"/>
<polygon fill-opacity="0.488" points="2416.2,155.44 2417.9,154.99 2419.5,154.7 2421.2,154.95 2422.9,155.37 2421.2,155.82 2419.5,156.1 2417.9,155.86"/>
<polygon fill-opacity="1" points="2421.7,155.38 2424.6,154.92 2427.5,154.62 2440,154.49 2442.9,154.72 2445.7,155.13 2442.9,155.59 2440,155.89 2427.5,156.02 2424.6,155.79"/>
<polygon fill-opacity="1" points="2447.6,155.11 2450.5,154.64 2453.3,154.35 2465,154.22 2467.9,154.46 2470.8,154.86 2467.9,155.33 2465,155.62 2453.3,155.75 2450.5,155.51"/>
<polygon fill-opacity="0.879" points="2477.6,154.79 2480.5,154.32 2483.4,154.03 2483.4,154.03 2486.3,154.26 2489.2,154.67 2486.3,155.13 2483.4,155.43 2483.4,155.43 2480.5,155.19"/>
<polygon fill-opacity="0.879" points="2489.4,154.66 2492,154.2 2494.7,153.91 2497.3,154.15 2499.9,154.55 2497.3,155.01 2494.7,155.31 2492,155.07"/>
<polygon fill-opacity="1" points="2500.2,154.55 2503,154.08 2505.9,153.79 2521,153.63 2523.8,153.86 2526.7,154.27 2523.8,154.73 2521,155.03 2505.9,155.19 2503,154.95"/>
<polygon fill-opacity="0.814" points="2528,154.25 2529.7,153.8 2531.4,153.52 2533.1,153.77 2534.7,154.18 2533.1,154.64 2531.4,154.92 2529.7,154.67"/>
<polygon fill-opacity="1" points="2538.6,154.14 2541.4,153.68 2544.3,153.38 2549.3,153.33 2552.2,153.56 2555.1,153.97 2552.2,154.43 2549.3,154.73 2544.3,154.78 2541.4,154.55"/>
<polygon fill-opacity="0.879" points="2555.4,153.96 2557.8,153.5 2560.2,153.21 2562.6,153.45 2565,153.86 2562.6,154.32 2560.2,154.61 2557.8,154.37"/>
<polygon fill-opacity="0.456" points="2576.5,153.74 2577.9,153.29 2579.4,153.01 2580.8,153.26 2582.3,153.68 2580.8,154.13 2579.4,154.41 2577.9,154.16"/>
<polygon fill-opacity="0.456" points="2584,153.66 2585.5,153.21 2586.9,152.93 2588.3,153.18 2589.8,153.6 2588.3,154.05 2586.9,154.33 2585.5,154.08"/>
<polygon fill-opacity="1" points="2592.8,153.57 2595.7,153.1 2598.6,152.81 2606.1,152.73 2609,152.96 2611.9,153.36 2609,153.83 2606.1,154.13 2598.6,154.21 2595.7,153.97"/>
<polygon fill-opacity="1" points="2612,153.36 2614.9,152.9 2617.8,152.6 2635.3,152.42 2638.2,152.65 2641.1,153.05 2638.2,153.52 2635.3,153.82 2617.8,154 2614.9,153.77"/>
<polygon fill-opacity="0.651" points="2641.2,153.05 2644.1,152.59 2647,152.29 2647,152.29 2649.9,152.53 2652.8,152.93 2649.9,153.4 2647,153.69 2647,153.69 2644.1,153.46"/>
<polygon fill-opacity="0.912" points="2652.9,152.93 2655.8,152.46 2658.7,152.17 2662,152.13 2664.9,152.37 2667.8,152.77 2664.9,153.24 2662,153.53 2658.7,153.57 2655.8,153.33"/>
</g>
<path class="dk" d="M1844.97,184.87 L2665.1,176.07"/><path class="dw" d="M1844.97,184.87 L2665.1,176.07"/>
<path class="dk" d="M1844.97,200.53 L2665.1,191.73"/><path class="dw" d="M1844.97,200.53 L2665.1,191.73"/>
<path class="dk" d="M1844.97,221.27 L2665.1,212.27"/><path class="dw" d="M1844.97,221.27 L2665.1,212.27"/>
<path class="dk" d="M1844.97,236.93 L2665.1,227.93"/><path class="dw" d="M1844.97,236.93 L2665.1,227.93"/>
<path class="dk" d="M1844.97,262.37 L2665.1,253.57"/><path class="dw" d="M1844.97,262.37 L2665.1,253.57"/>
<path class="dk" d="M1844.97,278.03 L2665.1,269.23"/><path class="dw" d="M1844.97,278.03 L2665.1,269.23"/>
<path class="dk" d="M1844.97,298.67 L2665.1,289.97"/><path class="dw" d="M1844.97,298.67 L2665.1,289.97"/>
<path class="dk" d="M1844.97,314.33 L2665.1,305.63"/><path class="dw" d="M1844.97,314.33 L2665.1,305.63"/>
<path class="dk" d="M1844.97,348.37 L2665.1,341.17"/><path class="dw" d="M1844.97,348.37 L2665.1,341.17"/>
<path class="dk" d="M1844.97,364.03 L2665.1,356.83"/><path class="dw" d="M1844.97,364.03 L2665.1,356.83"/>
<path class="dk" d="M1844.97,384.77 L2665.1,377.57"/><path class="dw" d="M1844.97,384.77 L2665.1,377.57"/>
<path class="dk" d="M1844.97,400.43 L2665.1,393.23"/><path class="dw" d="M1844.97,400.43 L2665.1,393.23"/>
<path class="dk" d="M1844.97,445.37 L2665.1,438.37"/><path class="dw" d="M1844.97,445.37 L2665.1,438.37"/>
<path class="dk" d="M1844.97,461.03 L2665.1,454.03"/><path class="dw" d="M1844.97,461.03 L2665.1,454.03"/>
<path class="dk" d="M1844.97,482.17 L2665.1,475.27"/><path class="dw" d="M1844.97,482.17 L2665.1,475.27"/>
<path class="dk" d="M1844.97,497.83 L2665.1,490.93"/><path class="dw" d="M1844.97,497.83 L2665.1,490.93"/>
<path class="dk" d="M1844.97,555.27 L2665.1,549.17"/><path class="dw" d="M1844.97,555.27 L2665.1,549.17"/>
<path class="dk" d="M1844.97,570.93 L2665.1,564.83"/><path class="dw" d="M1844.97,570.93 L2665.1,564.83"/>
<path class="dk" d="M1844.97,592.47 L2665.1,586.57"/><path class="dw" d="M1844.97,592.47 L2665.1,586.57"/>
<path class="dk" d="M1844.97,608.13 L2665.1,602.23"/><path class="dw" d="M1844.97,608.13 L2665.1,602.23"/>
<path class="dk" d="M1844.97,681.27 L2665.1,676.37"/><path class="dw" d="M1844.97,681.27 L2665.1,676.37"/>
<path class="dk" d="M1844.97,696.93 L2665.1,692.03"/><path class="dw" d="M1844.97,696.93 L2665.1,692.03"/>
<path class="dk" d="M1844.97,719.37 L2665.1,714.37"/><path class="dw" d="M1844.97,719.37 L2665.1,714.37"/>
<path class="dk" d="M1844.97,735.03 L2665.1,730.03"/><path class="dw" d="M1844.97,735.03 L2665.1,730.03"/>
</g>
<rect class="sp" x="1844.97" y="99.85" width="820.13" height="713.05"/>
<line class="tk" x1="1845.17" y1="812.9" x2="1845.17" y2="820.2"/>
<text class="t" x="1846.07" y="843.4" text-anchor="middle">0</text>
<line class="tk" x1="1945.43" y1="812.9" x2="1945.43" y2="820.2"/>
<text class="t" x="1946.33" y="843.4" text-anchor="middle">250</text>
<line class="tk" x1="2045.7" y1="812.9" x2="2045.7" y2="820.2"/>
<text class="t" x="2046.6" y="843.4" text-anchor="middle">500</text>
<line class="tk" x1="2145.96" y1="812.9" x2="2145.96" y2="820.2"/>
<text class="t" x="2146.86" y="843.4" text-anchor="middle">750</text>
<line class="tk" x1="2246.22" y1="812.9" x2="2246.22" y2="820.2"/>
<text class="t" x="2247.12" y="843.4" text-anchor="middle">1000</text>
<line class="tk" x1="2346.48" y1="812.9" x2="2346.48" y2="820.2"/>
<text class="t" x="2347.38" y="843.4" text-anchor="middle">1250</text>
<line class="tk" x1="2446.74" y1="812.9" x2="2446.74" y2="820.2"/>
<text class="t" x="2447.64" y="843.4" text-anchor="middle">1500</text>
<line class="tk" x1="2547.01" y1="812.9" x2="2547.01" y2="820.2"/>
<text class="t" x="2547.91" y="843.4" text-anchor="middle">1750</text>
<line class="tk" x1="2647.27" y1="812.9" x2="2647.27" y2="820.2"/>
<text class="t" x="2648.17" y="843.4" text-anchor="middle">2000</text>
<line class="tk" x1="1838.57" y1="812.73" x2="1844.97" y2="812.73"/>
<line class="tk" x1="1838.57" y1="725.68" x2="1844.97" y2="725.68"/>
<line class="tk" x1="1838.57" y1="638.64" x2="1844.97" y2="638.64"/>
<line class="tk" x1="1838.57" y1="551.6" x2="1844.97" y2="551.6"/>
<line class="tk" x1="1838.57" y1="464.56" x2="1844.97" y2="464.56"/>
<line class="tk" x1="1838.57" y1="377.51" x2="1844.97" y2="377.51"/>
<line class="tk" x1="1838.57" y1="290.47" x2="1844.97" y2="290.47"/>
<line class="tk" x1="1838.57" y1="203.43" x2="1844.97" y2="203.43"/>
<line class="tk" x1="1838.57" y1="116.39" x2="1844.97" y2="116.39"/>
<text class="h" x="2255.03" y="87" text-anchor="middle">CHIP3</text>
<text class="t" x="2256.03" y="871.7" text-anchor="middle">pixel</text>
<text class="t" x="1350" y="34.3" text-anchor="middle" xml:space="preserve" style="white-space:pre">ome_Car_L3340_2024-03-18_03393  (extract_height=45)</text>
<text class="t" transform="translate(40.4,459) rotate(-90)" text-anchor="middle">pixel</text>
</svg></body></html>
